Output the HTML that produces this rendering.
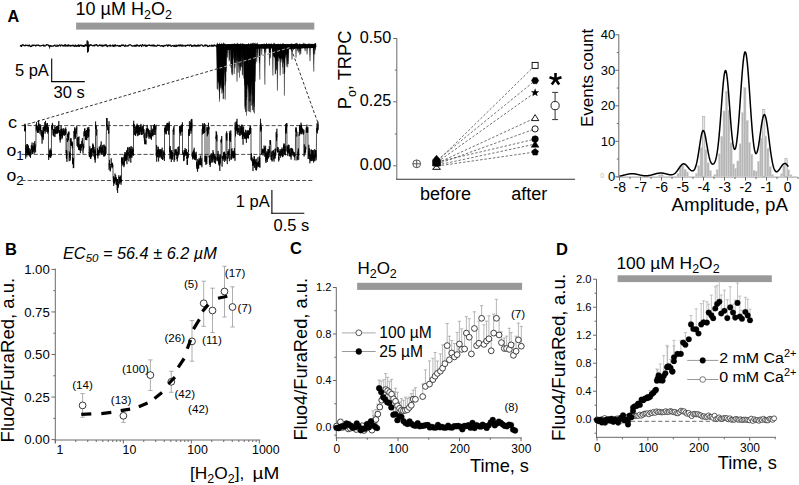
<!DOCTYPE html>
<html><head><meta charset="utf-8"><style>
html,body{margin:0;padding:0;background:#fff;}
svg{display:block;font-family:"Liberation Sans", sans-serif;}
</style></head><body>
<svg width="799" height="485" viewBox="0 0 799 485">
<rect width="799" height="485" fill="#fff"/>
<text x="7.6" y="21.6" font-size="16.2" font-weight="bold">A</text>
<text x="75.6" y="14.7" font-size="18">10 µM H<tspan font-size="12.5" dy="4">2</tspan><tspan dy="-4">O</tspan><tspan font-size="12.5" dy="4">2</tspan></text>
<rect x="76.1" y="22.6" width="238.2" height="7" fill="#999999"/>
<path d="M20 45.71 L20.35 46.06 L20.7 45.14 L21.05 45.62 L21.4 46.46 L21.75 46.47 L22.1 44.78 L22.45 44.96 L22.8 44.61 L23.15 45.47 L23.5 44.57 L23.85 45.51 L24.2 45.93 L24.55 45.11 L24.9 45.99 L25.25 45.8 L25.6 44.55 L25.95 45.73 L26.3 45.07 L26.65 45.41 L27 45.12 L27.35 46.02 L27.7 45.47 L28.05 44.85 L28.4 45.7 L28.75 46.22 L29.1 45.17 L29.45 44.99 L29.8 45.35 L30.15 46.56 L30.5 46.65 L30.85 45.98 L31.2 46.49 L31.55 46.36 L31.9 45.33 L32.25 44.7 L32.6 45.94 L32.95 45.73 L33.3 45.3 L33.65 45 L34 45.39 L34.35 45.53 L34.7 45.09 L35.05 45.14 L35.4 45.51 L35.75 46.39 L36.1 45.79 L36.45 45.12 L36.8 45.11 L37.15 45.5 L37.5 44.95 L37.85 44.94 L38.2 45.63 L38.55 44.69 L38.9 45.56 L39.25 45.3 L39.6 46.06 L39.95 46.14 L40.3 46.02 L40.65 46.02 L41 45.32 L41.35 45.97 L41.7 45.25 L42.05 45.76 L42.4 45.22 L42.75 45.48 L43.1 44.64 L43.45 45.03 L43.8 46.64 L44.15 45.01 L44.5 46.02 L44.85 45.93 L45.2 46.09 L45.55 45.55 L45.9 45.81 L46.25 44.65 L46.6 44.66 L46.95 44.94 L47.3 44.83 L47.65 44.72 L48 44.78 L48.35 45.72 L48.7 44.91 L49.05 46.59 L49.4 46 L49.75 45.69 L50.1 46.06 L50.45 45.08 L50.8 46.54 L51.15 46.35 L51.5 46.1 L51.85 45.56 L52.2 46.35 L52.55 46.14 L52.9 45.95 L53.25 46.51 L53.6 45.89 L53.95 45.31 L54.3 45.72 L54.65 44.93 L55 44.92 L55.35 46.1 L55.7 46.23 L56.05 46.64 L56.4 46.37 L56.75 45.7 L57.1 44.7 L57.45 45.58 L57.8 46.54 L58.15 46.23 L58.5 45.57 L58.85 45.5 L59.2 44.98 L59.55 44.89 L59.9 44.66 L60.25 46.46 L60.6 45.91 L60.95 44.82 L61.3 45.41 L61.65 44.61 L62 44.96 L62.35 46.11 L62.7 45.93 L63.05 45.55 L63.4 45.1 L63.75 45.93 L64.1 46.6 L64.45 45.46 L64.8 44.65 L65.15 44.63 L65.5 44.68 L65.85 46.61 L66.2 45.69 L66.55 46.34 L66.9 44.87 L67.25 45.07 L67.6 46.02 L67.95 46.47 L68.3 45.25 L68.65 44.64 L69 46.4 L69.35 45.14 L69.7 46.13 L70.05 44.85 L70.4 46.03 L70.75 46.35 L71.1 46.1 L71.45 45.29 L71.8 46.1 L72.15 44.81 L72.5 45.19 L72.85 45.42 L73.2 46.43 L73.55 44.84 L73.9 46.44 L74.25 46.26 L74.6 46.64 L74.95 45.31 L75.3 44.95 L75.65 45.03 L76 46.32 L76.35 46.62 L76.7 46.04 L77.05 45.56 L77.4 45.13 L77.75 46.33 L78.1 46.42 L78.45 44.7 L78.8 44.98 L79.15 46.33 L79.5 46.37 L79.85 45.19 L80.2 45.11 L80.55 45.45 L80.9 45.69 L81.25 44.71 L81.6 46.34 L81.95 45.68 L82.3 46.2 L82.65 45.01 L83 46.62 L83.35 46.15 L83.7 45.25 L84.05 46.59 L84.4 46.04 L84.75 46.35 L85.1 44.6 L85.45 44.62 L85.8 46.13 L86.15 45.17 L86.5 45.64 L86.85 44.84 L87.2 46.65 L87.55 45.61 L87.9 46.32 L88.25 44.66 L88.6 45.55 L88.95 44.64 L89.3 46.45 L89.65 45.48 L90 44.65 L90.35 44.67 L90.7 45.69 L91.05 44.67 L91.4 44.9 L91.75 45.46 L92.1 45.6 L92.45 45.78 L92.8 45.87 L93.15 45.32 L93.5 45.86 L93.85 44.85 L94.2 45.11 L94.55 46.26 L94.9 44.84 L95.25 44.99 L95.6 45.03 L95.95 45.55 L96.3 44.5 L96.65 44.57 L97 45.52 L97.35 44.86 L97.7 45.99 L98.05 46.25 L98.4 45.77 L98.75 46.03 L99.1 45.36 L99.45 44.6 L99.8 45.47 L100.15 45.32 L100.5 45.81 L100.85 44.8 L101.2 45 L101.55 46.29 L101.9 45.08 L102.25 45.4 L102.6 46.56 L102.95 45.11 L103.3 44.82 L103.65 46.04 L104 45.75 L104.35 45.85 L104.7 44.59 L105.05 45.42 L105.4 44.51 L105.75 45.04 L106.1 46.05 L106.45 44.64 L106.8 45.15 L107.15 46.67 L107.5 46.64 L107.85 45.56 L108.2 46.12 L108.55 45.89 L108.9 45.52 L109.25 46.39 L109.6 44.88 L109.95 46.32 L110.3 44.59 L110.65 46.41 L111 45.99 L111.35 45.48 L111.7 45.98 L112.05 45.51 L112.4 46.22 L112.75 44.75 L113.1 45.62 L113.45 46.42 L113.8 46.54 L114.15 44.98 L114.5 45.05 L114.85 46.49 L115.2 45.26 L115.55 44.63 L115.9 46.07 L116.25 45.41 L116.6 46.12 L116.95 45.55 L117.3 45.6 L117.65 45.42 L118 45.14 L118.35 46.48 L118.7 45.97 L119.05 46.24 L119.4 46.47 L119.75 45.05 L120.1 46.52 L120.45 46.4 L120.8 45.61 L121.15 45.75 L121.5 44.75 L121.85 46.18 L122.2 44.88 L122.55 45.67 L122.9 44.78 L123.25 44.66 L123.6 45.84 L123.95 45.58 L124.3 45.98 L124.65 46.24 L125 46.66 L125.35 44.68 L125.7 45.89 L126.05 45.77 L126.4 45.93 L126.75 45.69 L127.1 45.73 L127.45 46.41 L127.8 45.49 L128.15 45.68 L128.5 46.02 L128.85 44.7 L129.2 45.45 L129.55 44.72 L129.9 44.8 L130.25 44.5 L130.6 44.96 L130.95 44.98 L131.3 45.64 L131.65 45.75 L132 46.31 L132.35 45.57 L132.7 46.46 L133.05 45.37 L133.4 46.14 L133.75 45.72 L134.1 45.87 L134.45 45.09 L134.8 46.56 L135.15 46.19 L135.5 44.82 L135.85 45.68 L136.2 46.69 L136.55 44.61 L136.9 45.17 L137.25 46.13 L137.6 44.59 L137.95 46.14 L138.3 45.76 L138.65 46.11 L139 45.71 L139.35 46.57 L139.7 45.26 L140.05 45.76 L140.4 44.61 L140.75 45.72 L141.1 45.42 L141.45 46.66 L141.8 46.58 L142.15 44.8 L142.5 44.59 L142.85 44.77 L143.2 44.92 L143.55 46.1 L143.9 45.7 L144.25 45.68 L144.6 45.52 L144.95 44.51 L145.3 45.36 L145.65 46.7 L146 46.3 L146.35 45.76 L146.7 44.93 L147.05 46.53 L147.4 45.43 L147.75 45.86 L148.1 44.95 L148.45 45.22 L148.8 45.26 L149.15 45.37 L149.5 44.55 L149.85 45.95 L150.2 44.87 L150.55 45.83 L150.9 45.86 L151.25 46.04 L151.6 45.14 L151.95 45.14 L152.3 46.16 L152.65 45.35 L153 44.84 L153.35 46.49 L153.7 44.53 L154.05 46.45 L154.4 45.14 L154.75 45.34 L155.1 46.65 L155.45 45.46 L155.8 46.07 L156.15 45.41 L156.5 46.51 L156.85 46.08 L157.2 45.56 L157.55 44.69 L157.9 45.3 L158.25 45.58 L158.6 45.12 L158.95 45.68 L159.3 44.96 L159.65 45.59 L160 45.66 L160.35 45.98 L160.7 46.14 L161.05 46.11 L161.4 45.43 L161.75 45.5 L162.1 46.42 L162.45 45.3 L162.8 46.12 L163.15 46.69 L163.5 46.53 L163.85 45.71 L164.2 45.17 L164.55 45.87 L164.9 46.01 L165.25 45.66 L165.6 45.25 L165.95 45.5 L166.3 44.68 L166.65 45.14 L167 44.82 L167.35 45.97 L167.7 46.61 L168.05 44.85 L168.4 44.56 L168.75 46.13 L169.1 45.28 L169.45 45.61 L169.8 44.63 L170.15 44.89 L170.5 46.03 L170.85 45.83 L171.2 46.38 L171.55 46.62 L171.9 45.29 L172.25 45.86 L172.6 45.48 L172.95 45.61 L173.3 45.36 L173.65 46.65 L174 45.87 L174.35 44.81 L174.7 46.04 L175.05 46.62 L175.4 46.47 L175.75 45.73 L176.1 44.53 L176.45 46.27 L176.8 46.55 L177.15 46.11 L177.5 45.44 L177.85 45.34 L178.2 46.14 L178.55 44.74 L178.9 46.23 L179.25 45.6 L179.6 44.65 L179.95 46.31 L180.3 45.36 L180.65 44.73 L181 44.88 L181.35 46.39 L181.7 44.88 L182.05 46.23 L182.4 46.27 L182.75 44.69 L183.1 45.46 L183.45 46.23 L183.8 45.58 L184.15 46.41 L184.5 45.34 L184.85 45.88 L185.2 44.97 L185.55 46.35 L185.9 46.35 L186.25 45.74 L186.6 45.21 L186.95 45.26 L187.3 45.81 L187.65 44.78 L188 45.62 L188.35 45.15 L188.7 45.25 L189.05 45.21 L189.4 46.34 L189.75 44.89 L190.1 45.02 L190.45 44.86 L190.8 44.53 L191.15 45.44 L191.5 46.36 L191.85 46.49 L192.2 45.57 L192.55 45.43 L192.9 46.41 L193.25 45.66 L193.6 45.71 L193.95 45.93 L194.3 44.68 L194.65 46.34 L195 44.73 L195.35 45.67 L195.7 46.54 L196.05 45.71 L196.4 45.25 L196.75 46.1 L197.1 46.48 L197.45 45.86 L197.8 44.62 L198.15 46.43 L198.5 44.54 L198.85 45.99 L199.2 46.48 L199.55 44.85 L199.9 45.66 L200.25 46.05 L200.6 44.89 L200.95 45.04 L201.3 44.65 L201.65 44.85 L202 44.76 L202.35 45.14 L202.7 46.15 L203.05 46.03 L203.4 46.18 L203.75 45.95 L204.1 46.25 L204.45 44.83 L204.8 45.72 L205.15 44.55 L205.5 45.58 L205.85 46.36 L206.2 45.54 L206.55 45.15 L206.9 45.1 L207.25 45.37 L207.6 46.51 L207.95 46.64 L208.3 46.15 L208.65 46.67 L209 46.18 L209.35 45.13 L209.7 45.46 L210.05 46.09 L210.4 46.06 L210.75 45.99 L211.1 45.57 L211.45 44.81 L211.8 46.61 L212.15 44.98 L212.5 46.65 L212.85 44.78 L213.2 46.66 L213.55 45.33 L213.9 46.28 L214.25 44.52 L214.6 45.48 L214.95 45.05 L215.3 46.03 L215.65 45.96 L216 45.52 L216.35 46.05 L216.7 46.65" fill="none" stroke="#000" stroke-width="1.1" stroke-linejoin="bevel"/>
<path d="M216.6 46.4 L217.05 68.45 L217.5 79.53 L217.95 82.99 L218.4 82.1 L218.85 91.89 L219.3 84.4 L219.75 93.9 L220.2 88.47 L220.65 82.4 L221.1 89.88 L221.55 78.99 L222 89.23 L222.45 87.82 L222.9 92.73 L223.35 89.67 L223.8 81.8 L224.25 76.18 L224.7 71.63 L225.15 59.76 L225.6 53.21 L226.05 49.5 L226.5 49.62 L226.95 49.69 L227.4 49.89 L227.85 50.22 L228.3 49.93 L228.75 50 L229.2 49.51 L229.65 49.81 L230.1 49.65 L230.55 50.29 L231 49.42 L231.45 50.14 L231.9 50.24 L232.35 50.01 L232.8 49.45 L233.25 49.7 L233.7 49.69 L234.15 49.72 L234.6 49.72 L235.05 50.57 L235.5 50.35 L235.95 50.47 L236.4 50.26 L236.85 49.82 L237.3 50.53 L237.75 49.98 L238.2 49.62 L238.65 50.28 L239.1 49.71 L239.55 50.39 L240 50.29 L240.45 49.75 L240.9 49.95 L241.35 50.26 L241.8 50.2 L242.25 50.03 L242.7 49.66 L243.15 58.69 L243.6 78.46 L244.05 78.98 L244.5 85.01 L244.95 85.76 L245.4 82.72 L245.85 80.4 L246.3 89.15 L246.75 85.81 L247.2 89.8 L247.65 84.32 L248.1 84.98 L248.55 89.42 L249 93.47 L249.45 85.62 L249.9 94.73 L250.35 94.96 L250.8 91.51 L251.25 91.41 L251.7 83.1 L252.15 80.07 L252.6 81.52 L253.05 76.82 L253.5 77.76 L253.95 75.26 L254.4 59.75 L254.85 51.75 L255.3 48.61 L255.75 48.4 L256.2 48.76 L256.65 48.6 L257.1 48.52 L257.55 48.66 L258 49.02 L258.45 48.84 L258.9 48.5 L259.35 48.97 L259.8 48.41 L260.25 48.58 L260.7 48.55 L261.15 49.01 L261.6 48.28 L262.05 48.76 L262.5 48.66 L262.95 48.39 L263.4 48.76 L263.85 48.88 L264.3 48.85 L264.75 48.33 L265.2 48.87 L265.65 48.53 L266.1 48.91 L266.55 48.7 L267 48.33 L267.45 48.83 L267.9 48.7 L268.35 48.61 L268.8 48.75 L269.25 48.61 L269.7 48.3 L270.15 48.96 L270.6 48.49 L271.05 48.48 L271.5 48.31 L271.95 48.81 L272.4 52.03 L272.85 54.29 L273.3 56.94 L273.75 56.16 L274.2 57.13 L274.65 57.54 L275.1 58.31 L275.55 60.27 L276 59.96 L276.45 58.37 L276.9 60.85 L277.35 58.74 L277.8 58.72 L278.25 57.48 L278.7 56.57 L279.15 58.84 L279.6 58.33 L280.05 60.87 L280.5 57.36 L280.95 61.31 L281.4 58.04 L281.85 59.11 L282.3 58.16 L282.75 59.94 L283.2 58.73 L283.65 58.07 L284.1 60.16 L284.55 58.04 L285 58.73 L285.45 57.69 L285.9 55.09 L286.35 55.2 L286.8 53.19 L287.25 52.56 L287.7 51.81 L288.15 50.24 L288.6 48.72 L289.05 48.7 L289.5 49.29 L289.95 49.21 L290.4 49.14 L290.85 48.74 L291.3 49.2 L291.75 49.01 L292.2 48.62 L292.65 48.62 L293.1 48.97 L293.55 49.24 L294 48.9 L294.45 48.64 L294.9 48.96 L295.35 48.53 L295.8 48.85 L296.25 48.65 L296.7 48.34 L297.15 48.69 L297.6 48.66 L298.05 48.94 L298.5 48.76 L298.95 48.44 L299.4 48.67 L299.85 48.36 L300.3 48.63 L300.75 48.57 L301.2 48.56 L301.65 48.22 L302.1 48.58 L302.55 48.44 L303 48.55 L303.45 48.07 L303.9 48.49 L304.35 48.61 L304.8 48.35 L305.25 48.05 L305.7 48.52 L306.15 48.27 L306.6 48.08 L307.05 48.26 L307.5 48.38 L307.95 47.92 L308.4 48.16 L308.85 48.18 L309.3 48.32 L309.75 47.8 L310.2 48.04 L310.65 48.14 L311.1 48.08 L311.55 48.16 L312 48.03 L312.45 47.99 L312.9 47.96 L313.35 47.71 L313.8 48.03 L314.25 47.84 L314.7 47.59 L315.15 47.94 L315.6 47.86 L316 44.3 L216.6 44.3 Z" fill="#000" stroke="none" stroke-width="0"/>
<path d="M221.98 45.6 L222.59 84.43 L223.2 45.6 Z" fill="#000" stroke="#000" stroke-width="0.35"/>
<path d="M222.5 45.6 L223 89.01 L223.49 45.6 Z" fill="#000" stroke="#000" stroke-width="0.35"/>
<path d="M223.45 45.6 L223.92 86.1 L224.39 45.6 Z" fill="#000" stroke="#000" stroke-width="0.35"/>
<path d="M219.47 45.6 L219.85 85.25 L220.23 45.6 Z" fill="#000" stroke="#000" stroke-width="0.35"/>
<path d="M216.72 45.6 L217.16 88.78 L217.59 45.6 Z" fill="#000" stroke="#000" stroke-width="0.35"/>
<path d="M222.57 45.6 L222.94 90.32 L223.32 45.6 Z" fill="#000" stroke="#000" stroke-width="0.35"/>
<path d="M219.07 45.6 L219.53 98.58 L220 45.6 Z" fill="#000" stroke="#000" stroke-width="0.35"/>
<path d="M222.76 45.6 L223.18 99.15 L223.59 45.6 Z" fill="#000" stroke="#000" stroke-width="0.35"/>
<path d="M219 45.6 L219.58 86.7 L220.15 45.6 Z" fill="#000" stroke="#000" stroke-width="0.35"/>
<path d="M224.62 45.6 L225.23 84.87 L225.84 45.6 Z" fill="#000" stroke="#000" stroke-width="0.35"/>
<path d="M223.16 45.6 L223.68 98.76 L224.2 45.6 Z" fill="#000" stroke="#000" stroke-width="0.35"/>
<path d="M222.58 45.6 L223.1 92.79 L223.62 45.6 Z" fill="#000" stroke="#000" stroke-width="0.35"/>
<path d="M219.67 45.6 L220.14 88.33 L220.61 45.6 Z" fill="#000" stroke="#000" stroke-width="0.35"/>
<path d="M216.88 45.6 L217.57 89.66 L218.26 45.6 Z" fill="#000" stroke="#000" stroke-width="0.35"/>
<path d="M220.58 45.6 L221.27 87.58 L221.97 45.6 Z" fill="#000" stroke="#000" stroke-width="0.35"/>
<path d="M224.67 45.6 L225.24 99.58 L225.82 45.6 Z" fill="#000" stroke="#000" stroke-width="0.35"/>
<path d="M230.28 45.6 L230.92 67.61 L231.57 45.6 Z" fill="#000" stroke="#000" stroke-width="0.35"/>
<path d="M240.53 45.6 L241.01 67.27 L241.49 45.6 Z" fill="#000" stroke="#000" stroke-width="0.35"/>
<path d="M231.43 45.6 L231.98 72.52 L232.54 45.6 Z" fill="#000" stroke="#000" stroke-width="0.35"/>
<path d="M234.51 45.6 L234.99 67.99 L235.47 45.6 Z" fill="#000" stroke="#000" stroke-width="0.35"/>
<path d="M238.19 45.6 L238.87 61.37 L239.55 45.6 Z" fill="#000" stroke="#000" stroke-width="0.35"/>
<path d="M237.1 45.6 L237.67 60.93 L238.23 45.6 Z" fill="#000" stroke="#000" stroke-width="0.35"/>
<path d="M236.43 45.6 L237.09 60.73 L237.75 45.6 Z" fill="#000" stroke="#000" stroke-width="0.35"/>
<path d="M238.97 45.6 L239.54 62.55 L240.1 45.6 Z" fill="#000" stroke="#000" stroke-width="0.35"/>
<path d="M241.95 45.6 L242.33 59.07 L242.71 45.6 Z" fill="#000" stroke="#000" stroke-width="0.35"/>
<path d="M237.69 45.6 L238.14 72.7 L238.6 45.6 Z" fill="#000" stroke="#000" stroke-width="0.35"/>
<path d="M240.25 45.6 L240.81 66 L241.37 45.6 Z" fill="#000" stroke="#000" stroke-width="0.35"/>
<path d="M234.67 45.6 L235.34 61.48 L236.01 45.6 Z" fill="#000" stroke="#000" stroke-width="0.35"/>
<path d="M239.98 45.6 L240.56 70.85 L241.14 45.6 Z" fill="#000" stroke="#000" stroke-width="0.35"/>
<path d="M234.25 45.6 L234.73 65.66 L235.2 45.6 Z" fill="#000" stroke="#000" stroke-width="0.35"/>
<path d="M241.05 45.6 L241.63 66.82 L242.21 45.6 Z" fill="#000" stroke="#000" stroke-width="0.35"/>
<path d="M227.02 45.6 L227.6 57.76 L228.17 45.6 Z" fill="#000" stroke="#000" stroke-width="0.35"/>
<path d="M238.34 45.6 L239.03 66.12 L239.72 45.6 Z" fill="#000" stroke="#000" stroke-width="0.35"/>
<path d="M234.9 45.6 L235.46 64.26 L236.02 45.6 Z" fill="#000" stroke="#000" stroke-width="0.35"/>
<path d="M226.03 45.6 L226.39 71.66 L226.74 45.6 Z" fill="#000" stroke="#000" stroke-width="0.35"/>
<path d="M231.79 45.6 L232.49 64.88 L233.18 45.6 Z" fill="#000" stroke="#000" stroke-width="0.35"/>
<path d="M233.09 45.6 L233.49 58.27 L233.89 45.6 Z" fill="#000" stroke="#000" stroke-width="0.35"/>
<path d="M241.9 45.6 L242.37 74.79 L242.85 45.6 Z" fill="#000" stroke="#000" stroke-width="0.35"/>
<path d="M225.48 45.6 L226.17 56.69 L226.85 45.6 Z" fill="#000" stroke="#000" stroke-width="0.35"/>
<path d="M231.98 45.6 L232.57 75.24 L233.15 45.6 Z" fill="#000" stroke="#000" stroke-width="0.35"/>
<path d="M233.6 45.6 L234.19 74.05 L234.78 45.6 Z" fill="#000" stroke="#000" stroke-width="0.35"/>
<path d="M231.31 45.6 L231.81 65.51 L232.31 45.6 Z" fill="#000" stroke="#000" stroke-width="0.35"/>
<path d="M239.6 45.6 L240.09 68.77 L240.58 45.6 Z" fill="#000" stroke="#000" stroke-width="0.35"/>
<path d="M230.76 45.6 L231.21 64.73 L231.67 45.6 Z" fill="#000" stroke="#000" stroke-width="0.35"/>
<path d="M235.99 45.6 L236.61 63.62 L237.23 45.6 Z" fill="#000" stroke="#000" stroke-width="0.35"/>
<path d="M228.89 45.6 L229.37 60.1 L229.85 45.6 Z" fill="#000" stroke="#000" stroke-width="0.35"/>
<path d="M238.2 45.6 L238.59 59.81 L238.98 45.6 Z" fill="#000" stroke="#000" stroke-width="0.35"/>
<path d="M228.73 45.6 L229.15 61.35 L229.57 45.6 Z" fill="#000" stroke="#000" stroke-width="0.35"/>
<path d="M242.41 45.6 L242.81 75.43 L243.21 45.6 Z" fill="#000" stroke="#000" stroke-width="0.35"/>
<path d="M233.49 45.6 L234.16 59.96 L234.82 45.6 Z" fill="#000" stroke="#000" stroke-width="0.35"/>
<path d="M247.66 45.6 L248.1 111.26 L248.54 45.6 Z" fill="#000" stroke="#000" stroke-width="0.35"/>
<path d="M249.24 45.6 L249.67 111.61 L250.1 45.6 Z" fill="#000" stroke="#000" stroke-width="0.35"/>
<path d="M252.54 45.6 L253.12 109.88 L253.7 45.6 Z" fill="#000" stroke="#000" stroke-width="0.35"/>
<path d="M252.71 45.6 L253.17 103.86 L253.62 45.6 Z" fill="#000" stroke="#000" stroke-width="0.35"/>
<path d="M244.31 45.6 L244.94 109.19 L245.57 45.6 Z" fill="#000" stroke="#000" stroke-width="0.35"/>
<path d="M253.82 45.6 L254.41 106.85 L255 45.6 Z" fill="#000" stroke="#000" stroke-width="0.35"/>
<path d="M245.29 45.6 L245.84 112.16 L246.4 45.6 Z" fill="#000" stroke="#000" stroke-width="0.35"/>
<path d="M253.11 45.6 L253.62 112.08 L254.14 45.6 Z" fill="#000" stroke="#000" stroke-width="0.35"/>
<path d="M250.14 45.6 L250.62 112.37 L251.11 45.6 Z" fill="#000" stroke="#000" stroke-width="0.35"/>
<path d="M245.17 45.6 L245.68 105.1 L246.18 45.6 Z" fill="#000" stroke="#000" stroke-width="0.35"/>
<path d="M253.83 45.6 L254.42 113.5 L255.02 45.6 Z" fill="#000" stroke="#000" stroke-width="0.35"/>
<path d="M251.84 45.6 L252.21 105.34 L252.58 45.6 Z" fill="#000" stroke="#000" stroke-width="0.35"/>
<path d="M249.79 45.6 L250.22 101.45 L250.65 45.6 Z" fill="#000" stroke="#000" stroke-width="0.35"/>
<path d="M244.97 45.6 L245.56 111.53 L246.16 45.6 Z" fill="#000" stroke="#000" stroke-width="0.35"/>
<path d="M249.13 45.6 L249.73 100.78 L250.33 45.6 Z" fill="#000" stroke="#000" stroke-width="0.35"/>
<path d="M246.21 45.6 L246.76 97.05 L247.31 45.6 Z" fill="#000" stroke="#000" stroke-width="0.35"/>
<path d="M244.69 45.6 L245.13 106.95 L245.57 45.6 Z" fill="#000" stroke="#000" stroke-width="0.35"/>
<path d="M245.86 45.6 L246.29 99.94 L246.72 45.6 Z" fill="#000" stroke="#000" stroke-width="0.35"/>
<path d="M252.18 45.6 L252.72 95.47 L253.26 45.6 Z" fill="#000" stroke="#000" stroke-width="0.35"/>
<path d="M253.47 45.6 L253.92 101.9 L254.36 45.6 Z" fill="#000" stroke="#000" stroke-width="0.35"/>
<path d="M251.91 45.6 L252.52 110.08 L253.12 45.6 Z" fill="#000" stroke="#000" stroke-width="0.35"/>
<path d="M250.23 45.6 L250.85 94.66 L251.47 45.6 Z" fill="#000" stroke="#000" stroke-width="0.35"/>
<path d="M258.81 45.6 L259.41 60.74 L260.01 45.6 Z" fill="#000" stroke="#000" stroke-width="0.35"/>
<path d="M256.26 45.6 L256.83 61.9 L257.4 45.6 Z" fill="#000" stroke="#000" stroke-width="0.35"/>
<path d="M258.82 45.6 L259.48 59.84 L260.15 45.6 Z" fill="#000" stroke="#000" stroke-width="0.35"/>
<path d="M257.02 45.6 L257.57 57.05 L258.11 45.6 Z" fill="#000" stroke="#000" stroke-width="0.35"/>
<path d="M255.3 45.6 L255.75 63.56 L256.2 45.6 Z" fill="#000" stroke="#000" stroke-width="0.35"/>
<path d="M261.38 45.6 L261.81 55.17 L262.24 45.6 Z" fill="#000" stroke="#000" stroke-width="0.35"/>
<path d="M259.04 45.6 L259.43 63.2 L259.81 45.6 Z" fill="#000" stroke="#000" stroke-width="0.35"/>
<path d="M268.91 45.6 L269.48 52.79 L270.04 45.6 Z" fill="#000" stroke="#000" stroke-width="0.35"/>
<path d="M264 45.6 L264.62 52.47 L265.23 45.6 Z" fill="#000" stroke="#000" stroke-width="0.35"/>
<path d="M269.81 45.6 L270.38 58.09 L270.94 45.6 Z" fill="#000" stroke="#000" stroke-width="0.35"/>
<path d="M269.73 45.6 L270.13 52.39 L270.52 45.6 Z" fill="#000" stroke="#000" stroke-width="0.35"/>
<path d="M265.18 45.6 L265.78 52.5 L266.37 45.6 Z" fill="#000" stroke="#000" stroke-width="0.35"/>
<path d="M283.06 45.6 L283.67 63.36 L284.28 45.6 Z" fill="#000" stroke="#000" stroke-width="0.35"/>
<path d="M284.15 45.6 L284.63 72.29 L285.11 45.6 Z" fill="#000" stroke="#000" stroke-width="0.35"/>
<path d="M280.53 45.6 L281.07 62.39 L281.61 45.6 Z" fill="#000" stroke="#000" stroke-width="0.35"/>
<path d="M276.09 45.6 L276.46 68.68 L276.84 45.6 Z" fill="#000" stroke="#000" stroke-width="0.35"/>
<path d="M283.94 45.6 L284.5 62.81 L285.06 45.6 Z" fill="#000" stroke="#000" stroke-width="0.35"/>
<path d="M282.66 45.6 L283.02 74.14 L283.38 45.6 Z" fill="#000" stroke="#000" stroke-width="0.35"/>
<path d="M283.98 45.6 L284.45 73.81 L284.92 45.6 Z" fill="#000" stroke="#000" stroke-width="0.35"/>
<path d="M287.67 45.6 L288.3 63.99 L288.93 45.6 Z" fill="#000" stroke="#000" stroke-width="0.35"/>
<path d="M274.97 45.6 L275.54 74.01 L276.11 45.6 Z" fill="#000" stroke="#000" stroke-width="0.35"/>
<path d="M278.14 45.6 L278.62 61.33 L279.1 45.6 Z" fill="#000" stroke="#000" stroke-width="0.35"/>
<path d="M281.93 45.6 L282.6 67.26 L283.27 45.6 Z" fill="#000" stroke="#000" stroke-width="0.35"/>
<path d="M274.7 45.6 L275.26 74.26 L275.83 45.6 Z" fill="#000" stroke="#000" stroke-width="0.35"/>
<path d="M279.48 45.6 L280.16 75.46 L280.83 45.6 Z" fill="#000" stroke="#000" stroke-width="0.35"/>
<path d="M276.26 45.6 L276.78 60.55 L277.3 45.6 Z" fill="#000" stroke="#000" stroke-width="0.35"/>
<path d="M286.85 45.6 L287.43 64.34 L288.01 45.6 Z" fill="#000" stroke="#000" stroke-width="0.35"/>
<path d="M287.13 45.6 L287.7 67.35 L288.28 45.6 Z" fill="#000" stroke="#000" stroke-width="0.35"/>
<path d="M283.42 45.6 L283.79 61.46 L284.15 45.6 Z" fill="#000" stroke="#000" stroke-width="0.35"/>
<path d="M276.1 45.6 L276.5 70.46 L276.9 45.6 Z" fill="#000" stroke="#000" stroke-width="0.35"/>
<path d="M314.37 45.6 L314.76 54.34 L315.15 45.6 Z" fill="#000" stroke="#000" stroke-width="0.35"/>
<path d="M313.09 45.6 L313.52 54.02 L313.94 45.6 Z" fill="#000" stroke="#000" stroke-width="0.35"/>
<path d="M314.58 45.6 L315.27 50.27 L315.97 45.6 Z" fill="#000" stroke="#000" stroke-width="0.35"/>
<path d="M292.6 45.6 L293.18 50.28 L293.77 45.6 Z" fill="#000" stroke="#000" stroke-width="0.35"/>
<path d="M304.48 45.6 L305.08 51.19 L305.68 45.6 Z" fill="#000" stroke="#000" stroke-width="0.35"/>
<path d="M290.24 45.6 L290.91 49.47 L291.59 45.6 Z" fill="#000" stroke="#000" stroke-width="0.35"/>
<path d="M296.9 45.6 L297.31 50.95 L297.72 45.6 Z" fill="#000" stroke="#000" stroke-width="0.35"/>
<path d="M297.64 45.6 L298.26 52.56 L298.87 45.6 Z" fill="#000" stroke="#000" stroke-width="0.35"/>
<path d="M306.51 45.6 L307.04 54.51 L307.57 45.6 Z" fill="#000" stroke="#000" stroke-width="0.35"/>
<path d="M299.39 45.6 L299.88 55.17 L300.36 45.6 Z" fill="#000" stroke="#000" stroke-width="0.35"/>
<path d="M299.3 45.6 L299.91 51.56 L300.52 45.6 Z" fill="#000" stroke="#000" stroke-width="0.35"/>
<path d="M300.14 45.6 L300.77 53.95 L301.4 45.6 Z" fill="#000" stroke="#000" stroke-width="0.35"/>
<path d="M218.94 45.6 L219.5 101.6 L220.06 45.6 Z" fill="#000" stroke="#000" stroke-width="0.35"/>
<path d="M221.21 45.6 L221.8 93.6 L222.39 45.6 Z" fill="#000" stroke="#000" stroke-width="0.35"/>
<path d="M225.15 45.6 L225.8 81.6 L226.45 45.6 Z" fill="#000" stroke="#000" stroke-width="0.35"/>
<path d="M231.32 45.6 L231.8 74.6 L232.28 45.6 Z" fill="#000" stroke="#000" stroke-width="0.35"/>
<path d="M236.36 45.6 L237 81.6 L237.64 45.6 Z" fill="#000" stroke="#000" stroke-width="0.35"/>
<path d="M238.98 45.6 L239.5 77.6 L240.02 45.6 Z" fill="#000" stroke="#000" stroke-width="0.35"/>
<path d="M245.83 45.6 L246.5 115.6 L247.17 45.6 Z" fill="#000" stroke="#000" stroke-width="0.35"/>
<path d="M248.4 45.6 L249 111.6 L249.6 45.6 Z" fill="#000" stroke="#000" stroke-width="0.35"/>
<path d="M250.63 45.6 L251.2 105.6 L251.77 45.6 Z" fill="#000" stroke="#000" stroke-width="0.35"/>
<path d="M254.51 45.6 L255.2 81.6 L255.89 45.6 Z" fill="#000" stroke="#000" stroke-width="0.35"/>
<path d="M259.27 45.6 L259.8 79.6 L260.33 45.6 Z" fill="#000" stroke="#000" stroke-width="0.35"/>
<path d="M264.47 45.6 L264.9 84.6 L265.33 45.6 Z" fill="#000" stroke="#000" stroke-width="0.35"/>
<path d="M268.97 45.6 L269.5 65.6 L270.03 45.6 Z" fill="#000" stroke="#000" stroke-width="0.35"/>
<path d="M272.42 45.6 L272.9 75.6 L273.38 45.6 Z" fill="#000" stroke="#000" stroke-width="0.35"/>
<path d="M276.71 45.6 L277.4 90.6 L278.09 45.6 Z" fill="#000" stroke="#000" stroke-width="0.35"/>
<path d="M283.99 45.6 L284.4 95.6 L284.81 45.6 Z" fill="#000" stroke="#000" stroke-width="0.35"/>
<path d="M285.73 45.6 L286.3 66.6 L286.87 45.6 Z" fill="#000" stroke="#000" stroke-width="0.35"/>
<path d="M291.45 45.6 L292 59.6 L292.55 45.6 Z" fill="#000" stroke="#000" stroke-width="0.35"/>
<path d="M295.61 45.6 L296 57.6 L296.39 45.6 Z" fill="#000" stroke="#000" stroke-width="0.35"/>
<path d="M309.41 45.6 L310 61.1 L310.59 45.6 Z" fill="#000" stroke="#000" stroke-width="0.35"/>
<path d="M313.25 45.6 L313.8 71.6 L314.35 45.6 Z" fill="#000" stroke="#000" stroke-width="0.35"/>
<path d="M216.6 44.98 L216.95 45.92 L217.3 44.4 L217.65 45.34 L218 44.72 L218.35 45.09 L218.7 44.86 L219.05 45.44 L219.4 45.8 L219.75 44.34 L220.1 45.06 L220.45 45.52 L220.8 44.72 L221.15 44.81 L221.5 45.9 L221.85 44.4 L222.2 45.26 L222.55 45.46 L222.9 45.39 L223.25 44.32 L223.6 45.93 L223.95 44.24 L224.3 44.26 L224.65 45.2 L225 44.34 L225.35 44.78 L225.7 45.63 L226.05 45.21 L226.4 45.25 L226.75 45.85 L227.1 44.39 L227.45 45.98 L227.8 45.35 L228.15 45.44 L228.5 44.23 L228.85 45.77 L229.2 44.91 L229.55 44.92 L229.9 45.35 L230.25 44.92 L230.6 45.89 L230.95 45.85 L231.3 44.87 L231.65 44.61 L232 44.93 L232.35 45.99 L232.7 44.75 L233.05 45.09 L233.4 44.56 L233.75 45.07 L234.1 45.91 L234.45 44.92 L234.8 44.22 L235.15 45.31 L235.5 45.61 L235.85 44.82 L236.2 44.38 L236.55 44.85 L236.9 45.62 L237.25 45.05 L237.6 44.24 L237.95 45.46 L238.3 44.68 L238.65 45.19 L239 44.97 L239.35 44.55 L239.7 44.91 L240.05 44.68 L240.4 45.17 L240.75 44.47 L241.1 46 L241.45 45.69 L241.8 45.51 L242.15 44.65 L242.5 45.92 L242.85 45.95 L243.2 44.41 L243.55 44.65 L243.9 44.44 L244.25 44.73 L244.6 45.62 L244.95 45.97 L245.3 45.16 L245.65 44.96 L246 45.54 L246.35 45.75 L246.7 45.12 L247.05 45.08 L247.4 44.93 L247.75 44.99 L248.1 44.99 L248.45 44.41 L248.8 45.88 L249.15 45.14 L249.5 45.44 L249.85 45.02 L250.2 45.61 L250.55 44.6 L250.9 45.72 L251.25 45.93 L251.6 44.43 L251.95 44.99 L252.3 44.27 L252.65 45.6 L253 45.14 L253.35 44.26 L253.7 45.83 L254.05 45.86 L254.4 44.7 L254.75 45.53 L255.1 44.33 L255.45 45.38 L255.8 44.77 L256.15 44.24 L256.5 44.75 L256.85 45.17 L257.2 44.26 L257.55 45.78 L257.9 44.95 L258.25 45.12 L258.6 45.94 L258.95 45.87 L259.3 45.49 L259.65 45.51 L260 45.71 L260.35 45.34 L260.7 45.29 L261.05 45.76 L261.4 44.43 L261.75 45.97 L262.1 44.65 L262.45 44.62 L262.8 45.32 L263.15 45.2 L263.5 45.18 L263.85 45.77 L264.2 44.21 L264.55 44.47 L264.9 44.55 L265.25 45.19 L265.6 44.85 L265.95 45.36 L266.3 44.95 L266.65 44.25 L267 45.62 L267.35 45.11 L267.7 44.91 L268.05 44.7 L268.4 45.76 L268.75 45.33 L269.1 44.38 L269.45 44.91 L269.8 45.98 L270.15 44.66 L270.5 44.42 L270.85 44.32 L271.2 44.32 L271.55 44.27 L271.9 45.04 L272.25 45.83 L272.6 45.91 L272.95 45.83 L273.3 44.89 L273.65 45.44 L274 44.31 L274.35 45.59 L274.7 44.7 L275.05 45.38 L275.4 44.72 L275.75 45.08 L276.1 45.03 L276.45 45.3 L276.8 44.79 L277.15 44.54 L277.5 45.22 L277.85 45.59 L278.2 44.89 L278.55 45.93 L278.9 45 L279.25 44.9 L279.6 44.9 L279.95 45.93 L280.3 44.73 L280.65 45.32 L281 45.15 L281.35 45.97 L281.7 44.28 L282.05 45.96 L282.4 44.83 L282.75 45.65 L283.1 44.56 L283.45 45.48 L283.8 44.8 L284.15 44.54 L284.5 44.52 L284.85 44.51 L285.2 45.84 L285.55 45.02 L285.9 44.77 L286.25 45.66 L286.6 45.17 L286.95 45.41 L287.3 44.71 L287.65 44.55 L288 44.46 L288.35 44.81 L288.7 44.94 L289.05 45.35 L289.4 44.9 L289.75 44.89 L290.1 44.56 L290.45 44.91 L290.8 45.19 L291.15 44.45 L291.5 45.56 L291.85 45.85 L292.2 45.22 L292.55 44.76 L292.9 45.95 L293.25 44.42 L293.6 44.54 L293.95 45.58 L294.3 45.66 L294.65 44.87 L295 44.37 L295.35 45.35 L295.7 44.82 L296.05 45.73 L296.4 44.32 L296.75 45.16 L297.1 44.5 L297.45 45.9 L297.8 45.95 L298.15 45.26 L298.5 45.45 L298.85 45.78 L299.2 45.83 L299.55 44.41 L299.9 44.8 L300.25 45.63 L300.6 44.69 L300.95 44.96 L301.3 45.97 L301.65 45.05 L302 45.24 L302.35 44.6 L302.7 44.47 L303.05 45.83 L303.4 45.58 L303.75 44.44 L304.1 45.88 L304.45 45.81 L304.8 44.79 L305.15 45.78 L305.5 44.44 L305.85 44.65 L306.2 45.78 L306.55 45.15 L306.9 44.94 L307.25 44.74 L307.6 44.59 L307.95 44.52 L308.3 45.01 L308.65 45.1 L309 44.35 L309.35 45.52 L309.7 44.36 L310.05 44.45 L310.4 45.8 L310.75 44.87 L311.1 44.43 L311.45 44.91 L311.8 44.51 L312.15 44.42 L312.5 45.97 L312.85 44.35 L313.2 45.54 L313.55 45.01 L313.9 44.61 L314.25 45.78 L314.6 45.14 L314.95 44.28 L315.3 44.89 L315.65 45.3" fill="none" stroke="#000" stroke-width="1.2"/>
<path d="M315.2 46.5 L315.5 43.2 L316 46.5" fill="#000" stroke="#000" stroke-width="0.8"/>
<path d="M86.8 46 L87.2 40.5 L87.6 52.5 L88 41.5 L88.4 51.5 L88.8 46" fill="none" stroke="#000" stroke-width="0.9"/>
<path d="M49.3 46 L49.6 48.5 L49.9 46" fill="none" stroke="#000" stroke-width="0.6"/>
<line x1="51.7" y1="58.5" x2="51.7" y2="82.1" stroke="#000" stroke-width="1.1"/>
<line x1="51.2" y1="81.6" x2="84.8" y2="81.6" stroke="#000" stroke-width="1.1"/>
<text x="48.9" y="76" font-size="16.5" text-anchor="end">5 pA</text>
<text x="53.6" y="97.6" font-size="16.5">30 s</text>
<line x1="22.7" y1="125.6" x2="290.5" y2="47.4" stroke="#000" stroke-width="0.8" stroke-dasharray="3 2"/>
<line x1="291.3" y1="49" x2="318.5" y2="124.5" stroke="#000" stroke-width="0.8" stroke-dasharray="3 2"/>
<clipPath id="actclip"><rect x="217" y="40" width="99" height="80"/></clipPath>
<line x1="22.7" y1="125.6" x2="290.5" y2="47.4" stroke="#ddd" stroke-width="0.8" stroke-dasharray="3 2" clip-path="url(#actclip)"/>
<line x1="21.5" y1="125.6" x2="314" y2="125.6" stroke="#3a3a3a" stroke-width="0.9" stroke-dasharray="4.1 2"/>
<line x1="21.5" y1="154.4" x2="314" y2="154.4" stroke="#3a3a3a" stroke-width="0.9" stroke-dasharray="4.1 2"/>
<line x1="21.5" y1="180.5" x2="314" y2="180.5" stroke="#3a3a3a" stroke-width="0.9" stroke-dasharray="4.1 2"/>
<g transform="translate(7.9 128.4) scale(1.12 1)"><text x="0" y="0" font-size="16.2">c</text></g>
<g transform="translate(6.5 155.9) scale(1.1 1)"><text x="0" y="0" font-size="16">o<tspan font-size="12" dy="3.6">1</tspan></text></g>
<g transform="translate(6.5 180.9) scale(1.1 1)"><text x="0" y="0" font-size="16">o<tspan font-size="12" dy="3.6">2</tspan></text></g>
<path d="M24.6 128.45 L24.7 131.01 L24.8 129.07 L24.9 123.76 L25 131.6 L25.1 128.69 L25.2 128.78 L25.3 124.94 L25.4 130.05 L25.5 125.24 L25.6 153.51 L25.7 158.65 L25.8 148.03 L25.9 145.06 L26 151.41 L26.1 155.14 L26.2 152.1 L26.3 146.86 L26.4 152.38 L26.5 148.6 L26.6 149.78 L26.7 148.53 L26.8 143.99 L26.9 156.53 L27 148.48 L27.1 152.32 L27.2 152.37 L27.3 150.5 L27.4 151.72 L27.5 153.74 L27.6 144.17 L27.7 154.95 L27.8 146.92 L27.9 145.55 L28 145.05 L28.1 149.07 L28.2 154.36 L28.3 150.64 L28.4 153.7 L28.5 145.93 L28.6 154.42 L28.7 149.21 L28.8 149.95 L28.9 155.29 L29 154.57 L29.1 154.88 L29.2 152.45 L29.3 151.82 L29.4 156.3 L29.5 151.78 L29.6 153.44 L29.7 148.17 L29.8 151.04 L29.9 154.2 L30 153.51 L30.1 155.24 L30.2 156.62 L30.3 154.17 L30.4 152.14 L30.5 157.94 L30.6 149.7 L30.7 153.01 L30.8 154.76 L30.9 153.76 L31 154.14 L31.1 151.51 L31.2 152.67 L31.3 145.57 L31.4 147.09 L31.5 150.61 L31.6 150.48 L31.7 145.31 L31.8 146.26 L31.9 145.31 L32 143.14 L32.1 142.57 L32.2 150.06 L32.3 154.17 L32.4 150.16 L32.5 151.97 L32.6 149.62 L32.7 145.53 L32.8 153.78 L32.9 151.64 L33 146.64 L33.1 149.1 L33.2 151.45 L33.3 147.57 L33.4 150.59 L33.5 149.96 L33.6 148.91 L33.7 151.85 L33.8 142.88 L33.9 149.69 L34 150.91 L34.1 145.68 L34.2 146.55 L34.3 153.63 L34.4 148.03 L34.5 147.62 L34.6 149.11 L34.7 141.19 L34.8 147.67 L34.9 148.34 L35 145.36 L35.1 144.34 L35.2 145.23 L35.3 145.09 L35.4 146.72 L35.5 148.49 L35.6 152.34 L35.7 146.5 L35.8 146.65 L35.9 145.18 L36 127.74 L36.1 124.13 L36.2 126.95 L36.3 130.62 L36.4 127.08 L36.5 128.58 L36.6 121.97 L36.7 128.81 L36.8 125.8 L36.9 128.53 L37 125.88 L37.1 129.15 L37.2 130.91 L37.3 132.5 L37.4 126.13 L37.5 130.95 L37.6 132.46 L37.7 129.63 L37.8 129.86 L37.9 130.1 L38 130.64 L38.1 132.88 L38.2 126.91 L38.3 132.33 L38.4 127.72 L38.5 129.83 L38.6 120.38 L38.7 124.79 L38.8 126.01 L38.9 123.5 L39 128.51 L39.1 126.34 L39.2 124.75 L39.3 130.41 L39.4 128.91 L39.5 128.39 L39.6 129.82 L39.7 129.72 L39.8 129.21 L39.9 133.7 L40 123.96 L40.1 124.34 L40.2 129.98 L40.3 126.47 L40.4 128.79 L40.5 130.77 L40.6 130.94 L40.7 125.95 L40.8 129.68 L40.9 131.94 L41 134.33 L41.1 135.5 L41.2 130.19 L41.3 130.2 L41.4 130.5 L41.5 134.32 L41.6 132.94 L41.7 132.95 L41.8 132.19 L41.9 136.65 L42 133.46 L42.1 143.65 L42.2 130.44 L42.3 137.27 L42.4 135.26 L42.5 132.48 L42.6 138.33 L42.7 135.56 L42.8 131.96 L42.9 135.97 L43 127.31 L43.1 129.67 L43.2 139.9 L43.3 130.97 L43.4 136.88 L43.5 135.05 L43.6 134.1 L43.7 131.18 L43.8 127.04 L43.9 131.21 L44 126.87 L44.1 129.9 L44.2 126.11 L44.3 128.78 L44.4 127.61 L44.5 130.85 L44.6 130.06 L44.7 127.98 L44.8 122.13 L44.9 126.12 L45 127.61 L45.1 133.64 L45.2 124.44 L45.3 131.5 L45.4 126.86 L45.5 120.86 L45.6 124.49 L45.7 126.72 L45.8 127.02 L45.9 126.97 L46 125.5 L46.1 129 L46.2 127.97 L46.3 124.58 L46.4 128.68 L46.5 126.82 L46.6 130.13 L46.7 127.15 L46.8 128.96 L46.9 131.96 L47 123.03 L47.1 127.84 L47.2 128.45 L47.3 132.08 L47.4 123.05 L47.5 132.06 L47.6 129.98 L47.7 127 L47.8 133.61 L47.9 127.89 L48 129.69 L48.1 131.14 L48.2 130.77 L48.3 131.67 L48.4 126.64 L48.5 153.49 L48.6 159.97 L48.7 159.93 L48.8 154.57 L48.9 155.55 L49 156.15 L49.1 157.47 L49.2 154.53 L49.3 157.01 L49.4 155.31 L49.5 155.55 L49.6 150.39 L49.7 155.42 L49.8 157.11 L49.9 155.46 L50 156.22 L50.1 149.64 L50.2 148.46 L50.3 154.62 L50.4 150.65 L50.5 152.75 L50.6 157.88 L50.7 150.09 L50.8 157.25 L50.9 152.68 L51 154.89 L51.1 155.71 L51.2 150.44 L51.3 150.9 L51.4 155.74 L51.5 127.82 L51.6 128.04 L51.7 124.93 L51.8 128.8 L51.9 128.25 L52 127.7 L52.1 126.29 L52.2 126.57 L52.3 130.03 L52.4 122.91 L52.5 128.76 L52.6 126.86 L52.7 124.52 L52.8 132.24 L52.9 133.41 L53 133.87 L53.1 133.84 L53.2 135.41 L53.3 129.17 L53.4 135.07 L53.5 129.09 L53.6 129.51 L53.7 135.12 L53.8 134.13 L53.9 136.04 L54 135.38 L54.1 136.57 L54.2 135.05 L54.3 129.05 L54.4 133.26 L54.5 132.73 L54.6 129.89 L54.7 126.2 L54.8 128.24 L54.9 136.78 L55 137.05 L55.1 135.45 L55.2 134.59 L55.3 132.68 L55.4 129.96 L55.5 131.31 L55.6 132.83 L55.7 127.05 L55.8 133.55 L55.9 131.95 L56 133.96 L56.1 129.21 L56.2 129.97 L56.3 127.68 L56.4 126.09 L56.5 133.14 L56.6 132.84 L56.7 126.67 L56.8 130.68 L56.9 129.24 L57 129.34 L57.1 133.67 L57.2 129.82 L57.3 130.88 L57.4 129.25 L57.5 125.77 L57.6 128.24 L57.7 133.62 L57.8 128.3 L57.9 132.59 L58 127.03 L58.1 131.12 L58.2 130.88 L58.3 125.15 L58.4 127.33 L58.5 131.79 L58.6 126.72 L58.7 131.62 L58.8 120.98 L58.9 131.8 L59 132.75 L59.1 132.85 L59.2 131.27 L59.3 131.84 L59.4 130.09 L59.5 133.48 L59.6 136.26 L59.7 130.43 L59.8 137.85 L59.9 139.97 L60 139.63 L60.1 132.52 L60.2 142.48 L60.3 138.99 L60.4 131.76 L60.5 139.9 L60.6 132.3 L60.7 132.55 L60.8 129.29 L60.9 136.7 L61 128.99 L61.1 125.67 L61.2 130.22 L61.3 135.97 L61.4 131.27 L61.5 133.97 L61.6 128.79 L61.7 131.81 L61.8 130.7 L61.9 139.25 L62 128.71 L62.1 134.93 L62.2 130.95 L62.3 137.76 L62.4 131.51 L62.5 137.44 L62.6 134.21 L62.7 133.33 L62.8 133.95 L62.9 133.21 L63 128.77 L63.1 132.04 L63.2 132.85 L63.3 134.03 L63.4 131.78 L63.5 135.07 L63.6 129.87 L63.7 132.13 L63.8 128.16 L63.9 129.76 L64 133.88 L64.1 135.67 L64.2 131.72 L64.3 131.18 L64.4 133.34 L64.5 135.5 L64.6 131.68 L64.7 133.21 L64.8 132.36 L64.9 129.45 L65 132.57 L65.1 131.45 L65.2 132.64 L65.3 129.68 L65.4 135.03 L65.5 132.98 L65.6 129.74 L65.7 127.44 L65.8 132.49 L65.9 134.19 L66 129.09 L66 153.12 L66.1 152.3 L66.2 151.76 L66.3 149.96 L66.4 158.16 L66.5 152.4 L66.6 152.02 L66.7 158.89 L66.8 150.56 L66.9 161.94 L67 156.26 L67 138.07 L67.1 139.52 L67.2 138.97 L67.3 140.47 L67.4 141.33 L67.5 140.14 L67.6 141.86 L67.7 133.98 L67.8 137.59 L67.9 133.89 L68 133.56 L68.1 133.66 L68.2 138.53 L68.3 132.31 L68.4 138.02 L68.5 135.81 L68.6 140.37 L68.7 132.46 L68.8 134.92 L68.9 131.33 L69 135.03 L69 151.5 L69.1 151.2 L69.2 161.26 L69.3 151.76 L69.4 152.62 L69.5 156.16 L69.6 153.68 L69.7 154.31 L69.8 158.1 L69.9 157.27 L70 154.51 L70.1 152.87 L70.2 153.61 L70.3 160.55 L70.4 155.15 L70.5 153.55 L70.5 139.9 L70.6 140.8 L70.7 140.97 L70.8 138.23 L70.9 145.06 L71 138.44 L71.1 140.81 L71.2 144.82 L71.3 145.87 L71.4 145.63 L71.5 143.29 L71.6 141.71 L71.7 141.88 L71.8 145.91 L71.9 141.39 L72 145.86 L72.1 142.72 L72.2 145.74 L72.3 148.46 L72.4 146.18 L72.5 142.49 L72.5 164.19 L72.6 159.18 L72.7 157.53 L72.8 162.07 L72.9 160.31 L73 164.02 L73.1 160.96 L73.2 159.69 L73.3 168.16 L73.4 166.73 L73.5 157.91 L73.6 160.92 L73.7 167.95 L73.8 162.09 L73.9 160.64 L74 159.25 L74 131 L74.1 134.6 L74.2 139.24 L74.3 131.26 L74.4 130.66 L74.5 132.53 L74.6 129.03 L74.7 133.98 L74.8 127.23 L74.9 136.54 L75 128.33 L75.1 131.58 L75.2 135.29 L75.3 132.67 L75.4 135.04 L75.5 138.67 L75.6 132.78 L75.7 137.01 L75.8 131.76 L75.9 132.96 L76 130.53 L76.1 133.93 L76.2 129.59 L76.3 128.23 L76.4 128.35 L76.5 131.45 L76.6 131.12 L76.7 126.03 L76.8 128.2 L76.9 127.71 L77 130.7 L77 141.17 L77.1 145.72 L77.2 137.8 L77.3 145.58 L77.4 145.92 L77.5 146.48 L77.6 147.24 L77.7 147.13 L77.8 140.82 L77.9 137.37 L78 139.03 L78.1 141.52 L78.2 137.17 L78.3 144.58 L78.4 143.03 L78.5 145.93 L78.6 149.52 L78.7 143.36 L78.8 150.06 L78.9 139.52 L79 136.46 L79.1 146.86 L79.2 146.17 L79.3 146.6 L79.4 149.76 L79.5 149.52 L79.6 144.68 L79.7 150.43 L79.8 150.11 L79.9 144.55 L80 146.68 L80.1 148 L80.2 144.88 L80.3 147.31 L80.4 153.1 L80.5 146.61 L80.6 146.25 L80.7 149.34 L80.8 144.27 L80.9 145.8 L81 143.82 L81.1 150.77 L81.2 145.44 L81.3 147.93 L81.4 147.16 L81.5 147.67 L81.6 142 L81.7 142.05 L81.8 140.76 L81.9 146.61 L82 143.94 L82.1 146.54 L82.2 143.98 L82.3 142.17 L82.4 138.2 L82.5 143.14 L82.6 142.76 L82.7 143.85 L82.8 151.18 L82.9 150.79 L83 153.57 L83.1 152.24 L83.2 143.7 L83.3 145.24 L83.4 149.41 L83.5 149.84 L83.6 147.42 L83.7 145.69 L83.8 147.99 L83.9 146.22 L84 145.89 L84 133.1 L84.1 131.18 L84.2 136.26 L84.3 132.3 L84.4 136.22 L84.5 131.06 L84.6 128.71 L84.7 132.34 L84.8 135.61 L84.9 128.35 L85 132.15 L85.1 133.4 L85.2 135.36 L85.3 132.56 L85.4 133.05 L85.5 140 L85.6 131 L85.7 138.48 L85.8 136.71 L85.9 135.37 L86 139.78 L86.1 133.19 L86.2 139.65 L86.3 133.48 L86.4 135.86 L86.5 130 L86.6 134.67 L86.7 133.34 L86.8 140.21 L86.9 136.48 L87 135.4 L87.1 129.95 L87.2 136.17 L87.3 131.11 L87.4 127.59 L87.5 132.43 L87.6 129.09 L87.7 134.63 L87.8 138 L87.9 136.03 L88 128.92 L88.1 131.02 L88.2 127.42 L88.3 128.46 L88.4 135.54 L88.5 136.12 L88.6 129.42 L88.7 136.86 L88.8 126.96 L88.9 131.43 L89 129.48 L89 152.94 L89.1 152.31 L89.2 154.91 L89.3 156.67 L89.4 152.9 L89.5 156.79 L89.6 151.87 L89.7 151.72 L89.8 146.58 L89.9 146.2 L90 151.4 L90.1 149.42 L90.2 157.17 L90.3 151.43 L90.4 158.55 L90.5 152.04 L90.6 148.82 L90.7 155.26 L90.8 155.47 L90.9 159.06 L91 153.43 L91.1 156.82 L91.2 148.67 L91.3 153.03 L91.4 156.68 L91.5 150.67 L91.6 149.2 L91.7 154.18 L91.8 148.04 L91.9 155.83 L92 153.48 L92.1 150.96 L92.2 151.87 L92.3 150.16 L92.4 148.82 L92.5 150.04 L92.6 149.58 L92.7 144.41 L92.8 149.01 L92.9 143.45 L93 152.58 L93.1 152.23 L93.2 150.77 L93.3 156.44 L93.4 151.72 L93.5 145.2 L93.6 150.75 L93.7 150.29 L93.8 151.62 L93.9 152.7 L94 152.22 L94.1 147.01 L94.2 153.7 L94.3 151.31 L94.4 150.24 L94.5 153.64 L94.6 157.97 L94.7 154.88 L94.8 160.17 L94.9 157.19 L95 149.42 L95.1 152 L95.2 162.7 L95.3 150.43 L95.4 158.74 L95.5 155.41 L95.5 125.7 L95.6 121.5 L95.7 128.99 L95.8 126.04 L95.9 127.71 L96 128.9 L96.1 127.84 L96.2 125.96 L96.3 125.75 L96.4 131.23 L96.5 135.51 L96.6 134.88 L96.7 130.2 L96.8 130.44 L96.9 129.09 L97 132.9 L97 154.58 L97.1 154.56 L97.2 154.34 L97.3 155.64 L97.4 154.73 L97.5 151.86 L97.6 147.88 L97.7 151.47 L97.8 154.61 L97.9 158.48 L98 150.99 L98.1 155.65 L98.2 150.07 L98.3 155.28 L98.4 154.33 L98.5 153.22 L98.6 153.71 L98.7 150.99 L98.8 149.79 L98.9 152.36 L99 151.94 L99.1 152.5 L99.2 152.53 L99.3 146.41 L99.4 151.15 L99.5 150.76 L99.6 150.71 L99.7 147.23 L99.8 155.28 L99.9 149.58 L100 150.96 L100.1 152.29 L100.2 152.49 L100.3 151.02 L100.4 144.79 L100.5 145.56 L100.6 150.29 L100.7 150.04 L100.8 147.79 L100.9 153.19 L101 149.26 L101.1 149.79 L101.2 141.38 L101.3 148.75 L101.4 149.56 L101.5 149.85 L101.6 154.26 L101.7 147.16 L101.8 151.6 L101.9 153.93 L102 153.86 L102.1 149.62 L102.2 147.55 L102.3 152.36 L102.4 151.62 L102.5 145.37 L102.6 149.32 L102.7 152.22 L102.8 151.13 L102.9 154.26 L103 154.21 L103.1 153.62 L103.2 144.92 L103.3 144.8 L103.4 151.62 L103.5 151.85 L103.6 152.39 L103.7 150.68 L103.8 156.56 L103.9 154.7 L104 153.48 L104.1 155.35 L104.2 144.62 L104.3 153.33 L104.4 156.3 L104.5 151.67 L104.6 150.95 L104.7 145.86 L104.8 151.78 L104.9 152.12 L105 153.09 L105.1 154.94 L105.2 153.23 L105.3 147.94 L105.4 155.57 L105.5 152.88 L105.6 146.26 L105.7 148.76 L105.8 147.71 L105.9 151.37 L106 153.63 L106.5 124.33 L106.6 126.64 L106.7 117.98 L106.8 125.98 L106.9 124.6 L107 118.11 L107.1 119.33 L107.2 125.57 L107.3 126.92 L107.4 126.87 L107.5 124.85 L107.6 126.7 L107.7 130.07 L107.8 128.8 L107.9 127.87 L108 126.78 L108.1 130.43 L108.2 127.02 L108.3 128.61 L108.4 128.53 L108.5 128.27 L108.6 133.82 L108.7 131.6 L108.8 132.63 L108.9 130 L109 121.21 L109 167.28 L109.1 169.88 L109.2 163.25 L109.3 165.11 L109.4 165.66 L109.5 163.22 L109.6 159.92 L109.7 165.37 L109.8 164.15 L109.9 165.78 L110 168.14 L110.1 166.09 L110.2 171.44 L110.3 168.66 L110.4 167.65 L110.5 170.27 L110.6 164.35 L110.7 164.63 L110.8 164.7 L110.9 164.99 L111 164.15 L111.1 164.76 L111.2 158.27 L111.3 160.26 L111.4 161.63 L111.5 162.53 L111.6 162.98 L111.7 165.5 L111.8 166.84 L111.9 162.82 L112 167.31 L112.1 168.22 L112.2 166.64 L112.3 163.81 L112.4 166.72 L112.5 162.88 L112.6 165.34 L112.7 167.15 L112.8 164.58 L112.9 166.51 L113 169.72 L113 175.05 L113.1 178.68 L113.2 179.23 L113.3 180.73 L113.4 182.06 L113.5 176.14 L113.6 180.73 L113.7 185.88 L113.8 179.73 L113.9 178.25 L114 178.98 L114.1 177.7 L114.2 183.26 L114.3 179.94 L114.4 179.89 L114.5 183.17 L114.6 179.75 L114.7 177.56 L114.8 183.56 L114.9 179.71 L115 173.53 L115.1 175.32 L115.2 179.39 L115.3 178.08 L115.4 181.46 L115.5 177.06 L115.6 176.71 L115.7 175.07 L115.8 178.86 L115.9 178.71 L116 177.36 L116.1 180.48 L116.2 185.07 L116.3 180.74 L116.4 177.5 L116.5 178.53 L116.6 183.89 L116.7 179.89 L116.8 184.78 L116.9 182.74 L117 184.75 L117.1 182.08 L117.2 190.22 L117.3 179.9 L117.4 182.85 L117.5 179.16 L117.6 192.95 L117.7 179.46 L117.8 185.93 L117.9 187.65 L118 179.16 L118.1 187.75 L118.2 185.54 L118.3 183.92 L118.4 184.53 L118.5 186.43 L118.6 182.93 L118.7 182 L118.8 182.34 L118.9 175.26 L119 178.96 L119.1 176.84 L119.2 178.09 L119.3 177.75 L119.4 180.52 L119.5 182.33 L119.6 178.63 L119.7 184.26 L119.8 178.37 L119.9 177.07 L120 178.34 L120.1 179.1 L120.2 182.64 L120.3 179.44 L120.4 176.49 L120.5 181.63 L120.6 175.51 L120.7 179.33 L120.8 182.11 L120.9 178.91 L121 183.81 L121.1 184.72 L121.2 179.9 L121.3 179.75 L121.4 181.98 L121.5 181.07 L121.5 157.42 L121.6 162.18 L121.7 163.24 L121.8 160.64 L121.9 157.87 L122 163.06 L122.1 157.8 L122.2 165.58 L122.3 164.74 L122.4 159.34 L122.5 159.72 L122.6 159.34 L122.7 160.43 L122.8 163.28 L122.9 164.06 L123 157.17 L123.1 157.67 L123.2 161.13 L123.3 164.86 L123.4 163.38 L123.5 161.42 L123.6 163.48 L123.7 162.85 L123.8 164.05 L123.9 167.16 L124 157.69 L124.1 159.44 L124.2 154.27 L124.3 156.08 L124.4 165.52 L124.5 160.54 L124.6 158.97 L124.7 154.73 L124.8 161.54 L124.9 152.11 L125 156.96 L125.1 156.99 L125.2 158.55 L125.3 152.38 L125.4 157.28 L125.5 154.88 L125.6 156.7 L125.7 161.08 L125.8 157.44 L125.9 157.97 L126 155.25 L126.1 158.84 L126.2 156.01 L126.3 160.23 L126.4 159.12 L126.5 150.27 L126.6 156.45 L126.7 161.71 L126.8 162.64 L126.9 163.76 L127 164.17 L127 153.14 L127.1 159.72 L127.2 159.7 L127.3 154.53 L127.4 155.59 L127.5 147.35 L127.6 150.02 L127.7 153.9 L127.8 153.3 L127.9 152.64 L128 147.97 L128.1 153.68 L128.2 155.59 L128.3 154.33 L128.4 151.99 L128.5 152.18 L128.6 154.78 L128.7 155.89 L128.8 156.11 L128.9 161.47 L129 155.23 L129.1 146.95 L129.2 153.11 L129.3 153.5 L129.4 157.07 L129.5 154.9 L129.6 154.25 L129.7 158.42 L129.8 152.93 L129.9 146.97 L130 152.98 L130.1 153.22 L130.2 153.57 L130.3 156.14 L130.4 148.54 L130.5 156.9 L130.6 156.55 L130.7 156.06 L130.8 162.79 L130.9 150.63 L131 158.02 L131.1 145.94 L131.2 155.49 L131.3 156.23 L131.4 149.83 L131.5 152.62 L131.6 154.62 L131.7 155.55 L131.8 155.55 L131.9 155.82 L132 157.6 L132.1 146.96 L132.2 154.48 L132.3 151.34 L132.4 153.57 L132.5 155.31 L132.6 150.83 L132.7 154.36 L132.8 148.59 L132.9 150.54 L133 149.78 L133.1 154.04 L133.2 152.57 L133.3 155.91 L133.4 149.82 L133.5 151.52 L133.5 123.68 L133.6 127.46 L133.7 120.81 L133.8 127.9 L133.9 129.74 L134 130.93 L134.1 134.54 L134.2 132.45 L134.3 130.22 L134.4 126.42 L134.5 124.36 L134.6 126.82 L134.7 128.3 L134.8 127.61 L134.9 128.96 L135 134.95 L135.1 127.05 L135.2 134.93 L135.3 132.23 L135.4 135.99 L135.5 134.39 L135.6 131.93 L135.7 130.71 L135.8 126.08 L135.9 131.34 L136 134.28 L136.1 132.14 L136.2 132.82 L136.3 130.54 L136.4 129.8 L136.5 127.96 L136.6 125.68 L136.7 131.79 L136.8 129.18 L136.9 125.17 L137 133.1 L137.1 123.69 L137.2 131.95 L137.3 126.15 L137.4 136.18 L137.5 130.1 L137.6 124.77 L137.7 131.46 L137.8 126.79 L137.9 126.46 L138 129.37 L138.1 133.5 L138.2 132.71 L138.3 128.71 L138.4 128.66 L138.5 135.45 L138.6 125.72 L138.7 130.27 L138.8 125.57 L138.9 126.26 L139 131.5 L139.1 128.98 L139.2 131.15 L139.3 128.55 L139.4 135.05 L139.5 127.02 L139.6 127.53 L139.7 127.9 L139.8 127.94 L139.9 134.21 L140 128.2 L140.1 127.15 L140.2 130.65 L140.3 130.65 L140.4 128.76 L140.5 129.14 L140.6 131.31 L140.7 125.68 L140.8 131.91 L140.9 123.86 L141 132.45 L141.1 134.68 L141.2 132.92 L141.3 130.18 L141.4 128.7 L141.5 130.75 L141.6 135.04 L141.7 133.74 L141.8 126.78 L141.9 128.05 L142 129.53 L142.1 134.9 L142.2 128.01 L142.3 131.01 L142.4 125.82 L142.5 129.17 L142.6 130.9 L142.7 131.17 L142.8 129.96 L142.9 133.78 L143 130.43 L143.1 128.62 L143.2 131.05 L143.3 129.66 L143.4 124.7 L143.5 133.12 L143.6 130.13 L143.7 133.77 L143.8 132.06 L143.9 130.85 L144 129.16 L144 136.57 L144.1 137.81 L144.2 133.91 L144.3 139.79 L144.4 140.95 L144.5 137.89 L144.6 140.53 L144.7 144.23 L144.8 136.4 L144.9 135.75 L145 132.62 L145.1 142.23 L145.2 143.9 L145.3 142.07 L145.4 143.09 L145.5 140.6 L145.6 143.14 L145.7 143.52 L145.8 139.9 L145.9 141.6 L146 144.48 L146 134.67 L146.1 134.07 L146.2 129.95 L146.3 137.8 L146.4 128.34 L146.5 131.23 L146.6 128.63 L146.7 138.15 L146.8 129.94 L146.9 133.87 L147 130.75 L147.1 127.71 L147.2 124.93 L147.3 127.43 L147.4 129.46 L147.5 131.39 L147.6 127.78 L147.7 130.66 L147.8 128.71 L147.9 131.75 L148 136.56 L148.1 134.66 L148.2 129.72 L148.3 131.65 L148.4 134.05 L148.5 128.92 L148.6 131.57 L148.7 129.84 L148.8 130.84 L148.9 136.39 L149 138.88 L149.1 132.55 L149.2 136.59 L149.3 136.78 L149.4 134.4 L149.5 131.47 L149.6 130.19 L149.7 130.17 L149.8 135.8 L149.9 136.08 L150 137.53 L150.1 132.51 L150.2 134.12 L150.3 135.47 L150.4 136.87 L150.5 136.86 L150.6 134.09 L150.7 138.03 L150.8 137.9 L150.9 136.19 L151 130.29 L151.1 139.04 L151.2 125.77 L151.3 134.59 L151.4 139.86 L151.5 136.36 L151.6 135.14 L151.7 135.73 L151.8 134.24 L151.9 134.58 L152 133.59 L152.1 133.5 L152.2 128.64 L152.3 135.84 L152.4 132.17 L152.5 130.42 L152.6 134.21 L152.7 134.46 L152.8 133.5 L152.9 136.47 L153 132.74 L153.1 129.02 L153.2 129.15 L153.3 132.1 L153.4 135.09 L153.5 131.91 L153.6 125.34 L153.7 130.01 L153.8 129.27 L153.9 130.33 L154 128.87 L154.1 125.89 L154.2 127.44 L154.3 124.89 L154.4 129.27 L154.5 124.09 L154.6 131.63 L154.7 126.68 L154.8 134.85 L154.9 131.93 L155 133.56 L155.1 134.98 L155.2 130.97 L155.3 131.71 L155.4 131.78 L155.5 126.19 L155.6 130.11 L155.7 127.68 L155.8 128.63 L155.9 127.96 L156 124.84 L156 151.08 L156.1 152.22 L156.2 155.61 L156.3 153.82 L156.4 152.57 L156.5 156.42 L156.6 144.93 L156.7 161.72 L156.8 152.07 L156.9 157.43 L157 153.77 L157.1 152.48 L157.2 153.55 L157.3 156.99 L157.4 150.46 L157.5 153.69 L157.6 155.32 L157.7 149.71 L157.8 155.2 L157.9 157.05 L158 146.57 L158.1 150.24 L158.2 148.66 L158.3 147.16 L158.4 147.25 L158.5 148.75 L158.6 161.46 L158.7 149.67 L158.8 151.31 L158.9 149.38 L159 150.84 L159.1 154.41 L159.2 152.37 L159.3 149.34 L159.4 152.54 L159.5 150.01 L159.6 157.52 L159.7 153.68 L159.8 152.11 L159.9 155.29 L160 154.63 L160.1 153.78 L160.2 152.95 L160.3 157.29 L160.4 149.93 L160.5 154.31 L160.6 152.66 L160.7 155.79 L160.8 149.32 L160.9 152.52 L161 153.47 L161.1 149.05 L161.2 153.2 L161.3 154.33 L161.4 158.84 L161.5 151.05 L161.6 153.25 L161.7 155.44 L161.8 157.58 L161.9 152.91 L162 151.84 L162.1 152.4 L162.2 147.6 L162.3 158.84 L162.4 157.05 L162.5 159.98 L162.6 157.34 L162.7 156.49 L162.8 159.79 L162.9 158.17 L163 158.85 L163.1 150.3 L163.2 154.57 L163.3 155.77 L163.4 156.49 L163.5 153.05 L163.6 154.07 L163.7 155.18 L163.8 151.98 L163.9 152.38 L164 155.21 L164.1 151.46 L164.2 157.89 L164.3 156.3 L164.4 161.01 L164.5 157.17 L164.5 132.31 L164.6 128.34 L164.7 130.2 L164.8 132.26 L164.9 130.93 L165 130.17 L165.1 127.28 L165.2 133.28 L165.3 125.05 L165.4 129.78 L165.5 130.51 L165.6 129.31 L165.7 128.2 L165.8 130.05 L165.9 134.41 L166 129.55 L166.1 131.22 L166.2 131.33 L166.3 125.46 L166.4 131.17 L166.5 134.06 L166.6 127.51 L166.7 124.8 L166.8 126.34 L166.9 124.34 L167 129.64 L167.1 127.91 L167.2 122.95 L167.3 124.33 L167.4 122.86 L167.5 127.47 L167.6 130.05 L167.7 131.06 L167.8 128.48 L167.9 124.17 L168 125.16 L168.1 126.11 L168.2 126.35 L168.3 125.44 L168.4 125.02 L168.5 125.63 L168.6 134.65 L168.7 123.49 L168.8 125.36 L168.9 124.52 L169 123 L169.1 130.28 L169.2 121.51 L169.3 126.15 L169.4 127.24 L169.5 126.06 L169.5 152.35 L169.6 151.97 L169.7 147.74 L169.8 152.31 L169.9 159.22 L170 156.91 L170.1 152.9 L170.2 152.81 L170.3 145.96 L170.4 157.96 L170.5 157.31 L170.6 150.64 L170.7 152.78 L170.8 156.08 L170.9 151.29 L171 153.08 L171.1 158.91 L171.2 150.1 L171.3 162.06 L171.4 151.66 L171.5 153.45 L171.6 152.89 L171.7 151.98 L171.8 150.24 L171.9 158.41 L172 153.69 L172.1 158.08 L172.2 159.38 L172.3 156.71 L172.4 154.2 L172.5 152.15 L172.6 159.49 L172.7 152.34 L172.8 155.11 L172.9 156.48 L173 152.26 L173 132.06 L173.1 129.72 L173.2 131.43 L173.3 131.43 L173.4 130.78 L173.5 127.7 L173.6 129.98 L173.7 132.63 L173.8 134.61 L173.9 130 L174 125.85 L174 155.19 L174.1 161.86 L174.2 153.57 L174.3 153.55 L174.4 156.03 L174.5 155.41 L174.6 155.19 L174.7 160.06 L174.8 154.34 L174.9 149.47 L175 153.56 L175.1 154.58 L175.2 152.34 L175.3 152.54 L175.4 150.13 L175.5 151.72 L175.6 152.98 L175.7 149.95 L175.8 151.13 L175.9 149.32 L176 155.35 L176.1 148.88 L176.2 153.93 L176.3 151.24 L176.4 153.72 L176.5 156.26 L176.6 151.69 L176.7 153.43 L176.8 153.22 L176.9 159.1 L177 157.2 L177.1 158.52 L177.2 157.26 L177.3 161.38 L177.4 157.31 L177.5 155.64 L177.6 151.86 L177.7 153.6 L177.8 156.61 L177.9 157.6 L178 146.99 L178.1 151.74 L178.2 151.06 L178.3 155.51 L178.4 153.8 L178.5 154.91 L178.6 149.82 L178.7 146.44 L178.8 150.68 L178.9 149.36 L179 152.28 L179.1 152.93 L179.2 153.69 L179.3 154.44 L179.4 151.05 L179.5 145.66 L179.5 131.93 L179.6 125.96 L179.7 131.49 L179.8 126.67 L179.9 125.84 L180 132.17 L180.1 133.11 L180.2 128.8 L180.3 131.42 L180.4 131.21 L180.5 133.89 L180.6 126.49 L180.7 131.6 L180.8 129.84 L180.9 135.75 L181 126.2 L181.1 130.94 L181.2 127.28 L181.3 132 L181.4 130.45 L181.5 127.27 L181.6 124.77 L181.7 128.85 L181.8 128.98 L181.9 126.59 L182 125.97 L182.1 124.44 L182.2 131.76 L182.3 125.54 L182.4 122.26 L182.5 127.81 L182.5 151.67 L182.6 152.69 L182.7 154.42 L182.8 151.08 L182.9 150.3 L183 150.66 L183.1 153.5 L183.2 152.6 L183.3 153.74 L183.4 152.75 L183.5 156.29 L183.6 161.11 L183.7 160.45 L183.8 154.34 L183.9 155.26 L184 156.46 L184.1 160.49 L184.2 155.5 L184.3 156.68 L184.4 150.27 L184.5 150.15 L184.6 155.01 L184.7 156.04 L184.8 151.46 L184.9 153.36 L185 153.16 L185.1 147.98 L185.2 152.66 L185.3 154.93 L185.4 154.16 L185.5 149.75 L185.6 154.82 L185.7 154.18 L185.8 155.6 L185.9 153.19 L186 153.8 L186.1 154 L186.2 151.37 L186.3 155.52 L186.4 149.12 L186.5 158.57 L186.6 158.23 L186.7 157.62 L186.8 157.32 L186.9 156.88 L187 157.87 L187.1 158.95 L187.2 164.65 L187.3 159.75 L187.4 164.93 L187.5 152.03 L187.6 159.16 L187.7 153.66 L187.8 158.21 L187.9 153.4 L188 157.79 L188.1 154.27 L188.2 156.58 L188.3 153.01 L188.4 150.22 L188.5 152.06 L188.5 131.4 L188.6 130.75 L188.7 128.94 L188.8 129.93 L188.9 135.74 L189 130.33 L189.1 129.85 L189.2 133.72 L189.3 135.71 L189.4 121.13 L189.5 132.36 L189.6 134.23 L189.7 130.8 L189.8 130.23 L189.9 127.97 L190 127.31 L190.1 126.01 L190.2 127.82 L190.3 128.66 L190.4 127.5 L190.5 122.37 L190.6 130.97 L190.7 129.98 L190.8 126.87 L190.9 128.09 L191 133.62 L191.1 120.13 L191.2 124.51 L191.3 121.96 L191.4 118.95 L191.5 127.28 L191.6 130.76 L191.7 122.86 L191.8 127.8 L191.9 119.12 L192 122.61 L192 155.46 L192.1 154.16 L192.2 156.76 L192.3 154.42 L192.4 152.81 L192.5 157.89 L192.6 157.32 L192.7 154.25 L192.8 159.53 L192.9 155.06 L193 151.56 L193.1 157.87 L193.2 152.69 L193.3 158.72 L193.4 154.7 L193.5 149.85 L193.6 151.07 L193.7 156.28 L193.8 157.14 L193.9 151.15 L194 154.85 L194.1 157.92 L194.2 147.74 L194.3 154.52 L194.4 156.29 L194.5 159.26 L194.6 159.92 L194.7 153 L194.8 158.95 L194.9 155.94 L195 152.62 L195.1 156.55 L195.2 156.5 L195.3 157.84 L195.4 156.91 L195.5 155.37 L195.6 160.21 L195.7 157.13 L195.8 154.56 L195.9 159.12 L196 154.53 L196.1 154.04 L196.2 151.79 L196.3 155.97 L196.4 154.92 L196.5 160.43 L196.5 165.85 L196.6 162.17 L196.7 164.1 L196.8 168.6 L196.9 167.13 L197 164.08 L197.1 164.04 L197.2 168.67 L197.3 167.1 L197.4 170.47 L197.5 169.52 L197.6 171.74 L197.7 159.02 L197.8 168.68 L197.9 164.87 L198 164.82 L198.1 164.86 L198.2 168.8 L198.3 160.37 L198.4 165.63 L198.5 166.89 L198.6 161 L198.7 168.39 L198.8 165.12 L198.9 163.9 L199 161.32 L199.1 157.93 L199.2 164.5 L199.3 160.96 L199.4 159.28 L199.5 164.48 L199.6 162.12 L199.7 161.32 L199.8 165.07 L199.9 165.11 L200 162.52 L200.1 159.94 L200.2 162.89 L200.3 164.98 L200.4 155.64 L200.5 159.92 L200.6 156.93 L200.7 161.56 L200.8 160.44 L200.9 162.89 L201 165.24 L201.1 165.5 L201.2 163.25 L201.3 162.65 L201.4 164.6 L201.5 160.28 L201.6 160.72 L201.7 158.18 L201.8 161.7 L201.9 167.25 L202 165.04 L202 133.39 L202.1 132.41 L202.2 129.49 L202.3 128.59 L202.4 134.48 L202.5 127.94 L202.6 128.79 L202.7 128.81 L202.8 123.12 L202.9 131.31 L203 124.51 L203.1 129.4 L203.2 129.42 L203.3 129.77 L203.4 125.48 L203.5 133.75 L203.6 130.44 L203.7 132.85 L203.8 130.79 L203.9 130.17 L204 129.78 L204.1 126.8 L204.2 130.92 L204.3 130.27 L204.4 123.14 L204.5 132.99 L204.6 128.45 L204.7 127.54 L204.8 130.93 L204.9 132.28 L205 124.15 L205 161.58 L205.1 155.64 L205.2 161.87 L205.3 156.39 L205.4 161.27 L205.5 156.8 L205.6 162.1 L205.7 159.1 L205.8 155.79 L205.9 164.98 L206 159.18 L206.1 159.37 L206.2 162.3 L206.3 163.31 L206.4 156.81 L206.5 157.99 L206.6 160.19 L206.7 156.4 L206.8 163.94 L206.9 156.78 L207 157.14 L207 126.78 L207.1 130.74 L207.2 127.48 L207.3 136.3 L207.4 129.46 L207.5 133.65 L207.6 134.65 L207.7 130.31 L207.8 130.29 L207.9 132.86 L208 127.36 L208.1 134.25 L208.2 133.65 L208.3 129.19 L208.4 129.66 L208.5 122.79 L208.6 129.21 L208.7 127.87 L208.8 126.7 L208.9 129.3 L209 127.4 L209 157.2 L209.1 156.37 L209.2 156.1 L209.3 158.89 L209.4 163.35 L209.5 155.6 L209.6 157.92 L209.7 156.48 L209.8 164.85 L209.9 162.39 L210 159.28 L210.1 158.7 L210.2 167.02 L210.3 161.64 L210.4 163.52 L210.5 156.69 L210.6 155.63 L210.7 156.46 L210.8 156.74 L210.9 153.76 L211 156.3 L211.1 155.65 L211.2 158.85 L211.3 157.93 L211.4 155.57 L211.5 159.09 L211.6 159.36 L211.7 162.56 L211.8 153.33 L211.9 155.39 L212 157.88 L212.1 160.36 L212.2 155.19 L212.3 162.4 L212.4 155.66 L212.5 154.86 L212.6 159.37 L212.7 154.57 L212.8 153.84 L212.9 153.42 L213 150.1 L213.1 155.47 L213.2 153.67 L213.3 154.37 L213.4 153.44 L213.5 152.25 L213.6 159.3 L213.7 158.35 L213.8 154.23 L213.9 162.2 L214 161.2 L214.1 157.02 L214.2 154.74 L214.3 155.51 L214.4 157.74 L214.5 156.39 L214.6 156.65 L214.7 163.12 L214.8 154.54 L214.9 153.83 L215 158.34 L215.1 156.39 L215.2 159.59 L215.3 160.02 L215.4 156.57 L215.5 163.82 L215.6 160.47 L215.7 159.3 L215.8 158.66 L215.9 157.77 L216 159.68 L216 136.55 L216.1 138.95 L216.2 131.17 L216.3 138.91 L216.4 135.28 L216.5 136.23 L216.6 132.43 L216.7 135.77 L216.8 141.36 L216.9 134.87 L217 135.42 L217 161.27 L217.1 157.27 L217.2 158.8 L217.3 157.69 L217.4 157.79 L217.5 158.76 L217.6 157.3 L217.7 153.83 L217.8 160.32 L217.9 156.16 L218 160.82 L218.1 150.94 L218.2 153.84 L218.3 156.76 L218.4 159.62 L218.5 162.12 L218.6 158.54 L218.7 161.95 L218.8 157.39 L218.9 164.26 L219 158.53 L219.1 165 L219.2 158.9 L219.3 165.89 L219.4 155.05 L219.5 161.9 L219.6 160.57 L219.7 159.59 L219.8 170.85 L219.9 164.33 L220 164.72 L220.1 160.5 L220.2 157.26 L220.3 156.14 L220.4 163.45 L220.5 161.32 L220.6 154.58 L220.7 156.18 L220.8 157.84 L220.9 158.63 L221 157.62 L221 140.24 L221.1 141.6 L221.2 139.15 L221.3 141.65 L221.4 143.19 L221.5 138.78 L221.6 141.37 L221.7 136 L221.8 137.24 L221.9 143.16 L222 144.82 L222 157.25 L222.1 166.64 L222.2 160.78 L222.3 159.15 L222.4 156.03 L222.5 156.86 L222.6 157.57 L222.7 158.82 L222.8 159.19 L222.9 155.98 L223 157.86 L223.1 158.2 L223.2 160.75 L223.3 158.37 L223.4 157.15 L223.5 153.72 L223.6 158.46 L223.7 151.92 L223.8 157.22 L223.9 158.62 L224 157.43 L224.1 155.53 L224.2 157.52 L224.3 152.63 L224.4 156.79 L224.5 151.74 L224.6 161.96 L224.7 155.97 L224.8 152.95 L224.9 154.91 L225 159.66 L225.1 159.67 L225.2 154.81 L225.3 154 L225.4 158.5 L225.5 158.04 L225.6 155.22 L225.7 158.43 L225.8 160.77 L225.9 156.57 L226 158.26 L226 135.49 L226.1 134.53 L226.2 133.31 L226.3 136.74 L226.4 139.2 L226.5 137.4 L226.6 132.33 L226.7 131.32 L226.8 140.88 L226.9 139.42 L227 133.27 L227 156.08 L227.1 158.85 L227.2 161.34 L227.3 164.08 L227.4 157.11 L227.5 158.82 L227.6 153.96 L227.7 152.72 L227.8 152.74 L227.9 153.72 L228 151.05 L228.1 155.42 L228.2 152.09 L228.3 158.36 L228.4 154.12 L228.5 152.51 L228.6 153.67 L228.7 151.03 L228.8 155.09 L228.9 149.12 L229 150.52 L229.1 153.02 L229.2 156.89 L229.3 157.33 L229.4 161.26 L229.5 156.29 L229.5 132.65 L229.6 140.19 L229.7 137.27 L229.8 139.07 L229.9 140.69 L230 130.91 L230.1 134.05 L230.2 138.96 L230.3 137.4 L230.4 133.44 L230.5 135.55 L230.6 141.91 L230.7 138.03 L230.8 130.48 L230.9 134.17 L231 134.02 L231 159.48 L231.1 155.52 L231.2 159.67 L231.3 156.3 L231.4 149.2 L231.5 158.28 L231.6 152.71 L231.7 158.53 L231.8 153.2 L231.9 149.74 L232 148.21 L232.1 156.18 L232.2 152.64 L232.3 156 L232.4 153.09 L232.5 153.42 L232.6 153.63 L232.7 151.42 L232.8 157.26 L232.9 158.29 L233 150.89 L233.1 152.17 L233.2 157.34 L233.3 151.78 L233.4 156.86 L233.5 158.26 L233.6 152.93 L233.7 152.75 L233.8 153.04 L233.9 150.76 L234 155.84 L234.1 151.24 L234.2 158.09 L234.3 153.25 L234.4 148.12 L234.5 157.2 L234.6 157.26 L234.7 156.1 L234.8 153.32 L234.9 152.88 L235 160.83 L235 126.86 L235.1 122.56 L235.2 129.47 L235.3 128.14 L235.4 127.44 L235.5 136.47 L235.6 128.71 L235.7 131.61 L235.8 125.94 L235.9 129.23 L236 121.65 L236.1 125.07 L236.2 125.67 L236.3 127.18 L236.4 129.85 L236.5 121.5 L236.6 127.01 L236.7 128.58 L236.8 130.19 L236.9 130.9 L237 118.84 L237.1 133.85 L237.2 124.96 L237.3 124.44 L237.4 126.48 L237.5 131.53 L237.6 130.28 L237.7 125.44 L237.8 127.67 L237.9 130.56 L238 135.02 L238.1 129.62 L238.2 132.34 L238.3 129.01 L238.4 128.87 L238.5 128.92 L238.6 128.03 L238.7 131.12 L238.8 128 L238.9 131.01 L239 132.6 L239.1 127.26 L239.2 124.77 L239.3 127.65 L239.4 129.8 L239.5 130.66 L239.6 133.82 L239.7 135.34 L239.8 132.28 L239.9 136.09 L240 135.2 L240.1 135.29 L240.2 132.05 L240.3 128.23 L240.4 125.86 L240.5 131.96 L240.6 132.86 L240.7 132.47 L240.8 132.01 L240.9 127.47 L241 134.87 L241.1 132.51 L241.2 134.39 L241.3 128.22 L241.4 131.26 L241.5 127.49 L241.6 131.48 L241.7 124.59 L241.8 132.58 L241.9 131.16 L242 127.97 L242.1 134.56 L242.2 124.94 L242.3 132.86 L242.4 139 L242.5 133.76 L242.6 136.39 L242.7 134.2 L242.8 127.38 L242.9 136.35 L243 134.77 L243 141.59 L243.1 144.71 L243.2 135.41 L243.3 130.73 L243.4 135.47 L243.5 135.75 L243.6 126.57 L243.7 130.08 L243.8 131.4 L243.9 134.51 L244 136.49 L244.1 133.21 L244.2 138.47 L244.3 138.36 L244.4 134.61 L244.5 134.6 L244.6 138.4 L244.7 133.04 L244.8 133.56 L244.9 131.96 L245 136.43 L245.1 138.53 L245.2 134.23 L245.3 136.01 L245.4 135.98 L245.5 129.83 L245.6 138.2 L245.7 133.26 L245.8 139.16 L245.9 133.48 L246 135.31 L246.1 138.72 L246.2 135.49 L246.3 134.45 L246.4 142.86 L246.5 136.03 L246.6 138.2 L246.7 136.02 L246.8 130.44 L246.9 135.92 L247 133.33 L247.1 135.08 L247.2 131.76 L247.3 137.91 L247.4 132.11 L247.5 136.02 L247.6 136.29 L247.7 130.27 L247.8 137.24 L247.9 135.83 L248 138.65 L248.1 131.76 L248.2 134.91 L248.3 137 L248.4 135.21 L248.5 138.37 L248.6 137.33 L248.7 130.29 L248.8 134.86 L248.9 131.15 L249 134.67 L249.1 133.14 L249.2 130.39 L249.3 133.5 L249.4 134.24 L249.5 134.88 L249.6 132.05 L249.7 127.78 L249.8 128.9 L249.9 133.04 L250 128.64 L250.1 133.1 L250.2 126.28 L250.3 133.55 L250.4 125.77 L250.5 131.37 L250.6 133.26 L250.7 130.1 L250.8 129.35 L250.9 127.96 L251 128.83 L251 159.66 L251.1 158.07 L251.2 158.43 L251.3 154.53 L251.4 160.64 L251.5 153.4 L251.6 157.54 L251.7 159.47 L251.8 157.4 L251.9 159.99 L252 159.26 L252.1 161.28 L252.2 157.77 L252.3 161.67 L252.4 162.9 L252.5 162.85 L252.6 161.87 L252.7 160.59 L252.8 165.56 L252.9 162.68 L253 171.1 L253.1 160.02 L253.2 165.74 L253.3 163.33 L253.4 161.67 L253.5 158.97 L253.6 159.4 L253.7 165.62 L253.8 161.27 L253.9 162.33 L254 156.26 L254.1 158.76 L254.2 164.69 L254.3 161.93 L254.4 163.05 L254.5 156.35 L254.6 167.95 L254.7 165.75 L254.8 165.46 L254.9 166.53 L255 165.01 L255.1 161.62 L255.2 161.72 L255.3 164.13 L255.4 159.44 L255.5 163.91 L255.6 161.87 L255.7 164.32 L255.8 170.18 L255.9 167.08 L256 161.84 L256.1 162.84 L256.2 169.38 L256.3 158.79 L256.4 166.45 L256.5 170.46 L256.6 165.8 L256.7 163.41 L256.8 164.32 L256.9 167.1 L257 168.39 L257.1 162.81 L257.2 163.85 L257.3 164.47 L257.4 164.36 L257.5 165.55 L257.6 166.33 L257.7 162.34 L257.8 164.76 L257.9 157.3 L258 159.34 L258.1 163.19 L258.2 164.38 L258.3 163.7 L258.4 161.87 L258.5 166.98 L258.6 163.49 L258.7 164.69 L258.8 161.74 L258.9 164.85 L259 163.1 L259.1 166.47 L259.2 166.18 L259.3 156.32 L259.4 161.27 L259.5 159.13 L259.6 166.57 L259.7 157.58 L259.8 160.15 L259.9 167.77 L260 127.76 L260.1 126.16 L260.2 126.09 L260.3 125.2 L260.4 123.92 L260.5 118.77 L260.6 126.22 L260.7 129.26 L260.8 131.64 L260.9 123.14 L261 130.52 L261.1 127.18 L261.2 129.22 L261.3 126.48 L261.4 127.75 L261.5 147.01 L261.6 154.32 L261.7 153.08 L261.8 154.13 L261.9 151.47 L262 150.67 L262.1 149.99 L262.2 149.01 L262.3 153.09 L262.4 150.46 L262.5 151.79 L262.6 149.52 L262.7 149.74 L262.8 148.64 L262.9 151.04 L263 152.2 L263.1 155.56 L263.2 151.41 L263.3 151.01 L263.4 152.39 L263.5 149.22 L263.6 150.33 L263.7 152.93 L263.8 153.49 L263.9 153.61 L264 152.58 L264.1 145.45 L264.2 151.41 L264.3 151.18 L264.4 152.49 L264.5 150.73 L264.6 147.03 L264.7 151.03 L264.8 156.66 L264.9 152.67 L265 151.8 L265.1 154.49 L265.2 156.23 L265.3 148.01 L265.4 150.25 L265.5 150.68 L265.6 145.77 L265.7 149.24 L265.8 161.45 L265.9 153.34 L266 162.99 L266.1 155.23 L266.2 153.28 L266.3 156.56 L266.4 159.85 L266.5 152.83 L266.6 154.34 L266.7 157.89 L266.8 151.19 L266.9 153.61 L267 155.53 L267.1 154.28 L267.2 156.18 L267.3 161.95 L267.4 157.01 L267.5 160.03 L267.6 158.54 L267.7 151.71 L267.8 154.73 L267.9 158.29 L268 148.94 L268.1 153.15 L268.2 157.89 L268.3 153.96 L268.4 149.08 L268.5 156.77 L268.6 158.32 L268.7 151.93 L268.8 152.22 L268.9 153.08 L269 152.56 L269.1 153.36 L269.2 152.76 L269.3 145.89 L269.4 147.97 L269.5 152.32 L269.6 152.45 L269.7 149.98 L269.8 156.36 L269.9 157.03 L270 140.16 L270.1 143.35 L270.2 144.89 L270.3 140.63 L270.4 141.09 L270.5 143.67 L270.6 140.39 L270.7 142.55 L270.8 144.29 L270.9 144.34 L271 157.15 L271.1 159.84 L271.2 157.72 L271.3 151.5 L271.4 157.1 L271.5 159.75 L271.6 159.54 L271.7 157.76 L271.8 156.26 L271.9 153.9 L272 161.47 L272.1 159.53 L272.2 159.44 L272.3 160.49 L272.4 154.42 L272.5 155.2 L272.6 152.45 L272.7 150.84 L272.8 152.62 L272.9 151.86 L273 153.57 L273.1 157.68 L273.2 151.46 L273.3 153.32 L273.4 149.97 L273.5 156.74 L273.6 159.46 L273.7 158.22 L273.8 157.96 L273.9 158.19 L274 161.64 L274.1 158.39 L274.2 153.09 L274.3 154.98 L274.4 155.68 L274.5 155.97 L274.6 157.78 L274.7 156.6 L274.8 158.49 L274.9 151.94 L275 158.49 L275.1 148.61 L275.2 152.48 L275.3 149.08 L275.4 153.31 L275.5 156.06 L275.6 152.44 L275.7 154.1 L275.8 155.32 L275.9 147.72 L276 136.16 L276.1 133.36 L276.2 131.94 L276.3 136.3 L276.4 137.36 L276.5 136.82 L276.6 140.86 L276.7 134.02 L276.8 137.64 L276.9 128.71 L277 149.31 L277.1 148.54 L277.2 151.56 L277.3 149.28 L277.4 150.88 L277.5 151.15 L277.6 152.43 L277.7 147.05 L277.8 151.58 L277.9 149.67 L278 152.25 L278.1 148.84 L278.2 147.52 L278.3 151.87 L278.4 151.14 L278.5 151.07 L278.6 152.95 L278.7 161.44 L278.8 156.6 L278.9 158.81 L279 159.95 L279.1 153.27 L279.2 153.76 L279.3 153.78 L279.4 155.96 L279.5 151.58 L279.6 150.9 L279.7 155.31 L279.8 150.8 L279.9 150.66 L280 149.1 L280.1 154.05 L280.2 154.28 L280.3 153.95 L280.4 155.75 L280.5 157.57 L280.6 150.79 L280.7 151.08 L280.8 154.13 L280.9 151.96 L281 152.05 L281.1 149.17 L281.2 153.89 L281.3 155.2 L281.4 154.04 L281.5 153.64 L281.6 149.69 L281.7 152.48 L281.8 156.18 L281.9 150.54 L282 147.58 L282.1 150.74 L282.2 153.36 L282.3 148.94 L282.4 157.17 L282.5 153.52 L282.6 152.4 L282.7 152.34 L282.8 156.23 L282.9 152.57 L283 151.68 L283.1 156.46 L283.2 151.64 L283.3 150.6 L283.4 151.01 L283.5 145.36 L283.6 148.81 L283.7 151.65 L283.8 151.83 L283.9 143.35 L284 154.88 L284.1 150.61 L284.2 150.69 L284.3 144.08 L284.4 152.16 L284.5 149.11 L284.6 154.03 L284.7 148.75 L284.8 150.1 L284.9 149.12 L285 151.05 L285.1 145.78 L285.2 149.25 L285.3 150.43 L285.4 155.32 L285.5 129.44 L285.6 126.67 L285.7 124.15 L285.8 133.48 L285.9 128.84 L286 130.46 L286.1 127.84 L286.2 133.3 L286.3 123.62 L286.4 129.74 L286.5 125.96 L286.6 123.6 L286.7 127.39 L286.8 123.05 L286.9 125.94 L287 151.29 L287.1 145.51 L287.2 152.31 L287.3 151.35 L287.4 146.83 L287.5 151.14 L287.6 153.43 L287.7 152.37 L287.8 149.58 L287.9 156.09 L288 145.75 L288.1 151.98 L288.2 150.9 L288.3 151.64 L288.4 146.28 L288.5 147.73 L288.6 152.25 L288.7 144.65 L288.8 153.52 L288.9 144.98 L289 145.39 L289.1 152.15 L289.2 152.06 L289.3 151.24 L289.4 152.42 L289.5 148.86 L289.6 155.79 L289.7 152.1 L289.8 156.56 L289.9 153.56 L290 150.85 L290.1 151.27 L290.2 148.36 L290.3 153.21 L290.4 153.46 L290.5 152.76 L290.6 154.72 L290.7 152.61 L290.8 157.09 L290.9 154.33 L291 155.7 L291.1 159.55 L291.2 147.94 L291.3 152.77 L291.4 148.9 L291.5 150.2 L291.6 154.37 L291.7 147.94 L291.8 153.28 L291.9 149.6 L292 152.66 L292.1 155.42 L292.2 155.49 L292.3 153.41 L292.4 148.69 L292.5 148.7 L292.6 153.15 L292.7 149.28 L292.8 151.89 L292.9 152.24 L293 152.77 L293.1 151.85 L293.2 155.44 L293.3 154.18 L293.4 151.59 L293.5 153.37 L293.6 154.78 L293.7 155.31 L293.8 154.71 L293.9 154.61 L294 156.66 L294.1 154.23 L294.2 153.21 L294.3 152.99 L294.4 157.27 L294.5 152.65 L294.6 153.32 L294.7 152.46 L294.8 159.63 L294.9 160.33 L295 156.6 L295.1 154.31 L295.2 156.13 L295.3 155.45 L295.4 154.01 L295.5 133.75 L295.6 128.86 L295.7 127.46 L295.8 127.97 L295.9 131.58 L296 129.67 L296.1 131.94 L296.2 131.17 L296.3 128.53 L296.4 127.57 L296.5 132.53 L296.6 131.23 L296.7 130.66 L296.8 136.59 L296.9 132.17 L297 160.44 L297.1 158.8 L297.2 156.17 L297.3 156.68 L297.4 159.55 L297.5 154.31 L297.6 155.04 L297.7 154.71 L297.8 154.74 L297.9 151.47 L298 153.85 L298.1 153.94 L298.2 149.89 L298.3 148.45 L298.4 155.9 L298.5 149.13 L298.6 155.49 L298.7 159.83 L298.8 154.97 L298.9 154.46 L299 134.35 L299.1 135.69 L299.2 132.14 L299.3 132.86 L299.4 133.54 L299.5 124.94 L299.6 130.01 L299.7 135.26 L299.8 128.28 L299.9 129.75 L300 130.34 L300.1 134.03 L300.2 125.56 L300.3 128.6 L300.4 132.11 L300.5 128.17 L300.6 128.59 L300.7 130.68 L300.8 125.19 L300.9 133.37 L301 122.67 L301.1 129.65 L301.2 128.46 L301.3 126.94 L301.4 131.43 L301.5 124.55 L301.6 134.28 L301.7 132.37 L301.8 130.11 L301.9 132.23 L302 130.23 L302.1 131.47 L302.2 133.81 L302.3 127.71 L302.4 131.23 L302.5 131.03 L302.6 132.17 L302.7 131.1 L302.8 131.62 L302.9 128.96 L303 129.87 L303.1 129.94 L303.2 129.62 L303.3 130.53 L303.4 134.59 L303.5 131.8 L303.6 131.09 L303.7 133.51 L303.8 132.46 L303.9 129.72 L304 152.05 L304.1 156.53 L304.2 151.04 L304.3 144.42 L304.4 147.55 L304.5 148.51 L304.6 148.83 L304.7 153.57 L304.8 150.18 L304.9 152.96 L305 153.54 L305.1 152.86 L305.2 147.51 L305.3 153.11 L305.4 151.12 L305.5 149.73 L305.6 152.01 L305.7 146.61 L305.8 149.4 L305.9 143.57 L306 132.37 L306.1 132.26 L306.2 127.62 L306.3 132.53 L306.4 132.08 L306.5 128.28 L306.6 127.66 L306.7 131.87 L306.8 128.5 L306.9 124.66 L307 130.41 L307.1 132.93 L307.2 127.52 L307.3 132.47 L307.4 130.46 L307.5 128.14 L307.6 127.33 L307.7 132.59 L307.8 131.11 L307.9 127.35 L308 154.98 L308.1 158.87 L308.2 157.36 L308.3 155.59 L308.4 153.48 L308.5 151.81 L308.6 151.39 L308.7 155.98 L308.8 144.82 L308.9 147.61 L309 159.03 L309.1 154.55 L309.2 153.86 L309.3 152.2 L309.4 148.39 L309.5 154.22 L309.6 156.11 L309.7 153.91 L309.8 157.15 L309.9 163.29 L310 154.47 L310.1 159.78 L310.2 156.46 L310.3 155.97 L310.4 158.23 L310.5 156.54 L310.6 160.73 L310.7 155.36 L310.8 156.78 L310.9 160.49 L311 157.17 L311.1 149.43 L311.2 156.77 L311.3 149.76 L311.4 161.12 L311.5 155.3 L311.6 154.51 L311.7 158.92 L311.8 158.53 L311.9 159.28 L312 157.72 L312.1 155.71 L312.2 150.05 L312.3 155.75 L312.4 156.9 L312.5 150.48 L312.6 154.02 L312.7 160.86 L312.8 151.33 L312.9 158.23 L313 153.97 L313.1 159.35 L313.2 160.44 L313.3 156.5 L313.4 149.92 L313.5 162.53 L313.6 161.85 L313.7 155.08 L313.8 160.37 L313.9 156.01 L314 160.98 L314.1 160.12 L314.2 158.16 L314.3 155.21 L314.4 159.39 L314.5 154.92 L314.6 154.17 L314.7 149.14 L314.8 161.34 L314.9 159.43 L315 153.77 L315.1 157.11 L315.2 156.23 L315.3 150.55 L315.4 155.95 L315.5 153.42 L315.6 150.73 L315.7 155.58 L315.8 150 L315.9 158.21 L316 153.77 L316.1 160.35 L316.2 156.16 L316.3 155.16 L316.4 149.23 L316.5 134.26 L316.6 134.32 L316.7 131.48 L316.8 127.81 L316.9 132.12 L317 123.32 L317.1 127.35 L317.2 133.41 L317.3 133.46 L317.4 128.25 L317.5 131.41 L317.6 129.85 L317.7 127.45 L317.8 124.66 L317.9 121.73 L318 123.61 L318.1 130.03 L318.2 128.4 L318.3 124.81 L318.4 124.24" fill="none" stroke="#000" stroke-width="0.7" stroke-linejoin="bevel"/>
<line x1="271.9" y1="189.9" x2="271.9" y2="213.8" stroke="#000" stroke-width="1.1"/>
<line x1="271.4" y1="213.3" x2="304.3" y2="213.3" stroke="#000" stroke-width="1.1"/>
<text x="269.8" y="206.9" font-size="16.5" text-anchor="end">1 pA</text>
<text x="273.6" y="231.4" font-size="16.5">0.5 s</text>
<line x1="396.8" y1="38" x2="396.8" y2="179.5" stroke="#6a6a6a" stroke-width="1"/>
<line x1="396.3" y1="179.3" x2="575.1" y2="179.3" stroke="#333" stroke-width="1.1"/>
<line x1="393.2" y1="38.5" x2="396.8" y2="38.5" stroke="#6a6a6a" stroke-width="1"/>
<text x="391.3" y="42.8" font-size="16.2" text-anchor="end">0.50</text>
<line x1="393.2" y1="101.8" x2="396.8" y2="101.8" stroke="#6a6a6a" stroke-width="1"/>
<text x="391.3" y="106.1" font-size="16.2" text-anchor="end">0.25</text>
<line x1="393.2" y1="165.8" x2="396.8" y2="165.8" stroke="#6a6a6a" stroke-width="1"/>
<text x="391.3" y="170.1" font-size="16.2" text-anchor="end">0.00</text>
<line x1="394.8" y1="70.1" x2="396.8" y2="70.1" stroke="#6a6a6a" stroke-width="1"/>
<line x1="394.8" y1="134" x2="396.8" y2="134" stroke="#6a6a6a" stroke-width="1"/>
<text x="350.7" y="109.3" font-size="18.3" transform="rotate(-90 350.7 109.3)">P<tspan font-size="12.5" dy="5">o</tspan><tspan dy="-5">, TRPC</tspan></text>
<circle cx="416.7" cy="163.8" r="3.9" fill="#fff" stroke="#555" stroke-width="1"/>
<line x1="412.8" y1="163.8" x2="420.6" y2="163.8" stroke="#555" stroke-width="1"/>
<line x1="416.7" y1="159.9" x2="416.7" y2="167.7" stroke="#555" stroke-width="1"/>
<line x1="437.5" y1="161" x2="535.1" y2="65.4" stroke="#444" stroke-width="0.75" stroke-dasharray="2.5 1.8"/>
<line x1="437.5" y1="160" x2="535.1" y2="80.6" stroke="#444" stroke-width="0.75" stroke-dasharray="2.5 1.8"/>
<line x1="437.5" y1="162" x2="535.1" y2="92.4" stroke="#444" stroke-width="0.75" stroke-dasharray="2.5 1.8"/>
<line x1="437.5" y1="163" x2="535.1" y2="118" stroke="#444" stroke-width="0.75" stroke-dasharray="2.5 1.8"/>
<line x1="437.5" y1="164" x2="535.1" y2="128.9" stroke="#444" stroke-width="0.75" stroke-dasharray="2.5 1.8"/>
<line x1="437.5" y1="162" x2="535.1" y2="139.1" stroke="#444" stroke-width="0.75" stroke-dasharray="2.5 1.8"/>
<line x1="437.5" y1="165" x2="535.1" y2="144.1" stroke="#444" stroke-width="0.75" stroke-dasharray="2.5 1.8"/>
<line x1="437.5" y1="166" x2="535.1" y2="152" stroke="#444" stroke-width="0.75" stroke-dasharray="2.5 1.8"/>
<path d="M436.5 155.2 L440.6 160 L440.6 166 L432.6 166 L432.6 160 Z" fill="#000" stroke="#000" stroke-width="0.6"/>
<path d="M432.6 169.3 L436.5 165 L440.5 169.3 Z" fill="#fff" stroke="#000" stroke-width="1"/>
<circle cx="436.5" cy="163.2" r="3.4" fill="#000" stroke="#000" stroke-width="0.5"/>
<rect x="532.1" y="62.4" width="6" height="6" fill="#fff"/>
<rect x="532.1" y="62.4" width="6" height="6" fill="#fff" stroke="#000" stroke-width="0.9"/>
<path d="M536.9 77.48 L538.7 80.6 L536.9 83.72 L533.3 83.72 L531.5 80.6 L533.3 77.48 Z" fill="#000" stroke="#000" stroke-width="0.5"/>
<path d="M535.1 88.2 L536.16 91.14 L539.28 91.24 L536.81 93.16 L537.69 96.16 L535.1 94.4 L532.51 96.16 L533.39 93.16 L530.92 91.24 L534.04 91.14 Z" fill="#000" stroke="none" stroke-width="0"/>
<path d="M535.1 114.6 L538.8 120.6 L531.4 120.6 Z" fill="#fff" stroke="#000" stroke-width="0.9"/>
<circle cx="535.1" cy="128.9" r="3.1" fill="#fff" stroke="#000" stroke-width="0.9"/>
<circle cx="535.1" cy="139.1" r="3.3" fill="#000" stroke="#000" stroke-width="0.5"/>
<path d="M535.1 140.8 L538.9 147.2 L531.3 147.2 Z" fill="#000" stroke="#000" stroke-width="0.5"/>
<path d="M535.1 148.6 L538.52 151.09 L537.22 155.11 L532.98 155.11 L531.68 151.09 Z" fill="#000" stroke="#000" stroke-width="0.5"/>
<line x1="555.1" y1="92.4" x2="555.1" y2="119.6" stroke="#333" stroke-width="1"/>
<line x1="552.1" y1="92.4" x2="558.1" y2="92.4" stroke="#333" stroke-width="1"/>
<line x1="552.1" y1="119.6" x2="558.1" y2="119.6" stroke="#333" stroke-width="1"/>
<circle cx="555.1" cy="105.6" r="4.1" fill="#fff" stroke="#222" stroke-width="1"/>
<line x1="555.5" y1="79.3" x2="555.5" y2="73" stroke="#000" stroke-width="2.6"/>
<line x1="555.5" y1="79.3" x2="561.49" y2="77.35" stroke="#000" stroke-width="2.6"/>
<line x1="555.5" y1="79.3" x2="559.2" y2="84.4" stroke="#000" stroke-width="2.6"/>
<line x1="555.5" y1="79.3" x2="551.8" y2="84.4" stroke="#000" stroke-width="2.6"/>
<line x1="555.5" y1="79.3" x2="549.51" y2="77.35" stroke="#000" stroke-width="2.6"/>
<text x="445.4" y="199.9" font-size="18" text-anchor="middle">before</text>
<text x="529.3" y="199.9" font-size="18" text-anchor="middle">after</text>
<line x1="618.8" y1="34.5" x2="618.8" y2="177.3" stroke="#6a6a6a" stroke-width="1"/>
<line x1="616.6" y1="177.1" x2="797.5" y2="177.1" stroke="#999" stroke-width="1"/>
<line x1="615.3" y1="176.8" x2="618.8" y2="176.8" stroke="#6a6a6a" stroke-width="1"/>
<text x="615.3" y="181.4" font-size="13" text-anchor="end">0</text>
<line x1="615.3" y1="141.3" x2="618.8" y2="141.3" stroke="#6a6a6a" stroke-width="1"/>
<text x="615.3" y="145.9" font-size="13" text-anchor="end">10</text>
<line x1="615.3" y1="105.8" x2="618.8" y2="105.8" stroke="#6a6a6a" stroke-width="1"/>
<text x="615.3" y="110.4" font-size="13" text-anchor="end">20</text>
<line x1="615.3" y1="70.3" x2="618.8" y2="70.3" stroke="#6a6a6a" stroke-width="1"/>
<text x="615.3" y="74.9" font-size="13" text-anchor="end">30</text>
<line x1="615.3" y1="34.8" x2="618.8" y2="34.8" stroke="#6a6a6a" stroke-width="1"/>
<text x="615.3" y="39.4" font-size="13" text-anchor="end">40</text>
<line x1="616.8" y1="159.05" x2="618.8" y2="159.05" stroke="#6a6a6a" stroke-width="1"/>
<line x1="616.8" y1="123.55" x2="618.8" y2="123.55" stroke="#6a6a6a" stroke-width="1"/>
<line x1="616.8" y1="88.05" x2="618.8" y2="88.05" stroke="#6a6a6a" stroke-width="1"/>
<line x1="616.8" y1="52.55" x2="618.8" y2="52.55" stroke="#6a6a6a" stroke-width="1"/>
<line x1="619.5" y1="177" x2="619.5" y2="180.6" stroke="#6a6a6a" stroke-width="1"/>
<text x="619.7" y="192" font-size="14" text-anchor="middle">-8</text>
<line x1="640.5" y1="177" x2="640.5" y2="180.6" stroke="#6a6a6a" stroke-width="1"/>
<text x="640.7" y="192" font-size="14" text-anchor="middle">-7</text>
<line x1="661.5" y1="177" x2="661.5" y2="180.6" stroke="#6a6a6a" stroke-width="1"/>
<text x="661.7" y="192" font-size="14" text-anchor="middle">-6</text>
<line x1="682.5" y1="177" x2="682.5" y2="180.6" stroke="#6a6a6a" stroke-width="1"/>
<text x="682.7" y="192" font-size="14" text-anchor="middle">-5</text>
<line x1="703.5" y1="177" x2="703.5" y2="180.6" stroke="#6a6a6a" stroke-width="1"/>
<text x="703.7" y="192" font-size="14" text-anchor="middle">-4</text>
<line x1="724.5" y1="177" x2="724.5" y2="180.6" stroke="#6a6a6a" stroke-width="1"/>
<text x="724.7" y="192" font-size="14" text-anchor="middle">-3</text>
<line x1="745.5" y1="177" x2="745.5" y2="180.6" stroke="#6a6a6a" stroke-width="1"/>
<text x="745.7" y="192" font-size="14" text-anchor="middle">-2</text>
<line x1="766.5" y1="177" x2="766.5" y2="180.6" stroke="#6a6a6a" stroke-width="1"/>
<text x="766.7" y="192" font-size="14" text-anchor="middle">-1</text>
<line x1="787.5" y1="177" x2="787.5" y2="180.6" stroke="#6a6a6a" stroke-width="1"/>
<text x="787.7" y="192" font-size="14" text-anchor="middle">0</text>
<line x1="630" y1="177" x2="630" y2="179" stroke="#6a6a6a" stroke-width="1"/>
<line x1="651" y1="177" x2="651" y2="179" stroke="#6a6a6a" stroke-width="1"/>
<line x1="672" y1="177" x2="672" y2="179" stroke="#6a6a6a" stroke-width="1"/>
<line x1="693" y1="177" x2="693" y2="179" stroke="#6a6a6a" stroke-width="1"/>
<line x1="714" y1="177" x2="714" y2="179" stroke="#6a6a6a" stroke-width="1"/>
<line x1="735" y1="177" x2="735" y2="179" stroke="#6a6a6a" stroke-width="1"/>
<line x1="756" y1="177" x2="756" y2="179" stroke="#6a6a6a" stroke-width="1"/>
<line x1="777" y1="177" x2="777" y2="179" stroke="#6a6a6a" stroke-width="1"/>
<line x1="798" y1="177" x2="798" y2="179" stroke="#6a6a6a" stroke-width="1"/>
<text x="593" y="127" font-size="17" transform="rotate(-90 593 127)">Events count</text>
<text x="671.6" y="211" font-size="18.7">Amplitude, pA</text>
<text x="600.3" y="177.5" font-size="7" fill="#bbb">0</text>
<rect x="658.6" y="174.85" width="2.3" height="1.95" fill="#b6b6b6" stroke="#d6d6d6" stroke-width="0.5"/>
<rect x="660.9" y="174.45" width="2.3" height="2.35" fill="#b6b6b6" stroke="#d6d6d6" stroke-width="0.5"/>
<rect x="677" y="173.37" width="2.3" height="3.43" fill="#b6b6b6" stroke="#d6d6d6" stroke-width="0.5"/>
<rect x="679.3" y="167.05" width="2.3" height="9.75" fill="#b6b6b6" stroke="#d6d6d6" stroke-width="0.5"/>
<rect x="681.6" y="164.65" width="2.3" height="12.15" fill="#b6b6b6" stroke="#d6d6d6" stroke-width="0.5"/>
<rect x="683.9" y="169.24" width="2.3" height="7.56" fill="#b6b6b6" stroke="#d6d6d6" stroke-width="0.5"/>
<rect x="686.2" y="171.97" width="2.3" height="4.83" fill="#b6b6b6" stroke="#d6d6d6" stroke-width="0.5"/>
<rect x="695.4" y="173.59" width="2.3" height="3.21" fill="#b6b6b6" stroke="#d6d6d6" stroke-width="0.5"/>
<rect x="697.7" y="165.67" width="2.3" height="11.13" fill="#b6b6b6" stroke="#d6d6d6" stroke-width="0.5"/>
<rect x="700" y="147.65" width="2.3" height="29.15" fill="#b6b6b6" stroke="#d6d6d6" stroke-width="0.5"/>
<rect x="702.3" y="135.67" width="2.3" height="41.13" fill="#b6b6b6" stroke="#d6d6d6" stroke-width="0.5"/>
<rect x="704.6" y="149.74" width="2.3" height="27.06" fill="#b6b6b6" stroke="#d6d6d6" stroke-width="0.5"/>
<rect x="706.9" y="162.77" width="2.3" height="14.03" fill="#b6b6b6" stroke="#d6d6d6" stroke-width="0.5"/>
<rect x="709.2" y="170.56" width="2.3" height="6.24" fill="#b6b6b6" stroke="#d6d6d6" stroke-width="0.5"/>
<rect x="713.8" y="174.52" width="2.3" height="2.28" fill="#b6b6b6" stroke="#d6d6d6" stroke-width="0.5"/>
<rect x="716.1" y="169.65" width="2.3" height="7.15" fill="#b6b6b6" stroke="#d6d6d6" stroke-width="0.5"/>
<rect x="718.4" y="153.86" width="2.3" height="22.94" fill="#b6b6b6" stroke="#d6d6d6" stroke-width="0.5"/>
<rect x="720.7" y="136.36" width="2.3" height="40.44" fill="#b6b6b6" stroke="#d6d6d6" stroke-width="0.5"/>
<rect x="723" y="110.95" width="2.3" height="65.85" fill="#b6b6b6" stroke="#d6d6d6" stroke-width="0.5"/>
<rect x="725.3" y="91.09" width="2.3" height="85.71" fill="#b6b6b6" stroke="#d6d6d6" stroke-width="0.5"/>
<rect x="727.6" y="110.05" width="2.3" height="66.75" fill="#b6b6b6" stroke="#d6d6d6" stroke-width="0.5"/>
<rect x="729.9" y="142.58" width="2.3" height="34.22" fill="#b6b6b6" stroke="#d6d6d6" stroke-width="0.5"/>
<rect x="732.2" y="163.9" width="2.3" height="12.9" fill="#b6b6b6" stroke="#d6d6d6" stroke-width="0.5"/>
<rect x="734.5" y="168.27" width="2.3" height="8.53" fill="#b6b6b6" stroke="#d6d6d6" stroke-width="0.5"/>
<rect x="736.8" y="160.91" width="2.3" height="15.89" fill="#b6b6b6" stroke="#d6d6d6" stroke-width="0.5"/>
<rect x="739.1" y="143.84" width="2.3" height="32.96" fill="#b6b6b6" stroke="#d6d6d6" stroke-width="0.5"/>
<rect x="741.4" y="112.68" width="2.3" height="64.12" fill="#b6b6b6" stroke="#d6d6d6" stroke-width="0.5"/>
<rect x="743.7" y="87.51" width="2.3" height="89.29" fill="#b6b6b6" stroke="#d6d6d6" stroke-width="0.5"/>
<rect x="746" y="120.45" width="2.3" height="56.35" fill="#b6b6b6" stroke="#d6d6d6" stroke-width="0.5"/>
<rect x="748.3" y="142.27" width="2.3" height="34.53" fill="#b6b6b6" stroke="#d6d6d6" stroke-width="0.5"/>
<rect x="750.6" y="154.26" width="2.3" height="22.54" fill="#b6b6b6" stroke="#d6d6d6" stroke-width="0.5"/>
<rect x="752.9" y="170.39" width="2.3" height="6.41" fill="#b6b6b6" stroke="#d6d6d6" stroke-width="0.5"/>
<rect x="755.2" y="171.15" width="2.3" height="5.65" fill="#b6b6b6" stroke="#d6d6d6" stroke-width="0.5"/>
<rect x="757.5" y="161.26" width="2.3" height="15.54" fill="#b6b6b6" stroke="#d6d6d6" stroke-width="0.5"/>
<rect x="759.8" y="138.05" width="2.3" height="38.75" fill="#b6b6b6" stroke="#d6d6d6" stroke-width="0.5"/>
<rect x="762.1" y="131.65" width="2.3" height="45.15" fill="#b6b6b6" stroke="#d6d6d6" stroke-width="0.5"/>
<rect x="764.4" y="136.19" width="2.3" height="40.61" fill="#b6b6b6" stroke="#d6d6d6" stroke-width="0.5"/>
<rect x="766.7" y="148.31" width="2.3" height="28.49" fill="#b6b6b6" stroke="#d6d6d6" stroke-width="0.5"/>
<rect x="769" y="166.73" width="2.3" height="10.07" fill="#b6b6b6" stroke="#d6d6d6" stroke-width="0.5"/>
<rect x="771.3" y="174.64" width="2.3" height="2.16" fill="#b6b6b6" stroke="#d6d6d6" stroke-width="0.5"/>
<rect x="780.5" y="173.61" width="2.3" height="3.19" fill="#b6b6b6" stroke="#d6d6d6" stroke-width="0.5"/>
<rect x="782.8" y="165.36" width="2.3" height="11.44" fill="#b6b6b6" stroke="#d6d6d6" stroke-width="0.5"/>
<rect x="785.1" y="160.65" width="2.3" height="16.15" fill="#b6b6b6" stroke="#d6d6d6" stroke-width="0.5"/>
<rect x="787.4" y="169.83" width="2.3" height="6.97" fill="#b6b6b6" stroke="#d6d6d6" stroke-width="0.5"/>
<rect x="789.7" y="174.85" width="2.3" height="1.95" fill="#b6b6b6" stroke="#d6d6d6" stroke-width="0.5"/>
<rect x="702.61" y="116.45" width="2.2" height="60.35" fill="#e4e4e4" stroke="#aaa" stroke-width="0.6"/>
<rect x="762.67" y="109.35" width="2.2" height="67.45" fill="#e4e4e4" stroke="#aaa" stroke-width="0.6"/>
<rect x="784.93" y="158.34" width="2.2" height="18.46" fill="#e4e4e4" stroke="#aaa" stroke-width="0.6"/>
<path d="M619.5 176.1 L619.92 176.02 L620.34 175.95 L620.76 175.87 L621.18 175.79 L621.6 175.7 L622.02 175.61 L622.44 175.51 L622.86 175.41 L623.28 175.31 L623.7 175.21 L624.12 175.1 L624.54 175 L624.96 174.89 L625.38 174.79 L625.8 174.68 L626.22 174.58 L626.64 174.48 L627.06 174.38 L627.48 174.29 L627.9 174.2 L628.32 174.12 L628.74 174.04 L629.16 173.97 L629.58 173.91 L630 173.86 L630.42 173.82 L630.84 173.78 L631.26 173.76 L631.68 173.74 L632.1 173.74 L632.52 173.74 L632.94 173.76 L633.36 173.78 L633.78 173.81 L634.2 173.86 L634.62 173.91 L635.04 173.97 L635.46 174.03 L635.88 174.11 L636.3 174.19 L636.72 174.27 L637.14 174.36 L637.56 174.45 L637.98 174.55 L638.4 174.64 L638.82 174.74 L639.24 174.84 L639.66 174.93 L640.08 175.03 L640.5 175.12 L640.92 175.21 L641.34 175.29 L641.76 175.37 L642.18 175.45 L642.6 175.51 L643.02 175.57 L643.44 175.63 L643.86 175.67 L644.28 175.71 L644.7 175.74 L645.12 175.76 L645.54 175.77 L645.96 175.77 L646.38 175.77 L646.8 175.75 L647.22 175.73 L647.64 175.69 L648.06 175.65 L648.48 175.59 L648.9 175.53 L649.32 175.46 L649.74 175.38 L650.16 175.3 L650.58 175.2 L651 175.11 L651.42 175 L651.84 174.89 L652.26 174.78 L652.68 174.66 L653.1 174.54 L653.52 174.42 L653.94 174.29 L654.36 174.17 L654.78 174.05 L655.2 173.93 L655.62 173.82 L656.04 173.71 L656.46 173.6 L656.88 173.5 L657.3 173.41 L657.72 173.33 L658.14 173.26 L658.56 173.19 L658.98 173.14 L659.4 173.1 L659.82 173.06 L660.24 173.05 L660.66 173.04 L661.08 173.04 L661.5 173.06 L661.92 173.09 L662.34 173.12 L662.76 173.17 L663.18 173.23 L663.6 173.3 L664.02 173.38 L664.44 173.47 L664.86 173.56 L665.28 173.66 L665.7 173.76 L666.12 173.87 L666.54 173.98 L666.96 174.09 L667.38 174.2 L667.8 174.3 L668.22 174.4 L668.64 174.49 L669.06 174.58 L669.48 174.65 L669.9 174.71 L670.32 174.76 L670.74 174.78 L671.16 174.79 L671.58 174.77 L672 174.72 L672.42 174.64 L672.84 174.52 L673.26 174.37 L673.68 174.18 L674.1 173.95 L674.52 173.67 L674.94 173.35 L675.36 172.98 L675.78 172.56 L676.2 172.1 L676.62 171.6 L677.04 171.06 L677.46 170.49 L677.88 169.88 L678.3 169.26 L678.72 168.63 L679.14 168 L679.56 167.38 L679.98 166.77 L680.4 166.2 L680.82 165.67 L681.24 165.18 L681.66 164.76 L682.08 164.41 L682.5 164.14 L682.92 163.94 L683.34 163.83 L683.76 163.81 L684.18 163.87 L684.6 164.01 L685.02 164.23 L685.44 164.52 L685.86 164.87 L686.28 165.28 L686.7 165.73 L687.12 166.21 L687.54 166.72 L687.96 167.24 L688.38 167.76 L688.8 168.26 L689.22 168.75 L689.64 169.21 L690.06 169.63 L690.48 170 L690.9 170.32 L691.32 170.57 L691.74 170.76 L692.16 170.86 L692.58 170.87 L693 170.77 L693.42 170.56 L693.84 170.21 L694.26 169.71 L694.68 169.04 L695.1 168.19 L695.52 167.13 L695.94 165.85 L696.36 164.35 L696.78 162.6 L697.2 160.62 L697.62 158.42 L698.04 156 L698.46 153.42 L698.88 150.69 L699.3 147.89 L699.72 145.07 L700.14 142.3 L700.56 139.66 L700.98 137.23 L701.4 135.09 L701.82 133.29 L702.24 131.91 L702.66 130.99 L703.08 130.55 L703.5 130.61 L703.92 131.16 L704.34 132.18 L704.76 133.61 L705.18 135.41 L705.6 137.5 L706.02 139.8 L706.44 142.26 L706.86 144.77 L707.28 147.29 L707.7 149.73 L708.12 152.06 L708.54 154.22 L708.96 156.19 L709.38 157.94 L709.8 159.46 L710.22 160.76 L710.64 161.84 L711.06 162.7 L711.48 163.35 L711.9 163.82 L712.32 164.1 L712.74 164.2 L713.16 164.14 L713.58 163.9 L714 163.48 L714.42 162.86 L714.84 162.04 L715.26 160.99 L715.68 159.68 L716.1 158.08 L716.52 156.16 L716.94 153.89 L717.36 151.25 L717.78 148.21 L718.2 144.76 L718.62 140.88 L719.04 136.6 L719.46 131.92 L719.88 126.88 L720.3 121.54 L720.72 115.97 L721.14 110.25 L721.56 104.48 L721.98 98.79 L722.4 93.3 L722.82 88.13 L723.24 83.42 L723.66 79.29 L724.08 75.85 L724.5 73.2 L724.92 71.42 L725.34 70.56 L725.76 70.66 L726.18 71.7 L726.6 73.66 L727.02 76.49 L727.44 80.09 L727.86 84.38 L728.28 89.22 L728.7 94.5 L729.12 100.07 L729.54 105.8 L729.96 111.55 L730.38 117.2 L730.8 122.62 L731.22 127.73 L731.64 132.42 L732.06 136.63 L732.48 140.3 L732.9 143.38 L733.32 145.84 L733.74 147.66 L734.16 148.83 L734.58 149.34 L735 149.19 L735.42 148.39 L735.84 146.95 L736.26 144.88 L736.68 142.21 L737.1 138.95 L737.52 135.14 L737.94 130.82 L738.36 126.02 L738.78 120.81 L739.2 115.24 L739.62 109.39 L740.04 103.34 L740.46 97.19 L740.88 91.02 L741.3 84.95 L741.72 79.09 L742.14 73.55 L742.56 68.44 L742.98 63.86 L743.4 59.92 L743.82 56.69 L744.24 54.26 L744.66 52.67 L745.08 51.98 L745.5 52.19 L745.92 53.3 L746.34 55.29 L746.76 58.11 L747.18 61.72 L747.6 66.02 L748.02 70.93 L748.44 76.35 L748.86 82.17 L749.28 88.27 L749.7 94.55 L750.12 100.89 L750.54 107.19 L750.96 113.34 L751.38 119.26 L751.8 124.87 L752.22 130.09 L752.64 134.87 L753.06 139.16 L753.48 142.92 L753.9 146.13 L754.32 148.78 L754.74 150.84 L755.16 152.33 L755.58 153.25 L756 153.62 L756.42 153.45 L756.84 152.78 L757.26 151.63 L757.68 150.04 L758.1 148.07 L758.52 145.76 L758.94 143.16 L759.36 140.34 L759.78 137.37 L760.2 134.32 L760.62 131.26 L761.04 128.26 L761.46 125.4 L761.88 122.75 L762.3 120.38 L762.72 118.36 L763.14 116.73 L763.56 115.54 L763.98 114.83 L764.4 114.61 L764.82 114.9 L765.24 115.68 L765.66 116.95 L766.08 118.67 L766.5 120.8 L766.92 123.29 L767.34 126.08 L767.76 129.13 L768.18 132.35 L768.6 135.69 L769.02 139.09 L769.44 142.48 L769.86 145.81 L770.28 149.04 L770.7 152.11 L771.12 155.01 L771.54 157.69 L771.96 160.14 L772.38 162.35 L772.8 164.31 L773.22 166.02 L773.64 167.48 L774.06 168.71 L774.48 169.71 L774.9 170.5 L775.32 171.08 L775.74 171.48 L776.16 171.71 L776.58 171.78 L777 171.72 L777.42 171.53 L777.84 171.23 L778.26 170.83 L778.68 170.36 L779.1 169.82 L779.52 169.23 L779.94 168.61 L780.36 167.96 L780.78 167.31 L781.2 166.67 L781.62 166.06 L782.04 165.48 L782.46 164.96 L782.88 164.5 L783.3 164.12 L783.72 163.82 L784.14 163.61 L784.56 163.5 L784.98 163.5 L785.4 163.59 L785.82 163.78 L786.24 164.06 L786.66 164.44 L787.08 164.89 L787.5 165.42 L787.92 166 L788.34 166.63" fill="none" stroke="#000" stroke-width="1.5"/>
<text x="5" y="254.6" font-size="16.5" font-weight="bold">B</text>
<text x="63" y="258.7" font-size="16.3" font-style="italic">EC<tspan font-size="11.5" dy="3.5">50</tspan><tspan dy="-3.5"> = 56.4 ± 6.2 µM</tspan></text>
<line x1="55.3" y1="268.7" x2="55.3" y2="443.2" stroke="#6a6a6a" stroke-width="1"/>
<line x1="54.8" y1="440" x2="260.3" y2="440" stroke="#6a6a6a" stroke-width="1"/>
<line x1="51.5" y1="439.6" x2="55.3" y2="439.6" stroke="#6a6a6a" stroke-width="1"/>
<text x="49.8" y="444.2" font-size="13.2" text-anchor="end">0.00</text>
<line x1="51.5" y1="397.05" x2="55.3" y2="397.05" stroke="#6a6a6a" stroke-width="1"/>
<text x="49.8" y="401.65" font-size="13.2" text-anchor="end">0.25</text>
<line x1="51.5" y1="354.5" x2="55.3" y2="354.5" stroke="#6a6a6a" stroke-width="1"/>
<text x="49.8" y="359.1" font-size="13.2" text-anchor="end">0.50</text>
<line x1="51.5" y1="311.95" x2="55.3" y2="311.95" stroke="#6a6a6a" stroke-width="1"/>
<text x="49.8" y="316.55" font-size="13.2" text-anchor="end">0.75</text>
<line x1="51.5" y1="269.4" x2="55.3" y2="269.4" stroke="#6a6a6a" stroke-width="1"/>
<text x="49.8" y="274" font-size="13.2" text-anchor="end">1.00</text>
<line x1="53.3" y1="418.33" x2="55.3" y2="418.33" stroke="#6a6a6a" stroke-width="1"/>
<line x1="53.3" y1="375.78" x2="55.3" y2="375.78" stroke="#6a6a6a" stroke-width="1"/>
<line x1="53.3" y1="333.23" x2="55.3" y2="333.23" stroke="#6a6a6a" stroke-width="1"/>
<line x1="53.3" y1="290.68" x2="55.3" y2="290.68" stroke="#6a6a6a" stroke-width="1"/>
<line x1="75.77" y1="440" x2="75.77" y2="442" stroke="#6a6a6a" stroke-width="1"/>
<line x1="87.74" y1="440" x2="87.74" y2="442" stroke="#6a6a6a" stroke-width="1"/>
<line x1="96.24" y1="440" x2="96.24" y2="442" stroke="#6a6a6a" stroke-width="1"/>
<line x1="102.83" y1="440" x2="102.83" y2="442" stroke="#6a6a6a" stroke-width="1"/>
<line x1="108.21" y1="440" x2="108.21" y2="442" stroke="#6a6a6a" stroke-width="1"/>
<line x1="112.77" y1="440" x2="112.77" y2="442" stroke="#6a6a6a" stroke-width="1"/>
<line x1="116.71" y1="440" x2="116.71" y2="442" stroke="#6a6a6a" stroke-width="1"/>
<line x1="120.19" y1="440" x2="120.19" y2="442" stroke="#6a6a6a" stroke-width="1"/>
<line x1="143.77" y1="440" x2="143.77" y2="442" stroke="#6a6a6a" stroke-width="1"/>
<line x1="155.74" y1="440" x2="155.74" y2="442" stroke="#6a6a6a" stroke-width="1"/>
<line x1="164.24" y1="440" x2="164.24" y2="442" stroke="#6a6a6a" stroke-width="1"/>
<line x1="170.83" y1="440" x2="170.83" y2="442" stroke="#6a6a6a" stroke-width="1"/>
<line x1="176.21" y1="440" x2="176.21" y2="442" stroke="#6a6a6a" stroke-width="1"/>
<line x1="180.77" y1="440" x2="180.77" y2="442" stroke="#6a6a6a" stroke-width="1"/>
<line x1="184.71" y1="440" x2="184.71" y2="442" stroke="#6a6a6a" stroke-width="1"/>
<line x1="188.19" y1="440" x2="188.19" y2="442" stroke="#6a6a6a" stroke-width="1"/>
<line x1="211.77" y1="440" x2="211.77" y2="442" stroke="#6a6a6a" stroke-width="1"/>
<line x1="223.74" y1="440" x2="223.74" y2="442" stroke="#6a6a6a" stroke-width="1"/>
<line x1="232.24" y1="440" x2="232.24" y2="442" stroke="#6a6a6a" stroke-width="1"/>
<line x1="238.83" y1="440" x2="238.83" y2="442" stroke="#6a6a6a" stroke-width="1"/>
<line x1="244.21" y1="440" x2="244.21" y2="442" stroke="#6a6a6a" stroke-width="1"/>
<line x1="248.77" y1="440" x2="248.77" y2="442" stroke="#6a6a6a" stroke-width="1"/>
<line x1="252.71" y1="440" x2="252.71" y2="442" stroke="#6a6a6a" stroke-width="1"/>
<line x1="256.19" y1="440" x2="256.19" y2="442" stroke="#6a6a6a" stroke-width="1"/>
<line x1="55.3" y1="440" x2="55.3" y2="443.5" stroke="#6a6a6a" stroke-width="1"/>
<line x1="123.3" y1="440" x2="123.3" y2="443.5" stroke="#6a6a6a" stroke-width="1"/>
<line x1="191.3" y1="440" x2="191.3" y2="443.5" stroke="#6a6a6a" stroke-width="1"/>
<line x1="259.3" y1="440" x2="259.3" y2="443.5" stroke="#6a6a6a" stroke-width="1"/>
<text x="60" y="454.2" font-size="12.4" text-anchor="middle">1</text>
<text x="129.5" y="454.2" font-size="12.4" text-anchor="middle">10</text>
<text x="197.5" y="454.2" font-size="12.4" text-anchor="middle">100</text>
<text x="265.8" y="454.2" font-size="12.4" text-anchor="middle">1000</text>
<text x="190" y="478.8" font-size="17.3">[H<tspan font-size="12.5" dy="4">2</tspan><tspan dy="-4">O</tspan><tspan font-size="12.5" dy="4">2</tspan><tspan dy="-4">],</tspan></text>
<g transform="translate(252.6 478.8) scale(1.1 1)"><text x="0" y="0" font-size="17.3">µM</text></g>
<text x="14.4" y="442.4" font-size="18.5" transform="rotate(-90 14.4 442.4)">Fluo4/FuraRed, a.u.</text>
<line x1="82.6" y1="393.6" x2="82.6" y2="417.3" stroke="#999" stroke-width="0.8"/>
<line x1="80.4" y1="393.6" x2="84.8" y2="393.6" stroke="#999" stroke-width="0.8"/>
<line x1="80.4" y1="417.3" x2="84.8" y2="417.3" stroke="#999" stroke-width="0.8"/>
<line x1="123.4" y1="410" x2="123.4" y2="422.4" stroke="#999" stroke-width="0.8"/>
<line x1="121.2" y1="410" x2="125.6" y2="410" stroke="#999" stroke-width="0.8"/>
<line x1="121.2" y1="422.4" x2="125.6" y2="422.4" stroke="#999" stroke-width="0.8"/>
<line x1="150.4" y1="359.9" x2="150.4" y2="390.5" stroke="#999" stroke-width="0.8"/>
<line x1="148.2" y1="359.9" x2="152.6" y2="359.9" stroke="#999" stroke-width="0.8"/>
<line x1="148.2" y1="390.5" x2="152.6" y2="390.5" stroke="#999" stroke-width="0.8"/>
<line x1="171.3" y1="371.3" x2="171.3" y2="392.3" stroke="#999" stroke-width="0.8"/>
<line x1="169.1" y1="371.3" x2="173.5" y2="371.3" stroke="#999" stroke-width="0.8"/>
<line x1="169.1" y1="392.3" x2="173.5" y2="392.3" stroke="#999" stroke-width="0.8"/>
<line x1="192" y1="320.5" x2="192" y2="361.2" stroke="#999" stroke-width="0.8"/>
<line x1="189.8" y1="320.5" x2="194.2" y2="320.5" stroke="#999" stroke-width="0.8"/>
<line x1="189.8" y1="361.2" x2="194.2" y2="361.2" stroke="#999" stroke-width="0.8"/>
<line x1="203.7" y1="281.2" x2="203.7" y2="326.3" stroke="#999" stroke-width="0.8"/>
<line x1="201.5" y1="281.2" x2="205.9" y2="281.2" stroke="#999" stroke-width="0.8"/>
<line x1="201.5" y1="326.3" x2="205.9" y2="326.3" stroke="#999" stroke-width="0.8"/>
<line x1="212.5" y1="288.2" x2="212.5" y2="332.5" stroke="#999" stroke-width="0.8"/>
<line x1="210.3" y1="288.2" x2="214.7" y2="288.2" stroke="#999" stroke-width="0.8"/>
<line x1="210.3" y1="332.5" x2="214.7" y2="332.5" stroke="#999" stroke-width="0.8"/>
<line x1="224.5" y1="266.2" x2="224.5" y2="317" stroke="#999" stroke-width="0.8"/>
<line x1="222.3" y1="266.2" x2="226.7" y2="266.2" stroke="#999" stroke-width="0.8"/>
<line x1="222.3" y1="317" x2="226.7" y2="317" stroke="#999" stroke-width="0.8"/>
<line x1="232.5" y1="286.8" x2="232.5" y2="327" stroke="#999" stroke-width="0.8"/>
<line x1="230.3" y1="286.8" x2="234.7" y2="286.8" stroke="#999" stroke-width="0.8"/>
<line x1="230.3" y1="327" x2="234.7" y2="327" stroke="#999" stroke-width="0.8"/>
<circle cx="82.6" cy="405.4" r="3.4" fill="#fff" stroke="#222" stroke-width="0.9"/>
<circle cx="123.4" cy="415.8" r="3.4" fill="#fff" stroke="#222" stroke-width="0.9"/>
<circle cx="150.4" cy="375.1" r="3.4" fill="#fff" stroke="#222" stroke-width="0.9"/>
<circle cx="171.3" cy="381.8" r="3.4" fill="#fff" stroke="#222" stroke-width="0.9"/>
<circle cx="192" cy="341.4" r="3.4" fill="#fff" stroke="#222" stroke-width="0.9"/>
<circle cx="203.7" cy="303.3" r="3.4" fill="#fff" stroke="#222" stroke-width="0.9"/>
<circle cx="212.5" cy="310.5" r="3.4" fill="#fff" stroke="#222" stroke-width="0.9"/>
<circle cx="224.5" cy="291.5" r="3.4" fill="#fff" stroke="#222" stroke-width="0.9"/>
<circle cx="232.5" cy="307" r="3.4" fill="#fff" stroke="#222" stroke-width="0.9"/>
<line x1="81.3" y1="414.4" x2="91.3" y2="413.8" stroke="#000" stroke-width="3.2"/>
<line x1="101.3" y1="413.6" x2="111.3" y2="412.4" stroke="#000" stroke-width="3.2"/>
<line x1="120.7" y1="410.7" x2="130.1" y2="409.2" stroke="#000" stroke-width="3.2"/>
<line x1="138.8" y1="406.7" x2="147.6" y2="403" stroke="#000" stroke-width="3.2"/>
<line x1="154.5" y1="398.4" x2="162" y2="392.5" stroke="#000" stroke-width="3.2"/>
<line x1="168.4" y1="384" x2="174.9" y2="377.2" stroke="#000" stroke-width="3.2"/>
<line x1="178.2" y1="367.4" x2="184.1" y2="358.5" stroke="#000" stroke-width="3.2"/>
<line x1="187.3" y1="348.7" x2="190.6" y2="339.9" stroke="#000" stroke-width="3.2"/>
<line x1="193.5" y1="329.1" x2="199.4" y2="319.3" stroke="#000" stroke-width="3.2"/>
<line x1="202.4" y1="311.5" x2="208.2" y2="304.6" stroke="#000" stroke-width="3.2"/>
<line x1="218" y1="298.3" x2="227.3" y2="296.2" stroke="#000" stroke-width="3.2"/>
<text x="72.2" y="388.8" font-size="11.6">(14)</text>
<text x="110.8" y="403.9" font-size="11.6">(13)</text>
<text x="121.9" y="373" font-size="11.6">(100)</text>
<text x="174.4" y="398" font-size="11.6">(42)</text>
<text x="188.1" y="412.8" font-size="11.6">(42)</text>
<text x="164.4" y="341.5" font-size="11.6">(26)</text>
<text x="184" y="287.5" font-size="11.6">(5)</text>
<text x="202.1" y="343.7" font-size="11.6">(11)</text>
<text x="224.8" y="277.2" font-size="11.6">(17)</text>
<text x="237.6" y="312.2" font-size="11.6">(7)</text>
<text x="290" y="254.4" font-size="16.5" font-weight="bold">C</text>
<text x="357.4" y="273.6" font-size="17">H<tspan font-size="12.5" dy="4">2</tspan><tspan dy="-4">O</tspan><tspan font-size="12.5" dy="4">2</tspan></text>
<rect x="357.1" y="282.8" width="165" height="7.1" fill="#999999"/>
<line x1="336.3" y1="287.2" x2="336.3" y2="438.3" stroke="#6a6a6a" stroke-width="1"/>
<line x1="335.8" y1="437.9" x2="521.8" y2="437.9" stroke="#6a6a6a" stroke-width="1"/>
<line x1="332.8" y1="427" x2="336.3" y2="427" stroke="#6a6a6a" stroke-width="1"/>
<text x="331.6" y="430.8" font-size="11.2" text-anchor="end">0.0</text>
<line x1="332.8" y1="380.5" x2="336.3" y2="380.5" stroke="#6a6a6a" stroke-width="1"/>
<text x="331.6" y="384.3" font-size="11.2" text-anchor="end">0.4</text>
<line x1="332.8" y1="334" x2="336.3" y2="334" stroke="#6a6a6a" stroke-width="1"/>
<text x="331.6" y="337.8" font-size="11.2" text-anchor="end">0.8</text>
<line x1="332.8" y1="287.5" x2="336.3" y2="287.5" stroke="#6a6a6a" stroke-width="1"/>
<text x="331.6" y="291.3" font-size="11.2" text-anchor="end">1.2</text>
<line x1="334.3" y1="403.75" x2="336.3" y2="403.75" stroke="#6a6a6a" stroke-width="1"/>
<line x1="334.3" y1="357.25" x2="336.3" y2="357.25" stroke="#6a6a6a" stroke-width="1"/>
<line x1="334.3" y1="310.75" x2="336.3" y2="310.75" stroke="#6a6a6a" stroke-width="1"/>
<line x1="334.3" y1="435.14" x2="336.3" y2="435.14" stroke="#6a6a6a" stroke-width="1"/>
<line x1="336.5" y1="437.8" x2="336.5" y2="441.2" stroke="#6a6a6a" stroke-width="1"/>
<text x="336.8" y="453.2" font-size="12" text-anchor="middle">0</text>
<line x1="398" y1="437.8" x2="398" y2="441.2" stroke="#6a6a6a" stroke-width="1"/>
<text x="398.3" y="453.2" font-size="12" text-anchor="middle">100</text>
<line x1="459.5" y1="437.8" x2="459.5" y2="441.2" stroke="#6a6a6a" stroke-width="1"/>
<text x="459.8" y="453.2" font-size="12" text-anchor="middle">200</text>
<line x1="521" y1="437.8" x2="521" y2="441.2" stroke="#6a6a6a" stroke-width="1"/>
<text x="521.3" y="453.2" font-size="12" text-anchor="middle">300</text>
<line x1="367.25" y1="437.8" x2="367.25" y2="439.8" stroke="#6a6a6a" stroke-width="1"/>
<line x1="428.75" y1="437.8" x2="428.75" y2="439.8" stroke="#6a6a6a" stroke-width="1"/>
<line x1="490.25" y1="437.8" x2="490.25" y2="439.8" stroke="#6a6a6a" stroke-width="1"/>
<text x="470" y="471.6" font-size="18.2">Time, s</text>
<text x="307" y="440.6" font-size="18.3" transform="rotate(-90 307 440.6)">Fluo4/FuraRed, a.u.</text>
<text x="504.5" y="410.9" font-size="11.2">(8)</text>
<text x="511" y="317.8" font-size="11.6">(7)</text>
<line x1="373.89" y1="421.63" x2="373.89" y2="415.55" stroke="#999" stroke-width="0.7"/>
<line x1="372.29" y1="415.55" x2="375.49" y2="415.55" stroke="#999" stroke-width="0.7"/>
<line x1="375.86" y1="419.48" x2="375.86" y2="409.47" stroke="#999" stroke-width="0.7"/>
<line x1="374.26" y1="409.47" x2="377.46" y2="409.47" stroke="#999" stroke-width="0.7"/>
<line x1="377.83" y1="414.1" x2="377.83" y2="404.14" stroke="#999" stroke-width="0.7"/>
<line x1="376.23" y1="404.14" x2="379.43" y2="404.14" stroke="#999" stroke-width="0.7"/>
<line x1="379.8" y1="407.05" x2="379.8" y2="399.98" stroke="#999" stroke-width="0.7"/>
<line x1="378.2" y1="399.98" x2="381.4" y2="399.98" stroke="#999" stroke-width="0.7"/>
<line x1="381.76" y1="400.17" x2="381.76" y2="393.03" stroke="#999" stroke-width="0.7"/>
<line x1="380.16" y1="393.03" x2="383.36" y2="393.03" stroke="#999" stroke-width="0.7"/>
<line x1="383.73" y1="392.77" x2="383.73" y2="379.71" stroke="#999" stroke-width="0.7"/>
<line x1="382.13" y1="379.71" x2="385.33" y2="379.71" stroke="#999" stroke-width="0.7"/>
<line x1="385.7" y1="389.56" x2="385.7" y2="373.7" stroke="#999" stroke-width="0.7"/>
<line x1="384.1" y1="373.7" x2="387.3" y2="373.7" stroke="#999" stroke-width="0.7"/>
<line x1="387.67" y1="390.76" x2="387.67" y2="377.29" stroke="#999" stroke-width="0.7"/>
<line x1="386.07" y1="377.29" x2="389.27" y2="377.29" stroke="#999" stroke-width="0.7"/>
<line x1="389.64" y1="392.42" x2="389.64" y2="381.24" stroke="#999" stroke-width="0.7"/>
<line x1="388.04" y1="381.24" x2="391.24" y2="381.24" stroke="#999" stroke-width="0.7"/>
<line x1="391.6" y1="394.21" x2="391.6" y2="379.38" stroke="#999" stroke-width="0.7"/>
<line x1="390" y1="379.38" x2="393.2" y2="379.38" stroke="#999" stroke-width="0.7"/>
<line x1="393.57" y1="398.85" x2="393.57" y2="391.52" stroke="#999" stroke-width="0.7"/>
<line x1="391.97" y1="391.52" x2="395.17" y2="391.52" stroke="#999" stroke-width="0.7"/>
<line x1="395.54" y1="401.29" x2="395.54" y2="388.26" stroke="#999" stroke-width="0.7"/>
<line x1="393.94" y1="388.26" x2="397.14" y2="388.26" stroke="#999" stroke-width="0.7"/>
<line x1="397.51" y1="405.84" x2="397.51" y2="392.23" stroke="#999" stroke-width="0.7"/>
<line x1="395.91" y1="392.23" x2="399.11" y2="392.23" stroke="#999" stroke-width="0.7"/>
<line x1="399.48" y1="408.32" x2="399.48" y2="402.01" stroke="#999" stroke-width="0.7"/>
<line x1="397.88" y1="402.01" x2="401.08" y2="402.01" stroke="#999" stroke-width="0.7"/>
<line x1="401.44" y1="410.23" x2="401.44" y2="398.64" stroke="#999" stroke-width="0.7"/>
<line x1="399.84" y1="398.64" x2="403.04" y2="398.64" stroke="#999" stroke-width="0.7"/>
<line x1="403.41" y1="410.78" x2="403.41" y2="400.2" stroke="#999" stroke-width="0.7"/>
<line x1="401.81" y1="400.2" x2="405.01" y2="400.2" stroke="#999" stroke-width="0.7"/>
<line x1="405.38" y1="410.35" x2="405.38" y2="397.17" stroke="#999" stroke-width="0.7"/>
<line x1="403.78" y1="397.17" x2="406.98" y2="397.17" stroke="#999" stroke-width="0.7"/>
<line x1="407.35" y1="409.76" x2="407.35" y2="398.43" stroke="#999" stroke-width="0.7"/>
<line x1="405.75" y1="398.43" x2="408.95" y2="398.43" stroke="#999" stroke-width="0.7"/>
<line x1="409.32" y1="407.44" x2="409.32" y2="397.06" stroke="#999" stroke-width="0.7"/>
<line x1="407.72" y1="397.06" x2="410.92" y2="397.06" stroke="#999" stroke-width="0.7"/>
<line x1="411.28" y1="405.3" x2="411.28" y2="393.68" stroke="#999" stroke-width="0.7"/>
<line x1="409.68" y1="393.68" x2="412.88" y2="393.68" stroke="#999" stroke-width="0.7"/>
<line x1="413.25" y1="399.18" x2="413.25" y2="390.09" stroke="#999" stroke-width="0.7"/>
<line x1="411.65" y1="390.09" x2="414.85" y2="390.09" stroke="#999" stroke-width="0.7"/>
<line x1="415.4" y1="399.3" x2="415.4" y2="387.74" stroke="#999" stroke-width="0.7"/>
<line x1="413.8" y1="387.74" x2="417" y2="387.74" stroke="#999" stroke-width="0.7"/>
<line x1="422.7" y1="396.6" x2="422.7" y2="384" stroke="#999" stroke-width="0.7"/>
<line x1="421.1" y1="384" x2="424.3" y2="384" stroke="#999" stroke-width="0.7"/>
<line x1="425.4" y1="386.4" x2="425.4" y2="369.88" stroke="#999" stroke-width="0.7"/>
<line x1="423.8" y1="369.88" x2="427" y2="369.88" stroke="#999" stroke-width="0.7"/>
<line x1="429.5" y1="384.1" x2="429.5" y2="360.93" stroke="#999" stroke-width="0.7"/>
<line x1="427.9" y1="360.93" x2="431.1" y2="360.93" stroke="#999" stroke-width="0.7"/>
<line x1="432.9" y1="379.6" x2="432.9" y2="358.35" stroke="#999" stroke-width="0.7"/>
<line x1="431.3" y1="358.35" x2="434.5" y2="358.35" stroke="#999" stroke-width="0.7"/>
<line x1="435.1" y1="376.2" x2="435.1" y2="352.43" stroke="#999" stroke-width="0.7"/>
<line x1="433.5" y1="352.43" x2="436.7" y2="352.43" stroke="#999" stroke-width="0.7"/>
<line x1="437.4" y1="373.4" x2="437.4" y2="361.03" stroke="#999" stroke-width="0.7"/>
<line x1="435.8" y1="361.03" x2="439" y2="361.03" stroke="#999" stroke-width="0.7"/>
<line x1="440.4" y1="371.2" x2="440.4" y2="353.9" stroke="#999" stroke-width="0.7"/>
<line x1="438.8" y1="353.9" x2="442" y2="353.9" stroke="#999" stroke-width="0.7"/>
<line x1="442.6" y1="368.2" x2="442.6" y2="344.96" stroke="#999" stroke-width="0.7"/>
<line x1="441" y1="344.96" x2="444.2" y2="344.96" stroke="#999" stroke-width="0.7"/>
<line x1="444.9" y1="363.7" x2="444.9" y2="344.61" stroke="#999" stroke-width="0.7"/>
<line x1="443.3" y1="344.61" x2="446.5" y2="344.61" stroke="#999" stroke-width="0.7"/>
<line x1="447.2" y1="345.6" x2="447.2" y2="323.55" stroke="#999" stroke-width="0.7"/>
<line x1="445.6" y1="323.55" x2="448.8" y2="323.55" stroke="#999" stroke-width="0.7"/>
<line x1="449.4" y1="359.8" x2="449.4" y2="336.21" stroke="#999" stroke-width="0.7"/>
<line x1="447.8" y1="336.21" x2="451" y2="336.21" stroke="#999" stroke-width="0.7"/>
<line x1="451.7" y1="353" x2="451.7" y2="340.4" stroke="#999" stroke-width="0.7"/>
<line x1="450.1" y1="340.4" x2="453.3" y2="340.4" stroke="#999" stroke-width="0.7"/>
<line x1="454.4" y1="356.9" x2="454.4" y2="343.5" stroke="#999" stroke-width="0.7"/>
<line x1="452.8" y1="343.5" x2="456" y2="343.5" stroke="#999" stroke-width="0.7"/>
<line x1="457.1" y1="354.6" x2="457.1" y2="332.37" stroke="#999" stroke-width="0.7"/>
<line x1="455.5" y1="332.37" x2="458.7" y2="332.37" stroke="#999" stroke-width="0.7"/>
<line x1="459.4" y1="344" x2="459.4" y2="321.31" stroke="#999" stroke-width="0.7"/>
<line x1="457.8" y1="321.31" x2="461" y2="321.31" stroke="#999" stroke-width="0.7"/>
<line x1="461.7" y1="349.4" x2="461.7" y2="328.78" stroke="#999" stroke-width="0.7"/>
<line x1="460.1" y1="328.78" x2="463.3" y2="328.78" stroke="#999" stroke-width="0.7"/>
<line x1="464.6" y1="349" x2="464.6" y2="334.14" stroke="#999" stroke-width="0.7"/>
<line x1="463" y1="334.14" x2="466.2" y2="334.14" stroke="#999" stroke-width="0.7"/>
<line x1="466.4" y1="333.1" x2="466.4" y2="316.61" stroke="#999" stroke-width="0.7"/>
<line x1="464.8" y1="316.61" x2="468" y2="316.61" stroke="#999" stroke-width="0.7"/>
<line x1="469.2" y1="337.2" x2="469.2" y2="318.65" stroke="#999" stroke-width="0.7"/>
<line x1="467.6" y1="318.65" x2="470.8" y2="318.65" stroke="#999" stroke-width="0.7"/>
<line x1="471.4" y1="353.9" x2="471.4" y2="336.95" stroke="#999" stroke-width="0.7"/>
<line x1="469.8" y1="336.95" x2="473" y2="336.95" stroke="#999" stroke-width="0.7"/>
<line x1="474.4" y1="328.5" x2="474.4" y2="311.81" stroke="#999" stroke-width="0.7"/>
<line x1="472.8" y1="311.81" x2="476" y2="311.81" stroke="#999" stroke-width="0.7"/>
<line x1="476.6" y1="345.6" x2="476.6" y2="329.5" stroke="#999" stroke-width="0.7"/>
<line x1="475" y1="329.5" x2="478.2" y2="329.5" stroke="#999" stroke-width="0.7"/>
<line x1="478.9" y1="343.3" x2="478.9" y2="321.11" stroke="#999" stroke-width="0.7"/>
<line x1="477.3" y1="321.11" x2="480.5" y2="321.11" stroke="#999" stroke-width="0.7"/>
<line x1="481.6" y1="318.3" x2="481.6" y2="305.68" stroke="#999" stroke-width="0.7"/>
<line x1="480" y1="305.68" x2="483.2" y2="305.68" stroke="#999" stroke-width="0.7"/>
<line x1="483.9" y1="344.4" x2="483.9" y2="324.77" stroke="#999" stroke-width="0.7"/>
<line x1="482.3" y1="324.77" x2="485.5" y2="324.77" stroke="#999" stroke-width="0.7"/>
<line x1="486.6" y1="341" x2="486.6" y2="321.15" stroke="#999" stroke-width="0.7"/>
<line x1="485" y1="321.15" x2="488.2" y2="321.15" stroke="#999" stroke-width="0.7"/>
<line x1="488.9" y1="338.8" x2="488.9" y2="315.85" stroke="#999" stroke-width="0.7"/>
<line x1="487.3" y1="315.85" x2="490.5" y2="315.85" stroke="#999" stroke-width="0.7"/>
<line x1="491.2" y1="350.8" x2="491.2" y2="340.25" stroke="#999" stroke-width="0.7"/>
<line x1="489.6" y1="340.25" x2="492.8" y2="340.25" stroke="#999" stroke-width="0.7"/>
<line x1="493.7" y1="333.1" x2="493.7" y2="314.04" stroke="#999" stroke-width="0.7"/>
<line x1="492.1" y1="314.04" x2="495.3" y2="314.04" stroke="#999" stroke-width="0.7"/>
<line x1="496.4" y1="318.3" x2="496.4" y2="299.37" stroke="#999" stroke-width="0.7"/>
<line x1="494.8" y1="299.37" x2="498" y2="299.37" stroke="#999" stroke-width="0.7"/>
<line x1="499.1" y1="334.9" x2="499.1" y2="318.44" stroke="#999" stroke-width="0.7"/>
<line x1="497.5" y1="318.44" x2="500.7" y2="318.44" stroke="#999" stroke-width="0.7"/>
<line x1="501.4" y1="342.6" x2="501.4" y2="331.86" stroke="#999" stroke-width="0.7"/>
<line x1="499.8" y1="331.86" x2="503" y2="331.86" stroke="#999" stroke-width="0.7"/>
<line x1="504.3" y1="348.5" x2="504.3" y2="337.96" stroke="#999" stroke-width="0.7"/>
<line x1="502.7" y1="337.96" x2="505.9" y2="337.96" stroke="#999" stroke-width="0.7"/>
<line x1="506.6" y1="348.5" x2="506.6" y2="336.13" stroke="#999" stroke-width="0.7"/>
<line x1="505" y1="336.13" x2="508.2" y2="336.13" stroke="#999" stroke-width="0.7"/>
<line x1="509.3" y1="349.4" x2="509.3" y2="328.28" stroke="#999" stroke-width="0.7"/>
<line x1="507.7" y1="328.28" x2="510.9" y2="328.28" stroke="#999" stroke-width="0.7"/>
<line x1="511.1" y1="344.9" x2="511.1" y2="332.62" stroke="#999" stroke-width="0.7"/>
<line x1="509.5" y1="332.62" x2="512.7" y2="332.62" stroke="#999" stroke-width="0.7"/>
<line x1="513.4" y1="355.3" x2="513.4" y2="343.36" stroke="#999" stroke-width="0.7"/>
<line x1="511.8" y1="343.36" x2="515" y2="343.36" stroke="#999" stroke-width="0.7"/>
<line x1="516.1" y1="351.2" x2="516.1" y2="336.26" stroke="#999" stroke-width="0.7"/>
<line x1="514.5" y1="336.26" x2="517.7" y2="336.26" stroke="#999" stroke-width="0.7"/>
<line x1="518.4" y1="339.9" x2="518.4" y2="323.12" stroke="#999" stroke-width="0.7"/>
<line x1="516.8" y1="323.12" x2="520" y2="323.12" stroke="#999" stroke-width="0.7"/>
<line x1="521.3" y1="346.2" x2="521.3" y2="326.43" stroke="#999" stroke-width="0.7"/>
<line x1="519.7" y1="326.43" x2="522.9" y2="326.43" stroke="#999" stroke-width="0.7"/>
<line x1="373.03" y1="425.32" x2="373.03" y2="410.91" stroke="#999" stroke-width="0.7"/>
<line x1="371.43" y1="410.91" x2="374.63" y2="410.91" stroke="#999" stroke-width="0.7"/>
<line x1="375.06" y1="426.68" x2="375.06" y2="416.55" stroke="#999" stroke-width="0.7"/>
<line x1="373.46" y1="416.55" x2="376.66" y2="416.55" stroke="#999" stroke-width="0.7"/>
<line x1="377.09" y1="428.11" x2="377.09" y2="412.84" stroke="#999" stroke-width="0.7"/>
<line x1="375.49" y1="412.84" x2="378.69" y2="412.84" stroke="#999" stroke-width="0.7"/>
<line x1="379.12" y1="388.27" x2="379.12" y2="380.09" stroke="#999" stroke-width="0.7"/>
<line x1="377.52" y1="380.09" x2="380.72" y2="380.09" stroke="#999" stroke-width="0.7"/>
<line x1="381.15" y1="392.08" x2="381.15" y2="381.07" stroke="#999" stroke-width="0.7"/>
<line x1="379.55" y1="381.07" x2="382.75" y2="381.07" stroke="#999" stroke-width="0.7"/>
<line x1="383.18" y1="397.16" x2="383.18" y2="387.57" stroke="#999" stroke-width="0.7"/>
<line x1="381.58" y1="387.57" x2="384.78" y2="387.57" stroke="#999" stroke-width="0.7"/>
<line x1="385.21" y1="399.37" x2="385.21" y2="388.63" stroke="#999" stroke-width="0.7"/>
<line x1="383.61" y1="388.63" x2="386.81" y2="388.63" stroke="#999" stroke-width="0.7"/>
<line x1="387.24" y1="402.32" x2="387.24" y2="390.76" stroke="#999" stroke-width="0.7"/>
<line x1="385.64" y1="390.76" x2="388.84" y2="390.76" stroke="#999" stroke-width="0.7"/>
<line x1="389.27" y1="402.97" x2="389.27" y2="390.99" stroke="#999" stroke-width="0.7"/>
<line x1="387.67" y1="390.99" x2="390.87" y2="390.99" stroke="#999" stroke-width="0.7"/>
<line x1="391.3" y1="407.42" x2="391.3" y2="396.11" stroke="#999" stroke-width="0.7"/>
<line x1="389.7" y1="396.11" x2="392.9" y2="396.11" stroke="#999" stroke-width="0.7"/>
<line x1="393.33" y1="414.75" x2="393.33" y2="405.04" stroke="#999" stroke-width="0.7"/>
<line x1="391.73" y1="405.04" x2="394.93" y2="405.04" stroke="#999" stroke-width="0.7"/>
<line x1="395.36" y1="414.04" x2="395.36" y2="404.31" stroke="#999" stroke-width="0.7"/>
<line x1="393.76" y1="404.31" x2="396.96" y2="404.31" stroke="#999" stroke-width="0.7"/>
<line x1="397.38" y1="420.15" x2="397.38" y2="410.29" stroke="#999" stroke-width="0.7"/>
<line x1="395.78" y1="410.29" x2="398.99" y2="410.29" stroke="#999" stroke-width="0.7"/>
<line x1="399.41" y1="416.26" x2="399.41" y2="402.43" stroke="#999" stroke-width="0.7"/>
<line x1="397.81" y1="402.43" x2="401.01" y2="402.43" stroke="#999" stroke-width="0.7"/>
<circle cx="336.5" cy="426.08" r="2.9" fill="#fff" stroke="#222" stroke-width="0.85"/>
<circle cx="338.47" cy="427.69" r="2.9" fill="#fff" stroke="#222" stroke-width="0.85"/>
<circle cx="340.44" cy="421.91" r="2.9" fill="#fff" stroke="#222" stroke-width="0.85"/>
<circle cx="342.4" cy="427.53" r="2.9" fill="#fff" stroke="#222" stroke-width="0.85"/>
<circle cx="344.37" cy="426.77" r="2.9" fill="#fff" stroke="#222" stroke-width="0.85"/>
<circle cx="346.34" cy="423.69" r="2.9" fill="#fff" stroke="#222" stroke-width="0.85"/>
<circle cx="348.31" cy="428.9" r="2.9" fill="#fff" stroke="#222" stroke-width="0.85"/>
<circle cx="350.28" cy="428.24" r="2.9" fill="#fff" stroke="#222" stroke-width="0.85"/>
<circle cx="352.24" cy="426.61" r="2.9" fill="#fff" stroke="#222" stroke-width="0.85"/>
<circle cx="354.21" cy="427.69" r="2.9" fill="#fff" stroke="#222" stroke-width="0.85"/>
<circle cx="356.18" cy="429.5" r="2.9" fill="#fff" stroke="#222" stroke-width="0.85"/>
<circle cx="358.15" cy="427.43" r="2.9" fill="#fff" stroke="#222" stroke-width="0.85"/>
<circle cx="360.12" cy="427.75" r="2.9" fill="#fff" stroke="#222" stroke-width="0.85"/>
<circle cx="362.08" cy="425.74" r="2.9" fill="#fff" stroke="#222" stroke-width="0.85"/>
<circle cx="364.05" cy="430.48" r="2.9" fill="#fff" stroke="#222" stroke-width="0.85"/>
<circle cx="366.02" cy="428.47" r="2.9" fill="#fff" stroke="#222" stroke-width="0.85"/>
<circle cx="367.99" cy="424.59" r="2.9" fill="#fff" stroke="#222" stroke-width="0.85"/>
<circle cx="369.96" cy="423.11" r="2.9" fill="#fff" stroke="#222" stroke-width="0.85"/>
<circle cx="371.92" cy="430.16" r="2.9" fill="#fff" stroke="#222" stroke-width="0.85"/>
<circle cx="373.89" cy="421.63" r="2.9" fill="#fff" stroke="#222" stroke-width="0.85"/>
<circle cx="375.86" cy="419.48" r="2.9" fill="#fff" stroke="#222" stroke-width="0.85"/>
<circle cx="377.83" cy="414.1" r="2.9" fill="#fff" stroke="#222" stroke-width="0.85"/>
<circle cx="379.8" cy="407.05" r="2.9" fill="#fff" stroke="#222" stroke-width="0.85"/>
<circle cx="381.76" cy="400.17" r="2.9" fill="#fff" stroke="#222" stroke-width="0.85"/>
<circle cx="383.73" cy="392.77" r="2.9" fill="#fff" stroke="#222" stroke-width="0.85"/>
<circle cx="385.7" cy="389.56" r="2.9" fill="#fff" stroke="#222" stroke-width="0.85"/>
<circle cx="387.67" cy="390.76" r="2.9" fill="#fff" stroke="#222" stroke-width="0.85"/>
<circle cx="389.64" cy="392.42" r="2.9" fill="#fff" stroke="#222" stroke-width="0.85"/>
<circle cx="391.6" cy="394.21" r="2.9" fill="#fff" stroke="#222" stroke-width="0.85"/>
<circle cx="393.57" cy="398.85" r="2.9" fill="#fff" stroke="#222" stroke-width="0.85"/>
<circle cx="395.54" cy="401.29" r="2.9" fill="#fff" stroke="#222" stroke-width="0.85"/>
<circle cx="397.51" cy="405.84" r="2.9" fill="#fff" stroke="#222" stroke-width="0.85"/>
<circle cx="399.48" cy="408.32" r="2.9" fill="#fff" stroke="#222" stroke-width="0.85"/>
<circle cx="401.44" cy="410.23" r="2.9" fill="#fff" stroke="#222" stroke-width="0.85"/>
<circle cx="403.41" cy="410.78" r="2.9" fill="#fff" stroke="#222" stroke-width="0.85"/>
<circle cx="405.38" cy="410.35" r="2.9" fill="#fff" stroke="#222" stroke-width="0.85"/>
<circle cx="407.35" cy="409.76" r="2.9" fill="#fff" stroke="#222" stroke-width="0.85"/>
<circle cx="409.32" cy="407.44" r="2.9" fill="#fff" stroke="#222" stroke-width="0.85"/>
<circle cx="411.28" cy="405.3" r="2.9" fill="#fff" stroke="#222" stroke-width="0.85"/>
<circle cx="413.25" cy="399.18" r="2.9" fill="#fff" stroke="#222" stroke-width="0.85"/>
<circle cx="415.4" cy="399.3" r="2.9" fill="#fff" stroke="#222" stroke-width="0.85"/>
<circle cx="422.7" cy="396.6" r="2.9" fill="#fff" stroke="#222" stroke-width="0.85"/>
<circle cx="425.4" cy="386.4" r="2.9" fill="#fff" stroke="#222" stroke-width="0.85"/>
<circle cx="429.5" cy="384.1" r="2.9" fill="#fff" stroke="#222" stroke-width="0.85"/>
<circle cx="432.9" cy="379.6" r="2.9" fill="#fff" stroke="#222" stroke-width="0.85"/>
<circle cx="435.1" cy="376.2" r="2.9" fill="#fff" stroke="#222" stroke-width="0.85"/>
<circle cx="437.4" cy="373.4" r="2.9" fill="#fff" stroke="#222" stroke-width="0.85"/>
<circle cx="440.4" cy="371.2" r="2.9" fill="#fff" stroke="#222" stroke-width="0.85"/>
<circle cx="442.6" cy="368.2" r="2.9" fill="#fff" stroke="#222" stroke-width="0.85"/>
<circle cx="444.9" cy="363.7" r="2.9" fill="#fff" stroke="#222" stroke-width="0.85"/>
<circle cx="447.2" cy="345.6" r="2.9" fill="#fff" stroke="#222" stroke-width="0.85"/>
<circle cx="449.4" cy="359.8" r="2.9" fill="#fff" stroke="#222" stroke-width="0.85"/>
<circle cx="451.7" cy="353" r="2.9" fill="#fff" stroke="#222" stroke-width="0.85"/>
<circle cx="454.4" cy="356.9" r="2.9" fill="#fff" stroke="#222" stroke-width="0.85"/>
<circle cx="457.1" cy="354.6" r="2.9" fill="#fff" stroke="#222" stroke-width="0.85"/>
<circle cx="459.4" cy="344" r="2.9" fill="#fff" stroke="#222" stroke-width="0.85"/>
<circle cx="461.7" cy="349.4" r="2.9" fill="#fff" stroke="#222" stroke-width="0.85"/>
<circle cx="464.6" cy="349" r="2.9" fill="#fff" stroke="#222" stroke-width="0.85"/>
<circle cx="466.4" cy="333.1" r="2.9" fill="#fff" stroke="#222" stroke-width="0.85"/>
<circle cx="469.2" cy="337.2" r="2.9" fill="#fff" stroke="#222" stroke-width="0.85"/>
<circle cx="471.4" cy="353.9" r="2.9" fill="#fff" stroke="#222" stroke-width="0.85"/>
<circle cx="474.4" cy="328.5" r="2.9" fill="#fff" stroke="#222" stroke-width="0.85"/>
<circle cx="476.6" cy="345.6" r="2.9" fill="#fff" stroke="#222" stroke-width="0.85"/>
<circle cx="478.9" cy="343.3" r="2.9" fill="#fff" stroke="#222" stroke-width="0.85"/>
<circle cx="481.6" cy="318.3" r="2.9" fill="#fff" stroke="#222" stroke-width="0.85"/>
<circle cx="483.9" cy="344.4" r="2.9" fill="#fff" stroke="#222" stroke-width="0.85"/>
<circle cx="486.6" cy="341" r="2.9" fill="#fff" stroke="#222" stroke-width="0.85"/>
<circle cx="488.9" cy="338.8" r="2.9" fill="#fff" stroke="#222" stroke-width="0.85"/>
<circle cx="491.2" cy="350.8" r="2.9" fill="#fff" stroke="#222" stroke-width="0.85"/>
<circle cx="493.7" cy="333.1" r="2.9" fill="#fff" stroke="#222" stroke-width="0.85"/>
<circle cx="496.4" cy="318.3" r="2.9" fill="#fff" stroke="#222" stroke-width="0.85"/>
<circle cx="499.1" cy="334.9" r="2.9" fill="#fff" stroke="#222" stroke-width="0.85"/>
<circle cx="501.4" cy="342.6" r="2.9" fill="#fff" stroke="#222" stroke-width="0.85"/>
<circle cx="504.3" cy="348.5" r="2.9" fill="#fff" stroke="#222" stroke-width="0.85"/>
<circle cx="506.6" cy="348.5" r="2.9" fill="#fff" stroke="#222" stroke-width="0.85"/>
<circle cx="509.3" cy="349.4" r="2.9" fill="#fff" stroke="#222" stroke-width="0.85"/>
<circle cx="511.1" cy="344.9" r="2.9" fill="#fff" stroke="#222" stroke-width="0.85"/>
<circle cx="513.4" cy="355.3" r="2.9" fill="#fff" stroke="#222" stroke-width="0.85"/>
<circle cx="516.1" cy="351.2" r="2.9" fill="#fff" stroke="#222" stroke-width="0.85"/>
<circle cx="518.4" cy="339.9" r="2.9" fill="#fff" stroke="#222" stroke-width="0.85"/>
<circle cx="521.3" cy="346.2" r="2.9" fill="#fff" stroke="#222" stroke-width="0.85"/>
<circle cx="336.5" cy="427.78" r="2.9" fill="#000" stroke="#000" stroke-width="0.3"/>
<circle cx="338.53" cy="428.22" r="2.9" fill="#000" stroke="#000" stroke-width="0.3"/>
<circle cx="340.56" cy="426.74" r="2.9" fill="#000" stroke="#000" stroke-width="0.3"/>
<circle cx="342.59" cy="426.09" r="2.9" fill="#000" stroke="#000" stroke-width="0.3"/>
<circle cx="344.62" cy="426.31" r="2.9" fill="#000" stroke="#000" stroke-width="0.3"/>
<circle cx="346.65" cy="423.7" r="2.9" fill="#000" stroke="#000" stroke-width="0.3"/>
<circle cx="348.68" cy="424.09" r="2.9" fill="#000" stroke="#000" stroke-width="0.3"/>
<circle cx="350.71" cy="425.74" r="2.9" fill="#000" stroke="#000" stroke-width="0.3"/>
<circle cx="352.74" cy="427.86" r="2.9" fill="#000" stroke="#000" stroke-width="0.3"/>
<circle cx="354.77" cy="427.26" r="2.9" fill="#000" stroke="#000" stroke-width="0.3"/>
<circle cx="356.8" cy="423.39" r="2.9" fill="#000" stroke="#000" stroke-width="0.3"/>
<circle cx="358.82" cy="426.43" r="2.9" fill="#000" stroke="#000" stroke-width="0.3"/>
<circle cx="360.85" cy="430.35" r="2.9" fill="#000" stroke="#000" stroke-width="0.3"/>
<circle cx="362.88" cy="428.76" r="2.9" fill="#000" stroke="#000" stroke-width="0.3"/>
<circle cx="364.91" cy="428.48" r="2.9" fill="#000" stroke="#000" stroke-width="0.3"/>
<circle cx="366.94" cy="424.05" r="2.9" fill="#000" stroke="#000" stroke-width="0.3"/>
<circle cx="368.97" cy="427.27" r="2.9" fill="#000" stroke="#000" stroke-width="0.3"/>
<circle cx="371" cy="421.22" r="2.9" fill="#000" stroke="#000" stroke-width="0.3"/>
<circle cx="373.03" cy="425.32" r="2.9" fill="#000" stroke="#000" stroke-width="0.3"/>
<circle cx="375.06" cy="426.68" r="2.9" fill="#000" stroke="#000" stroke-width="0.3"/>
<circle cx="377.09" cy="428.11" r="2.9" fill="#000" stroke="#000" stroke-width="0.3"/>
<circle cx="379.12" cy="388.27" r="2.9" fill="#000" stroke="#000" stroke-width="0.3"/>
<circle cx="381.15" cy="392.08" r="2.9" fill="#000" stroke="#000" stroke-width="0.3"/>
<circle cx="383.18" cy="397.16" r="2.9" fill="#000" stroke="#000" stroke-width="0.3"/>
<circle cx="385.21" cy="399.37" r="2.9" fill="#000" stroke="#000" stroke-width="0.3"/>
<circle cx="387.24" cy="402.32" r="2.9" fill="#000" stroke="#000" stroke-width="0.3"/>
<circle cx="389.27" cy="402.97" r="2.9" fill="#000" stroke="#000" stroke-width="0.3"/>
<circle cx="391.3" cy="407.42" r="2.9" fill="#000" stroke="#000" stroke-width="0.3"/>
<circle cx="393.33" cy="414.75" r="2.9" fill="#000" stroke="#000" stroke-width="0.3"/>
<circle cx="395.36" cy="414.04" r="2.9" fill="#000" stroke="#000" stroke-width="0.3"/>
<circle cx="397.38" cy="420.15" r="2.9" fill="#000" stroke="#000" stroke-width="0.3"/>
<circle cx="399.41" cy="416.26" r="2.9" fill="#000" stroke="#000" stroke-width="0.3"/>
<circle cx="401.44" cy="416.85" r="2.9" fill="#000" stroke="#000" stroke-width="0.3"/>
<circle cx="403.47" cy="421.09" r="2.9" fill="#000" stroke="#000" stroke-width="0.3"/>
<circle cx="405.5" cy="423.04" r="2.9" fill="#000" stroke="#000" stroke-width="0.3"/>
<circle cx="407.53" cy="424.01" r="2.9" fill="#000" stroke="#000" stroke-width="0.3"/>
<circle cx="409.56" cy="421.48" r="2.9" fill="#000" stroke="#000" stroke-width="0.3"/>
<circle cx="411.59" cy="423.82" r="2.9" fill="#000" stroke="#000" stroke-width="0.3"/>
<circle cx="413.62" cy="425.34" r="2.9" fill="#000" stroke="#000" stroke-width="0.3"/>
<circle cx="415.65" cy="425.8" r="2.9" fill="#000" stroke="#000" stroke-width="0.3"/>
<circle cx="417.68" cy="423.26" r="2.9" fill="#000" stroke="#000" stroke-width="0.3"/>
<circle cx="419.71" cy="426.23" r="2.9" fill="#000" stroke="#000" stroke-width="0.3"/>
<circle cx="421.74" cy="425.89" r="2.9" fill="#000" stroke="#000" stroke-width="0.3"/>
<circle cx="423.77" cy="425.7" r="2.9" fill="#000" stroke="#000" stroke-width="0.3"/>
<circle cx="425.8" cy="425.21" r="2.9" fill="#000" stroke="#000" stroke-width="0.3"/>
<circle cx="427.83" cy="425.01" r="2.9" fill="#000" stroke="#000" stroke-width="0.3"/>
<circle cx="429.86" cy="427.43" r="2.9" fill="#000" stroke="#000" stroke-width="0.3"/>
<circle cx="431.89" cy="426.78" r="2.9" fill="#000" stroke="#000" stroke-width="0.3"/>
<circle cx="433.92" cy="427.58" r="2.9" fill="#000" stroke="#000" stroke-width="0.3"/>
<circle cx="435.95" cy="427.55" r="2.9" fill="#000" stroke="#000" stroke-width="0.3"/>
<circle cx="437.98" cy="425" r="2.9" fill="#000" stroke="#000" stroke-width="0.3"/>
<circle cx="440" cy="427.33" r="2.9" fill="#000" stroke="#000" stroke-width="0.3"/>
<circle cx="442.03" cy="426.78" r="2.9" fill="#000" stroke="#000" stroke-width="0.3"/>
<circle cx="444.06" cy="427.67" r="2.9" fill="#000" stroke="#000" stroke-width="0.3"/>
<circle cx="446.09" cy="427.57" r="2.9" fill="#000" stroke="#000" stroke-width="0.3"/>
<circle cx="448.12" cy="425.69" r="2.9" fill="#000" stroke="#000" stroke-width="0.3"/>
<circle cx="450.15" cy="427.44" r="2.9" fill="#000" stroke="#000" stroke-width="0.3"/>
<circle cx="452.18" cy="427.53" r="2.9" fill="#000" stroke="#000" stroke-width="0.3"/>
<circle cx="454.21" cy="426.21" r="2.9" fill="#000" stroke="#000" stroke-width="0.3"/>
<circle cx="456.24" cy="426.24" r="2.9" fill="#000" stroke="#000" stroke-width="0.3"/>
<circle cx="458.27" cy="425.87" r="2.9" fill="#000" stroke="#000" stroke-width="0.3"/>
<circle cx="460.3" cy="426.72" r="2.9" fill="#000" stroke="#000" stroke-width="0.3"/>
<circle cx="462.33" cy="429.31" r="2.9" fill="#000" stroke="#000" stroke-width="0.3"/>
<circle cx="464.36" cy="425.89" r="2.9" fill="#000" stroke="#000" stroke-width="0.3"/>
<circle cx="466.39" cy="425.98" r="2.9" fill="#000" stroke="#000" stroke-width="0.3"/>
<circle cx="468.42" cy="425.16" r="2.9" fill="#000" stroke="#000" stroke-width="0.3"/>
<circle cx="470.45" cy="427.66" r="2.9" fill="#000" stroke="#000" stroke-width="0.3"/>
<circle cx="472.48" cy="422.87" r="2.9" fill="#000" stroke="#000" stroke-width="0.3"/>
<circle cx="474.51" cy="428.01" r="2.9" fill="#000" stroke="#000" stroke-width="0.3"/>
<circle cx="476.54" cy="425.18" r="2.9" fill="#000" stroke="#000" stroke-width="0.3"/>
<circle cx="478.57" cy="426.03" r="2.9" fill="#000" stroke="#000" stroke-width="0.3"/>
<circle cx="480.59" cy="426.68" r="2.9" fill="#000" stroke="#000" stroke-width="0.3"/>
<circle cx="482.62" cy="424.77" r="2.9" fill="#000" stroke="#000" stroke-width="0.3"/>
<circle cx="484.65" cy="425.97" r="2.9" fill="#000" stroke="#000" stroke-width="0.3"/>
<circle cx="486.68" cy="427.88" r="2.9" fill="#000" stroke="#000" stroke-width="0.3"/>
<circle cx="488.71" cy="425.29" r="2.9" fill="#000" stroke="#000" stroke-width="0.3"/>
<circle cx="490.74" cy="422.33" r="2.9" fill="#000" stroke="#000" stroke-width="0.3"/>
<circle cx="492.77" cy="420.01" r="2.9" fill="#000" stroke="#000" stroke-width="0.3"/>
<circle cx="494.8" cy="425.36" r="2.9" fill="#000" stroke="#000" stroke-width="0.3"/>
<circle cx="496.83" cy="423.47" r="2.9" fill="#000" stroke="#000" stroke-width="0.3"/>
<circle cx="498.86" cy="421.6" r="2.9" fill="#000" stroke="#000" stroke-width="0.3"/>
<circle cx="500.89" cy="422.97" r="2.9" fill="#000" stroke="#000" stroke-width="0.3"/>
<circle cx="502.92" cy="424.54" r="2.9" fill="#000" stroke="#000" stroke-width="0.3"/>
<circle cx="504.95" cy="425.97" r="2.9" fill="#000" stroke="#000" stroke-width="0.3"/>
<circle cx="506.98" cy="426.28" r="2.9" fill="#000" stroke="#000" stroke-width="0.3"/>
<circle cx="509.01" cy="424.64" r="2.9" fill="#000" stroke="#000" stroke-width="0.3"/>
<circle cx="511.04" cy="425.07" r="2.9" fill="#000" stroke="#000" stroke-width="0.3"/>
<circle cx="513.07" cy="429.61" r="2.9" fill="#000" stroke="#000" stroke-width="0.3"/>
<circle cx="515.1" cy="430.53" r="2.9" fill="#000" stroke="#000" stroke-width="0.3"/>
<line x1="341.9" y1="332.8" x2="375.7" y2="332.8" stroke="#bbb" stroke-width="1.2"/>
<circle cx="358.8" cy="332.8" r="2.9" fill="#fff" stroke="#444" stroke-width="0.9"/>
<text x="379.3" y="338.2" font-size="15.6">100 µM</text>
<line x1="341.9" y1="351.5" x2="375.7" y2="351.5" stroke="#999" stroke-width="1"/>
<circle cx="358.8" cy="351.5" r="2.9" fill="#000" stroke="#000" stroke-width="0.5"/>
<text x="379.3" y="356.9" font-size="15.6">25 µM</text>
<text x="556" y="254.6" font-size="16.5" font-weight="bold">D</text>
<text x="616.4" y="268.8" font-size="17.4">100 µM H<tspan font-size="12.5" dy="4">2</tspan><tspan dy="-4">O</tspan><tspan font-size="12.5" dy="4">2</tspan></text>
<rect x="617.6" y="275.3" width="154.2" height="6.8" fill="#999999"/>
<line x1="596.5" y1="279" x2="596.5" y2="437.8" stroke="#6a6a6a" stroke-width="1"/>
<line x1="596" y1="437.3" x2="776" y2="437.3" stroke="#6a6a6a" stroke-width="1"/>
<line x1="593" y1="419.2" x2="596.5" y2="419.2" stroke="#6a6a6a" stroke-width="1"/>
<text x="591.6" y="423" font-size="11.2" text-anchor="end">0.0</text>
<line x1="593" y1="391.2" x2="596.5" y2="391.2" stroke="#6a6a6a" stroke-width="1"/>
<text x="591.6" y="395" font-size="11.2" text-anchor="end">0.4</text>
<line x1="593" y1="363.2" x2="596.5" y2="363.2" stroke="#6a6a6a" stroke-width="1"/>
<text x="591.6" y="367" font-size="11.2" text-anchor="end">0.8</text>
<line x1="593" y1="335.2" x2="596.5" y2="335.2" stroke="#6a6a6a" stroke-width="1"/>
<text x="591.6" y="339" font-size="11.2" text-anchor="end">1.2</text>
<line x1="593" y1="307.2" x2="596.5" y2="307.2" stroke="#6a6a6a" stroke-width="1"/>
<text x="591.6" y="311" font-size="11.2" text-anchor="end">1.6</text>
<line x1="593" y1="279.2" x2="596.5" y2="279.2" stroke="#6a6a6a" stroke-width="1"/>
<text x="591.6" y="283" font-size="11.2" text-anchor="end">2.0</text>
<line x1="594.5" y1="405.2" x2="596.5" y2="405.2" stroke="#6a6a6a" stroke-width="1"/>
<line x1="594.5" y1="377.2" x2="596.5" y2="377.2" stroke="#6a6a6a" stroke-width="1"/>
<line x1="594.5" y1="349.2" x2="596.5" y2="349.2" stroke="#6a6a6a" stroke-width="1"/>
<line x1="594.5" y1="321.2" x2="596.5" y2="321.2" stroke="#6a6a6a" stroke-width="1"/>
<line x1="594.5" y1="293.2" x2="596.5" y2="293.2" stroke="#6a6a6a" stroke-width="1"/>
<line x1="594.5" y1="433.2" x2="596.5" y2="433.2" stroke="#6a6a6a" stroke-width="1"/>
<line x1="597" y1="437.3" x2="597" y2="440.6" stroke="#6a6a6a" stroke-width="1"/>
<text x="597.3" y="452.4" font-size="12" text-anchor="middle">0</text>
<line x1="647.9" y1="437.3" x2="647.9" y2="440.6" stroke="#6a6a6a" stroke-width="1"/>
<text x="648.2" y="452.4" font-size="12" text-anchor="middle">100</text>
<line x1="698.8" y1="437.3" x2="698.8" y2="440.6" stroke="#6a6a6a" stroke-width="1"/>
<text x="699.1" y="452.4" font-size="12" text-anchor="middle">200</text>
<line x1="749.7" y1="437.3" x2="749.7" y2="440.6" stroke="#6a6a6a" stroke-width="1"/>
<text x="750" y="452.4" font-size="12" text-anchor="middle">300</text>
<line x1="622.45" y1="437.3" x2="622.45" y2="439.3" stroke="#6a6a6a" stroke-width="1"/>
<line x1="673.35" y1="437.3" x2="673.35" y2="439.3" stroke="#6a6a6a" stroke-width="1"/>
<line x1="724.25" y1="437.3" x2="724.25" y2="439.3" stroke="#6a6a6a" stroke-width="1"/>
<line x1="775.15" y1="437.3" x2="775.15" y2="439.3" stroke="#6a6a6a" stroke-width="1"/>
<text x="717.8" y="469" font-size="18.2">Time, s</text>
<text x="565.5" y="440.9" font-size="18.8" transform="rotate(-90 565.5 440.9)">Fluo4/FuraRed, a.u.</text>
<line x1="597" y1="421.3" x2="767" y2="421.3" stroke="#444" stroke-width="0.8" stroke-dasharray="4.2 2.6"/>
<line x1="650.1" y1="396.82" x2="650.1" y2="390.49" stroke="#aaa" stroke-width="0.7"/>
<line x1="648.5" y1="390.49" x2="651.7" y2="390.49" stroke="#aaa" stroke-width="0.7"/>
<line x1="656.9" y1="380.65" x2="656.9" y2="368.97" stroke="#aaa" stroke-width="0.7"/>
<line x1="655.3" y1="368.97" x2="658.5" y2="368.97" stroke="#aaa" stroke-width="0.7"/>
<line x1="660.3" y1="380.33" x2="660.3" y2="363.89" stroke="#aaa" stroke-width="0.7"/>
<line x1="658.7" y1="363.89" x2="661.9" y2="363.89" stroke="#aaa" stroke-width="0.7"/>
<line x1="663.7" y1="375.94" x2="663.7" y2="355.68" stroke="#aaa" stroke-width="0.7"/>
<line x1="662.1" y1="355.68" x2="665.3" y2="355.68" stroke="#aaa" stroke-width="0.7"/>
<line x1="667.1" y1="367.3" x2="667.1" y2="345.39" stroke="#aaa" stroke-width="0.7"/>
<line x1="665.5" y1="345.39" x2="668.7" y2="345.39" stroke="#aaa" stroke-width="0.7"/>
<line x1="670.5" y1="367.75" x2="670.5" y2="359.38" stroke="#aaa" stroke-width="0.7"/>
<line x1="668.9" y1="359.38" x2="672.1" y2="359.38" stroke="#aaa" stroke-width="0.7"/>
<line x1="673.9" y1="361.19" x2="673.9" y2="345.84" stroke="#aaa" stroke-width="0.7"/>
<line x1="672.3" y1="345.84" x2="675.5" y2="345.84" stroke="#aaa" stroke-width="0.7"/>
<line x1="657.7" y1="378.5" x2="657.7" y2="369.89" stroke="#aaa" stroke-width="0.7"/>
<line x1="656.1" y1="369.89" x2="659.3" y2="369.89" stroke="#aaa" stroke-width="0.7"/>
<line x1="667.6" y1="366.6" x2="667.6" y2="346.79" stroke="#aaa" stroke-width="0.7"/>
<line x1="666" y1="346.79" x2="669.2" y2="346.79" stroke="#aaa" stroke-width="0.7"/>
<line x1="674" y1="357.3" x2="674" y2="340.36" stroke="#aaa" stroke-width="0.7"/>
<line x1="672.4" y1="340.36" x2="675.6" y2="340.36" stroke="#aaa" stroke-width="0.7"/>
<line x1="680.8" y1="353.9" x2="680.8" y2="340.36" stroke="#aaa" stroke-width="0.7"/>
<line x1="679.2" y1="340.36" x2="682.4" y2="340.36" stroke="#aaa" stroke-width="0.7"/>
<line x1="685.4" y1="344.8" x2="685.4" y2="332.5" stroke="#aaa" stroke-width="0.7"/>
<line x1="683.8" y1="332.5" x2="687" y2="332.5" stroke="#aaa" stroke-width="0.7"/>
<line x1="691" y1="324.4" x2="691" y2="315.54" stroke="#aaa" stroke-width="0.7"/>
<line x1="689.4" y1="315.54" x2="692.6" y2="315.54" stroke="#aaa" stroke-width="0.7"/>
<line x1="696.2" y1="329.4" x2="696.2" y2="308.85" stroke="#aaa" stroke-width="0.7"/>
<line x1="694.6" y1="308.85" x2="697.8" y2="308.85" stroke="#aaa" stroke-width="0.7"/>
<line x1="701.2" y1="324.4" x2="701.2" y2="303.65" stroke="#aaa" stroke-width="0.7"/>
<line x1="699.6" y1="303.65" x2="702.8" y2="303.65" stroke="#aaa" stroke-width="0.7"/>
<line x1="703.5" y1="322.2" x2="703.5" y2="300.89" stroke="#aaa" stroke-width="0.7"/>
<line x1="701.9" y1="300.89" x2="705.1" y2="300.89" stroke="#aaa" stroke-width="0.7"/>
<line x1="706.9" y1="322.6" x2="706.9" y2="301.72" stroke="#aaa" stroke-width="0.7"/>
<line x1="705.3" y1="301.72" x2="708.5" y2="301.72" stroke="#aaa" stroke-width="0.7"/>
<line x1="708.7" y1="312.6" x2="708.7" y2="304.15" stroke="#aaa" stroke-width="0.7"/>
<line x1="707.1" y1="304.15" x2="710.3" y2="304.15" stroke="#aaa" stroke-width="0.7"/>
<line x1="711.4" y1="315.4" x2="711.4" y2="295.13" stroke="#aaa" stroke-width="0.7"/>
<line x1="709.8" y1="295.13" x2="713" y2="295.13" stroke="#aaa" stroke-width="0.7"/>
<line x1="713.2" y1="318.3" x2="713.2" y2="309.71" stroke="#aaa" stroke-width="0.7"/>
<line x1="711.6" y1="309.71" x2="714.8" y2="309.71" stroke="#aaa" stroke-width="0.7"/>
<line x1="715.3" y1="308.5" x2="715.3" y2="286.77" stroke="#aaa" stroke-width="0.7"/>
<line x1="713.7" y1="286.77" x2="716.9" y2="286.77" stroke="#aaa" stroke-width="0.7"/>
<line x1="717.1" y1="304" x2="717.1" y2="285.38" stroke="#aaa" stroke-width="0.7"/>
<line x1="715.5" y1="285.38" x2="718.7" y2="285.38" stroke="#aaa" stroke-width="0.7"/>
<line x1="719.4" y1="301.7" x2="719.4" y2="281.18" stroke="#aaa" stroke-width="0.7"/>
<line x1="717.8" y1="281.18" x2="721" y2="281.18" stroke="#aaa" stroke-width="0.7"/>
<line x1="721.2" y1="313.5" x2="721.2" y2="294.98" stroke="#aaa" stroke-width="0.7"/>
<line x1="719.6" y1="294.98" x2="722.8" y2="294.98" stroke="#aaa" stroke-width="0.7"/>
<line x1="724.4" y1="310.8" x2="724.4" y2="290.11" stroke="#aaa" stroke-width="0.7"/>
<line x1="722.8" y1="290.11" x2="726" y2="290.11" stroke="#aaa" stroke-width="0.7"/>
<line x1="727.3" y1="318.1" x2="727.3" y2="299.73" stroke="#aaa" stroke-width="0.7"/>
<line x1="725.7" y1="299.73" x2="728.9" y2="299.73" stroke="#aaa" stroke-width="0.7"/>
<line x1="730.2" y1="307.4" x2="730.2" y2="286.73" stroke="#aaa" stroke-width="0.7"/>
<line x1="728.6" y1="286.73" x2="731.8" y2="286.73" stroke="#aaa" stroke-width="0.7"/>
<line x1="733" y1="312.6" x2="733" y2="304.21" stroke="#aaa" stroke-width="0.7"/>
<line x1="731.4" y1="304.21" x2="734.6" y2="304.21" stroke="#aaa" stroke-width="0.7"/>
<line x1="735.2" y1="317.6" x2="735.2" y2="300.08" stroke="#aaa" stroke-width="0.7"/>
<line x1="733.6" y1="300.08" x2="736.8" y2="300.08" stroke="#aaa" stroke-width="0.7"/>
<line x1="737.5" y1="302.9" x2="737.5" y2="283.05" stroke="#aaa" stroke-width="0.7"/>
<line x1="735.9" y1="283.05" x2="739.1" y2="283.05" stroke="#aaa" stroke-width="0.7"/>
<line x1="739.8" y1="316.5" x2="739.8" y2="296.08" stroke="#aaa" stroke-width="0.7"/>
<line x1="738.2" y1="296.08" x2="741.4" y2="296.08" stroke="#aaa" stroke-width="0.7"/>
<line x1="742" y1="318.8" x2="742" y2="310.21" stroke="#aaa" stroke-width="0.7"/>
<line x1="740.4" y1="310.21" x2="743.6" y2="310.21" stroke="#aaa" stroke-width="0.7"/>
<line x1="745.4" y1="312" x2="745.4" y2="297.3" stroke="#aaa" stroke-width="0.7"/>
<line x1="743.8" y1="297.3" x2="747" y2="297.3" stroke="#aaa" stroke-width="0.7"/>
<line x1="747.7" y1="315.4" x2="747.7" y2="299.24" stroke="#aaa" stroke-width="0.7"/>
<line x1="746.1" y1="299.24" x2="749.3" y2="299.24" stroke="#aaa" stroke-width="0.7"/>
<line x1="750" y1="320.3" x2="750" y2="309.19" stroke="#aaa" stroke-width="0.7"/>
<line x1="748.4" y1="309.19" x2="751.6" y2="309.19" stroke="#aaa" stroke-width="0.7"/>
<circle cx="597" cy="419.29" r="2.5" fill="#fff" stroke="#333" stroke-width="0.8"/>
<circle cx="598.53" cy="420.26" r="2.5" fill="#fff" stroke="#333" stroke-width="0.8"/>
<circle cx="600.05" cy="420.64" r="2.5" fill="#fff" stroke="#333" stroke-width="0.8"/>
<circle cx="601.58" cy="419.4" r="2.5" fill="#fff" stroke="#333" stroke-width="0.8"/>
<circle cx="603.11" cy="419.21" r="2.5" fill="#fff" stroke="#333" stroke-width="0.8"/>
<circle cx="604.63" cy="418.05" r="2.5" fill="#fff" stroke="#333" stroke-width="0.8"/>
<circle cx="606.16" cy="419.78" r="2.5" fill="#fff" stroke="#333" stroke-width="0.8"/>
<circle cx="607.69" cy="419.58" r="2.5" fill="#fff" stroke="#333" stroke-width="0.8"/>
<circle cx="609.22" cy="418.98" r="2.5" fill="#fff" stroke="#333" stroke-width="0.8"/>
<circle cx="610.74" cy="419.15" r="2.5" fill="#fff" stroke="#333" stroke-width="0.8"/>
<circle cx="612.27" cy="420.03" r="2.5" fill="#fff" stroke="#333" stroke-width="0.8"/>
<circle cx="613.8" cy="420.87" r="2.5" fill="#fff" stroke="#333" stroke-width="0.8"/>
<circle cx="615.32" cy="419.01" r="2.5" fill="#fff" stroke="#333" stroke-width="0.8"/>
<circle cx="616.85" cy="418.48" r="2.5" fill="#fff" stroke="#333" stroke-width="0.8"/>
<circle cx="618.38" cy="418.61" r="2.5" fill="#fff" stroke="#333" stroke-width="0.8"/>
<circle cx="619.9" cy="418.21" r="2.5" fill="#fff" stroke="#333" stroke-width="0.8"/>
<circle cx="621.43" cy="420.67" r="2.5" fill="#fff" stroke="#333" stroke-width="0.8"/>
<circle cx="622.96" cy="418.15" r="2.5" fill="#fff" stroke="#333" stroke-width="0.8"/>
<circle cx="624.49" cy="418.4" r="2.5" fill="#fff" stroke="#333" stroke-width="0.8"/>
<circle cx="626.01" cy="419.01" r="2.5" fill="#fff" stroke="#333" stroke-width="0.8"/>
<circle cx="627.54" cy="416.65" r="2.5" fill="#fff" stroke="#333" stroke-width="0.8"/>
<circle cx="629.07" cy="416.49" r="2.5" fill="#fff" stroke="#333" stroke-width="0.8"/>
<circle cx="630.59" cy="416.72" r="2.5" fill="#fff" stroke="#333" stroke-width="0.8"/>
<circle cx="632.12" cy="414.9" r="2.5" fill="#fff" stroke="#333" stroke-width="0.8"/>
<circle cx="633.65" cy="415.3" r="2.5" fill="#fff" stroke="#333" stroke-width="0.8"/>
<circle cx="635.17" cy="416.1" r="2.5" fill="#fff" stroke="#333" stroke-width="0.8"/>
<circle cx="636.7" cy="415.66" r="2.5" fill="#fff" stroke="#333" stroke-width="0.8"/>
<circle cx="638.23" cy="415.93" r="2.5" fill="#fff" stroke="#333" stroke-width="0.8"/>
<circle cx="639.76" cy="414.62" r="2.5" fill="#fff" stroke="#333" stroke-width="0.8"/>
<circle cx="641.28" cy="415.7" r="2.5" fill="#fff" stroke="#333" stroke-width="0.8"/>
<circle cx="642.81" cy="414.68" r="2.5" fill="#fff" stroke="#333" stroke-width="0.8"/>
<circle cx="644.34" cy="413.67" r="2.5" fill="#fff" stroke="#333" stroke-width="0.8"/>
<circle cx="645.86" cy="413.56" r="2.5" fill="#fff" stroke="#333" stroke-width="0.8"/>
<circle cx="647.39" cy="413.31" r="2.5" fill="#fff" stroke="#333" stroke-width="0.8"/>
<circle cx="648.92" cy="414.3" r="2.5" fill="#fff" stroke="#333" stroke-width="0.8"/>
<circle cx="650.45" cy="412.72" r="2.5" fill="#fff" stroke="#333" stroke-width="0.8"/>
<circle cx="651.97" cy="413.14" r="2.5" fill="#fff" stroke="#333" stroke-width="0.8"/>
<circle cx="653.5" cy="411.92" r="2.5" fill="#fff" stroke="#333" stroke-width="0.8"/>
<circle cx="655.03" cy="412.85" r="2.5" fill="#fff" stroke="#333" stroke-width="0.8"/>
<circle cx="656.55" cy="411.32" r="2.5" fill="#fff" stroke="#333" stroke-width="0.8"/>
<circle cx="658.08" cy="412.05" r="2.5" fill="#fff" stroke="#333" stroke-width="0.8"/>
<circle cx="659.61" cy="411.68" r="2.5" fill="#fff" stroke="#333" stroke-width="0.8"/>
<circle cx="661.13" cy="412.37" r="2.5" fill="#fff" stroke="#333" stroke-width="0.8"/>
<circle cx="662.66" cy="412.29" r="2.5" fill="#fff" stroke="#333" stroke-width="0.8"/>
<circle cx="664.19" cy="412.2" r="2.5" fill="#fff" stroke="#333" stroke-width="0.8"/>
<circle cx="665.72" cy="411.18" r="2.5" fill="#fff" stroke="#333" stroke-width="0.8"/>
<circle cx="667.24" cy="412.17" r="2.5" fill="#fff" stroke="#333" stroke-width="0.8"/>
<circle cx="668.77" cy="411.93" r="2.5" fill="#fff" stroke="#333" stroke-width="0.8"/>
<circle cx="670.3" cy="411.05" r="2.5" fill="#fff" stroke="#333" stroke-width="0.8"/>
<circle cx="671.82" cy="411.55" r="2.5" fill="#fff" stroke="#333" stroke-width="0.8"/>
<circle cx="673.35" cy="412.16" r="2.5" fill="#fff" stroke="#333" stroke-width="0.8"/>
<circle cx="674.88" cy="411.86" r="2.5" fill="#fff" stroke="#333" stroke-width="0.8"/>
<circle cx="676.4" cy="413.15" r="2.5" fill="#fff" stroke="#333" stroke-width="0.8"/>
<circle cx="677.93" cy="413.35" r="2.5" fill="#fff" stroke="#333" stroke-width="0.8"/>
<circle cx="679.46" cy="412.13" r="2.5" fill="#fff" stroke="#333" stroke-width="0.8"/>
<circle cx="680.99" cy="410.67" r="2.5" fill="#fff" stroke="#333" stroke-width="0.8"/>
<circle cx="682.51" cy="411.37" r="2.5" fill="#fff" stroke="#333" stroke-width="0.8"/>
<circle cx="684.04" cy="411.21" r="2.5" fill="#fff" stroke="#333" stroke-width="0.8"/>
<circle cx="685.57" cy="412.78" r="2.5" fill="#fff" stroke="#333" stroke-width="0.8"/>
<circle cx="687.09" cy="413.77" r="2.5" fill="#fff" stroke="#333" stroke-width="0.8"/>
<circle cx="688.62" cy="412.88" r="2.5" fill="#fff" stroke="#333" stroke-width="0.8"/>
<circle cx="690.15" cy="414.7" r="2.5" fill="#fff" stroke="#333" stroke-width="0.8"/>
<circle cx="691.67" cy="416.11" r="2.5" fill="#fff" stroke="#333" stroke-width="0.8"/>
<circle cx="693.2" cy="414.06" r="2.5" fill="#fff" stroke="#333" stroke-width="0.8"/>
<circle cx="694.73" cy="413.89" r="2.5" fill="#fff" stroke="#333" stroke-width="0.8"/>
<circle cx="696.25" cy="414.37" r="2.5" fill="#fff" stroke="#333" stroke-width="0.8"/>
<circle cx="697.78" cy="414.04" r="2.5" fill="#fff" stroke="#333" stroke-width="0.8"/>
<circle cx="699.31" cy="414.84" r="2.5" fill="#fff" stroke="#333" stroke-width="0.8"/>
<circle cx="700.84" cy="415.38" r="2.5" fill="#fff" stroke="#333" stroke-width="0.8"/>
<circle cx="702.36" cy="416.61" r="2.5" fill="#fff" stroke="#333" stroke-width="0.8"/>
<circle cx="703.89" cy="416.2" r="2.5" fill="#fff" stroke="#333" stroke-width="0.8"/>
<circle cx="705.42" cy="417.17" r="2.5" fill="#fff" stroke="#333" stroke-width="0.8"/>
<circle cx="706.94" cy="416.83" r="2.5" fill="#fff" stroke="#333" stroke-width="0.8"/>
<circle cx="708.47" cy="415.46" r="2.5" fill="#fff" stroke="#333" stroke-width="0.8"/>
<circle cx="710" cy="416.85" r="2.5" fill="#fff" stroke="#333" stroke-width="0.8"/>
<circle cx="711.52" cy="416.94" r="2.5" fill="#fff" stroke="#333" stroke-width="0.8"/>
<circle cx="713.05" cy="417.88" r="2.5" fill="#fff" stroke="#333" stroke-width="0.8"/>
<circle cx="714.58" cy="415.75" r="2.5" fill="#fff" stroke="#333" stroke-width="0.8"/>
<circle cx="716.11" cy="419.14" r="2.5" fill="#fff" stroke="#333" stroke-width="0.8"/>
<circle cx="717.63" cy="418.56" r="2.5" fill="#fff" stroke="#333" stroke-width="0.8"/>
<circle cx="719.16" cy="417.4" r="2.5" fill="#fff" stroke="#333" stroke-width="0.8"/>
<circle cx="720.69" cy="418.73" r="2.5" fill="#fff" stroke="#333" stroke-width="0.8"/>
<circle cx="722.21" cy="418.89" r="2.5" fill="#fff" stroke="#333" stroke-width="0.8"/>
<circle cx="723.74" cy="418.1" r="2.5" fill="#fff" stroke="#333" stroke-width="0.8"/>
<circle cx="725.27" cy="418.05" r="2.5" fill="#fff" stroke="#333" stroke-width="0.8"/>
<circle cx="726.8" cy="418.2" r="2.5" fill="#fff" stroke="#333" stroke-width="0.8"/>
<circle cx="728.32" cy="419.37" r="2.5" fill="#fff" stroke="#333" stroke-width="0.8"/>
<circle cx="729.85" cy="418.33" r="2.5" fill="#fff" stroke="#333" stroke-width="0.8"/>
<circle cx="731.38" cy="419.78" r="2.5" fill="#fff" stroke="#333" stroke-width="0.8"/>
<circle cx="732.9" cy="419.65" r="2.5" fill="#fff" stroke="#333" stroke-width="0.8"/>
<circle cx="734.43" cy="419.77" r="2.5" fill="#fff" stroke="#333" stroke-width="0.8"/>
<circle cx="735.96" cy="418.9" r="2.5" fill="#fff" stroke="#333" stroke-width="0.8"/>
<circle cx="737.48" cy="419.43" r="2.5" fill="#fff" stroke="#333" stroke-width="0.8"/>
<circle cx="739.01" cy="419.89" r="2.5" fill="#fff" stroke="#333" stroke-width="0.8"/>
<circle cx="740.54" cy="419.25" r="2.5" fill="#fff" stroke="#333" stroke-width="0.8"/>
<circle cx="742.07" cy="420.02" r="2.5" fill="#fff" stroke="#333" stroke-width="0.8"/>
<circle cx="743.59" cy="419.69" r="2.5" fill="#fff" stroke="#333" stroke-width="0.8"/>
<circle cx="745.12" cy="419.59" r="2.5" fill="#fff" stroke="#333" stroke-width="0.8"/>
<circle cx="746.65" cy="419.79" r="2.5" fill="#fff" stroke="#333" stroke-width="0.8"/>
<circle cx="748.17" cy="420.12" r="2.5" fill="#fff" stroke="#333" stroke-width="0.8"/>
<circle cx="749.7" cy="420.31" r="2.5" fill="#fff" stroke="#333" stroke-width="0.8"/>
<circle cx="751.23" cy="418.68" r="2.5" fill="#fff" stroke="#333" stroke-width="0.8"/>
<circle cx="752.75" cy="420.91" r="2.5" fill="#fff" stroke="#333" stroke-width="0.8"/>
<circle cx="754.28" cy="419.27" r="2.5" fill="#fff" stroke="#333" stroke-width="0.8"/>
<circle cx="755.81" cy="420.05" r="2.5" fill="#fff" stroke="#333" stroke-width="0.8"/>
<circle cx="757.34" cy="420" r="2.5" fill="#fff" stroke="#333" stroke-width="0.8"/>
<circle cx="758.86" cy="420.76" r="2.5" fill="#fff" stroke="#333" stroke-width="0.8"/>
<circle cx="760.39" cy="419.54" r="2.5" fill="#fff" stroke="#333" stroke-width="0.8"/>
<circle cx="761.92" cy="419.91" r="2.5" fill="#fff" stroke="#333" stroke-width="0.8"/>
<circle cx="763.44" cy="418.78" r="2.5" fill="#fff" stroke="#333" stroke-width="0.8"/>
<circle cx="764.97" cy="419.93" r="2.5" fill="#fff" stroke="#333" stroke-width="0.8"/>
<circle cx="766.5" cy="420.3" r="2.5" fill="#fff" stroke="#333" stroke-width="0.8"/>
<circle cx="768.02" cy="420.38" r="2.5" fill="#fff" stroke="#333" stroke-width="0.8"/>
<circle cx="769.55" cy="418.87" r="2.5" fill="#fff" stroke="#333" stroke-width="0.8"/>
<circle cx="771.08" cy="419.14" r="2.5" fill="#fff" stroke="#333" stroke-width="0.8"/>
<circle cx="772.61" cy="419.79" r="2.5" fill="#fff" stroke="#333" stroke-width="0.8"/>
<circle cx="774.13" cy="418.38" r="2.5" fill="#fff" stroke="#333" stroke-width="0.8"/>
<circle cx="597" cy="420.13" r="2.8" fill="#000" stroke="#000" stroke-width="0.3"/>
<circle cx="598.63" cy="421.12" r="2.8" fill="#000" stroke="#000" stroke-width="0.3"/>
<circle cx="600.26" cy="419.69" r="2.8" fill="#000" stroke="#000" stroke-width="0.3"/>
<circle cx="601.89" cy="422.53" r="2.8" fill="#000" stroke="#000" stroke-width="0.3"/>
<circle cx="603.52" cy="420.42" r="2.8" fill="#000" stroke="#000" stroke-width="0.3"/>
<circle cx="605.14" cy="422.58" r="2.8" fill="#000" stroke="#000" stroke-width="0.3"/>
<circle cx="606.77" cy="419.59" r="2.8" fill="#000" stroke="#000" stroke-width="0.3"/>
<circle cx="608.4" cy="419.49" r="2.8" fill="#000" stroke="#000" stroke-width="0.3"/>
<circle cx="610.03" cy="420.79" r="2.8" fill="#000" stroke="#000" stroke-width="0.3"/>
<circle cx="611.66" cy="418.72" r="2.8" fill="#000" stroke="#000" stroke-width="0.3"/>
<circle cx="613.29" cy="421.83" r="2.8" fill="#000" stroke="#000" stroke-width="0.3"/>
<circle cx="614.92" cy="419.66" r="2.8" fill="#000" stroke="#000" stroke-width="0.3"/>
<circle cx="616.55" cy="420.82" r="2.8" fill="#000" stroke="#000" stroke-width="0.3"/>
<circle cx="618.17" cy="422.62" r="2.8" fill="#000" stroke="#000" stroke-width="0.3"/>
<circle cx="619.8" cy="419.4" r="2.8" fill="#000" stroke="#000" stroke-width="0.3"/>
<circle cx="621.43" cy="417.63" r="2.8" fill="#000" stroke="#000" stroke-width="0.3"/>
<circle cx="623.06" cy="415.18" r="2.8" fill="#000" stroke="#000" stroke-width="0.3"/>
<circle cx="624.69" cy="420.44" r="2.8" fill="#000" stroke="#000" stroke-width="0.3"/>
<circle cx="626.32" cy="419.76" r="2.8" fill="#000" stroke="#000" stroke-width="0.3"/>
<circle cx="628" cy="424.42" r="2.8" fill="#000" stroke="#000" stroke-width="0.3"/>
<circle cx="629.7" cy="415.5" r="2.8" fill="#000" stroke="#000" stroke-width="0.3"/>
<circle cx="631.4" cy="417.23" r="2.8" fill="#000" stroke="#000" stroke-width="0.3"/>
<circle cx="633.1" cy="407.55" r="2.8" fill="#000" stroke="#000" stroke-width="0.3"/>
<circle cx="634.8" cy="406.34" r="2.8" fill="#000" stroke="#000" stroke-width="0.3"/>
<circle cx="636.5" cy="405.98" r="2.8" fill="#000" stroke="#000" stroke-width="0.3"/>
<circle cx="638.2" cy="403.6" r="2.8" fill="#000" stroke="#000" stroke-width="0.3"/>
<circle cx="639.9" cy="405" r="2.8" fill="#000" stroke="#000" stroke-width="0.3"/>
<circle cx="641.6" cy="399.62" r="2.8" fill="#000" stroke="#000" stroke-width="0.3"/>
<circle cx="643.3" cy="400.2" r="2.8" fill="#000" stroke="#000" stroke-width="0.3"/>
<circle cx="645" cy="398.45" r="2.8" fill="#000" stroke="#000" stroke-width="0.3"/>
<circle cx="646.7" cy="398.17" r="2.8" fill="#000" stroke="#000" stroke-width="0.3"/>
<circle cx="648.4" cy="397.69" r="2.8" fill="#000" stroke="#000" stroke-width="0.3"/>
<circle cx="650.1" cy="396.82" r="2.8" fill="#000" stroke="#000" stroke-width="0.3"/>
<circle cx="651.8" cy="394.08" r="2.8" fill="#000" stroke="#000" stroke-width="0.3"/>
<circle cx="653.5" cy="392.69" r="2.8" fill="#000" stroke="#000" stroke-width="0.3"/>
<circle cx="655.2" cy="390.51" r="2.8" fill="#000" stroke="#000" stroke-width="0.3"/>
<circle cx="656.9" cy="380.65" r="2.8" fill="#000" stroke="#000" stroke-width="0.3"/>
<circle cx="658.6" cy="375.23" r="2.8" fill="#000" stroke="#000" stroke-width="0.3"/>
<circle cx="660.3" cy="380.33" r="2.8" fill="#000" stroke="#000" stroke-width="0.3"/>
<circle cx="662" cy="377.57" r="2.8" fill="#000" stroke="#000" stroke-width="0.3"/>
<circle cx="663.7" cy="375.94" r="2.8" fill="#000" stroke="#000" stroke-width="0.3"/>
<circle cx="665.4" cy="373.2" r="2.8" fill="#000" stroke="#000" stroke-width="0.3"/>
<circle cx="667.1" cy="367.3" r="2.8" fill="#000" stroke="#000" stroke-width="0.3"/>
<circle cx="668.8" cy="366.23" r="2.8" fill="#000" stroke="#000" stroke-width="0.3"/>
<circle cx="670.5" cy="367.75" r="2.8" fill="#000" stroke="#000" stroke-width="0.3"/>
<circle cx="672.2" cy="371.37" r="2.8" fill="#000" stroke="#000" stroke-width="0.3"/>
<circle cx="673.9" cy="361.19" r="2.8" fill="#000" stroke="#000" stroke-width="0.3"/>
<circle cx="628" cy="421" r="2.8" fill="#000" stroke="#000" stroke-width="0.3"/>
<circle cx="633" cy="411" r="2.8" fill="#000" stroke="#000" stroke-width="0.3"/>
<circle cx="637.9" cy="404.6" r="2.8" fill="#000" stroke="#000" stroke-width="0.3"/>
<circle cx="647.8" cy="397" r="2.8" fill="#000" stroke="#000" stroke-width="0.3"/>
<circle cx="656" cy="389.7" r="2.8" fill="#000" stroke="#000" stroke-width="0.3"/>
<circle cx="657.7" cy="378.5" r="2.8" fill="#000" stroke="#000" stroke-width="0.3"/>
<circle cx="662.6" cy="380.6" r="2.8" fill="#000" stroke="#000" stroke-width="0.3"/>
<circle cx="667.6" cy="366.6" r="2.8" fill="#000" stroke="#000" stroke-width="0.3"/>
<circle cx="672.5" cy="371.6" r="2.8" fill="#000" stroke="#000" stroke-width="0.3"/>
<circle cx="674" cy="357.3" r="2.8" fill="#000" stroke="#000" stroke-width="0.3"/>
<circle cx="677.4" cy="353.9" r="2.8" fill="#000" stroke="#000" stroke-width="0.3"/>
<circle cx="680.8" cy="353.9" r="2.8" fill="#000" stroke="#000" stroke-width="0.3"/>
<circle cx="683.1" cy="342.6" r="2.8" fill="#000" stroke="#000" stroke-width="0.3"/>
<circle cx="685.4" cy="344.8" r="2.8" fill="#000" stroke="#000" stroke-width="0.3"/>
<circle cx="688.8" cy="339.2" r="2.8" fill="#000" stroke="#000" stroke-width="0.3"/>
<circle cx="691" cy="324.4" r="2.8" fill="#000" stroke="#000" stroke-width="0.3"/>
<circle cx="693.3" cy="329" r="2.8" fill="#000" stroke="#000" stroke-width="0.3"/>
<circle cx="696.2" cy="329.4" r="2.8" fill="#000" stroke="#000" stroke-width="0.3"/>
<circle cx="698.5" cy="333.5" r="2.8" fill="#000" stroke="#000" stroke-width="0.3"/>
<circle cx="701.2" cy="324.4" r="2.8" fill="#000" stroke="#000" stroke-width="0.3"/>
<circle cx="703.5" cy="322.2" r="2.8" fill="#000" stroke="#000" stroke-width="0.3"/>
<circle cx="706.9" cy="322.6" r="2.8" fill="#000" stroke="#000" stroke-width="0.3"/>
<circle cx="708.7" cy="312.6" r="2.8" fill="#000" stroke="#000" stroke-width="0.3"/>
<circle cx="711.4" cy="315.4" r="2.8" fill="#000" stroke="#000" stroke-width="0.3"/>
<circle cx="713.2" cy="318.3" r="2.8" fill="#000" stroke="#000" stroke-width="0.3"/>
<circle cx="715.3" cy="308.5" r="2.8" fill="#000" stroke="#000" stroke-width="0.3"/>
<circle cx="717.1" cy="304" r="2.8" fill="#000" stroke="#000" stroke-width="0.3"/>
<circle cx="719.4" cy="301.7" r="2.8" fill="#000" stroke="#000" stroke-width="0.3"/>
<circle cx="721.2" cy="313.5" r="2.8" fill="#000" stroke="#000" stroke-width="0.3"/>
<circle cx="724.4" cy="310.8" r="2.8" fill="#000" stroke="#000" stroke-width="0.3"/>
<circle cx="727.3" cy="318.1" r="2.8" fill="#000" stroke="#000" stroke-width="0.3"/>
<circle cx="730.2" cy="307.4" r="2.8" fill="#000" stroke="#000" stroke-width="0.3"/>
<circle cx="733" cy="312.6" r="2.8" fill="#000" stroke="#000" stroke-width="0.3"/>
<circle cx="735.2" cy="317.6" r="2.8" fill="#000" stroke="#000" stroke-width="0.3"/>
<circle cx="737.5" cy="302.9" r="2.8" fill="#000" stroke="#000" stroke-width="0.3"/>
<circle cx="739.8" cy="316.5" r="2.8" fill="#000" stroke="#000" stroke-width="0.3"/>
<circle cx="742" cy="318.8" r="2.8" fill="#000" stroke="#000" stroke-width="0.3"/>
<circle cx="745.4" cy="312" r="2.8" fill="#000" stroke="#000" stroke-width="0.3"/>
<circle cx="747.7" cy="315.4" r="2.8" fill="#000" stroke="#000" stroke-width="0.3"/>
<circle cx="750" cy="320.3" r="2.8" fill="#000" stroke="#000" stroke-width="0.3"/>
<line x1="687.2" y1="360.4" x2="718.4" y2="360.4" stroke="#999" stroke-width="1"/>
<circle cx="702.7" cy="360.4" r="2.8" fill="#000" stroke="#000" stroke-width="0.4"/>
<g transform="translate(719.2 362.7) scale(1.045 1)"><text x="0" y="0" font-size="15.3">2 mM Ca<tspan font-size="10.5" dy="-6">2+</tspan></text></g>
<line x1="687.2" y1="379.5" x2="718.4" y2="379.5" stroke="#999" stroke-width="1"/>
<circle cx="702.7" cy="379.5" r="2.8" fill="#fff" stroke="#555" stroke-width="0.8"/>
<g transform="translate(719.2 382.0) scale(1.045 1)"><text x="0" y="0" font-size="15.3">0 mM Ca<tspan font-size="10.5" dy="-6">2+</tspan></text></g>
</svg>
</body></html>
